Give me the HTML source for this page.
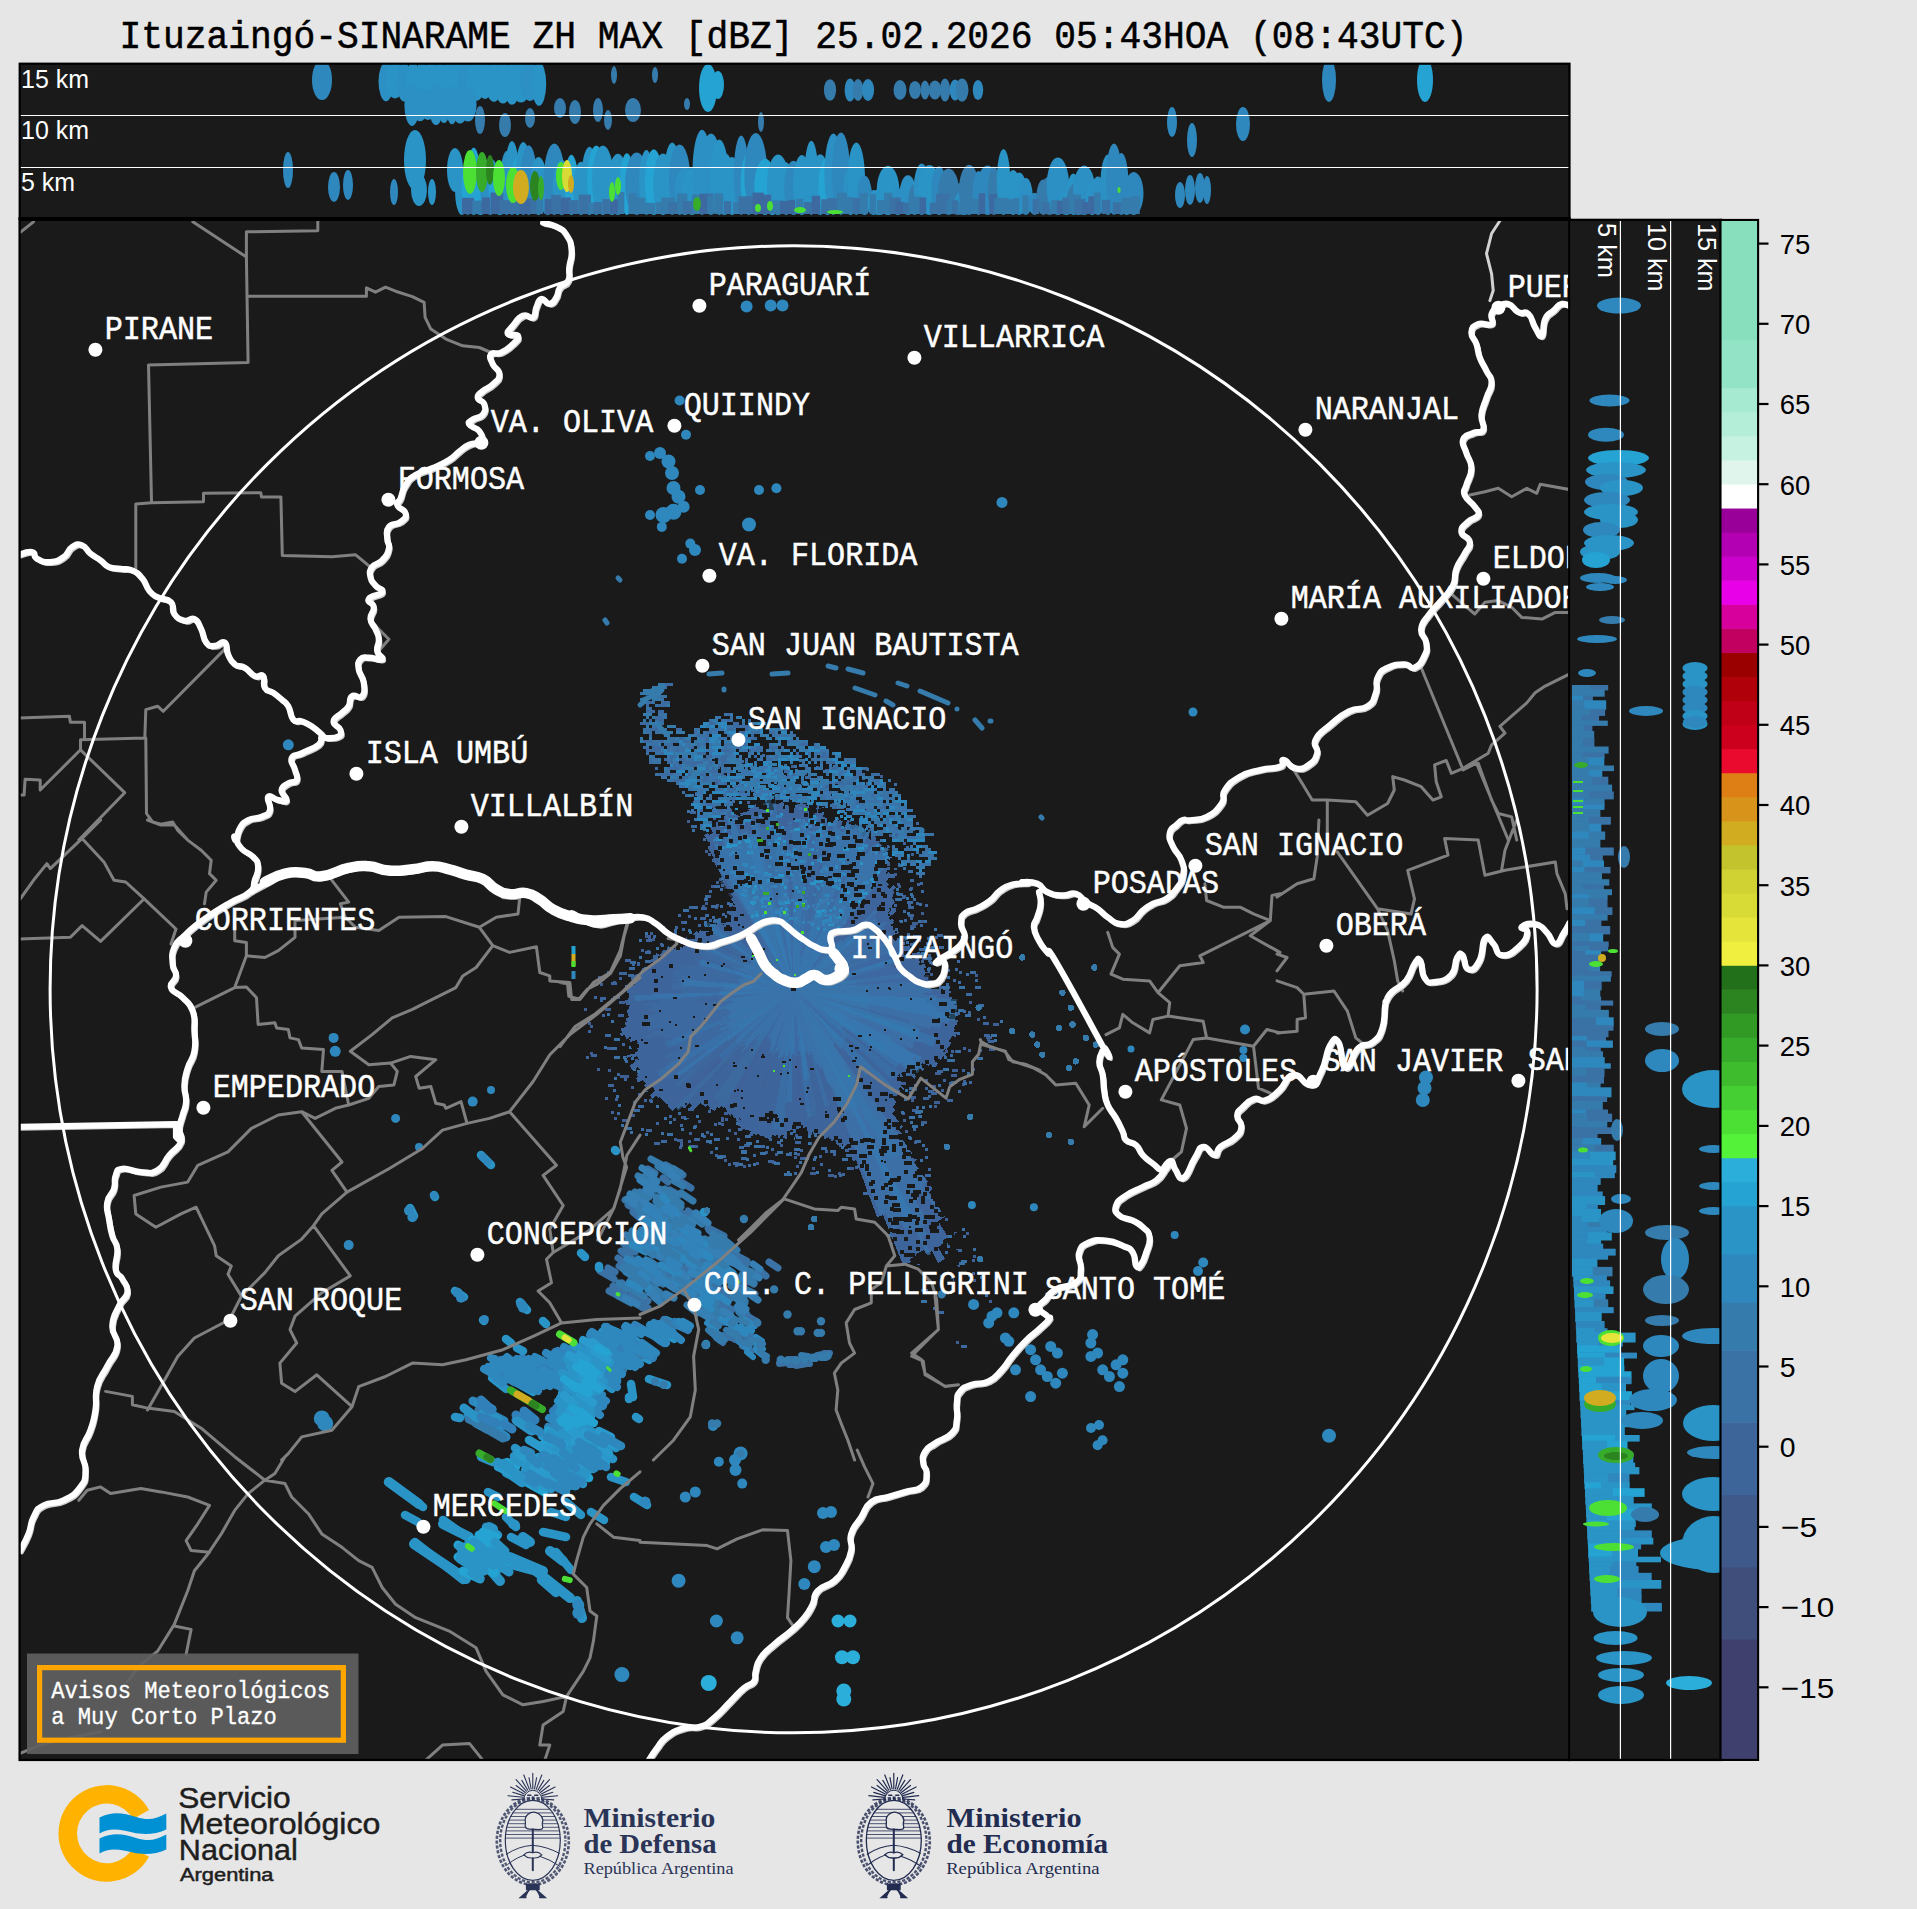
<!DOCTYPE html>
<html><head><meta charset="utf-8"><title>Radar</title>
<style>html,body{margin:0;padding:0;background:#e6e6e6}svg{display:block}.m{font-family:"Liberation Mono",monospace}.s{font-family:"Liberation Sans",sans-serif}.f{font-family:"Liberation Serif",serif}</style></head><body>
<svg width="1917" height="1909" viewBox="0 0 1917 1909">
<rect width="1917" height="1909" fill="#e6e6e6"/>
<defs><clipPath id="cm"><rect x="19.5" y="219.5" width="1550" height="1540"/></clipPath><clipPath id="ct"><rect x="19.5" y="63.5" width="1550" height="154.5"/></clipPath><clipPath id="cr"><rect x="1570.5" y="219.5" width="150" height="1540"/></clipPath></defs>
<text class="m" x="119.5" y="48.0" font-size="38.81" textLength="1347.9" lengthAdjust="spacingAndGlyphs" fill="#000" stroke="#000" stroke-width="0.55" >Ituzaingó-SINARAME ZH MAX [dBZ] 25.02.2026 05:43HOA (08:43UTC)</text>
<rect x="19.5" y="63.5" width="1550" height="154.5" fill="#1a1a1a"/>
<g clip-path="url(#ct)">
<ellipse cx="322.0" cy="80.0" rx="10.0" ry="20.0" fill="#2f88bd"/><ellipse cx="386.0" cy="81.6" rx="7.5" ry="19.6" fill="#2c90c4"/><ellipse cx="395.0" cy="80.2" rx="9.5" ry="18.2" fill="#2a94c6"/><ellipse cx="404.0" cy="81.8" rx="7.2" ry="19.8" fill="#2c90c4"/><ellipse cx="413.0" cy="81.1" rx="7.3" ry="19.1" fill="#2a94c6"/><ellipse cx="422.0" cy="80.3" rx="7.3" ry="18.3" fill="#2a94c6"/><ellipse cx="431.0" cy="80.3" rx="8.7" ry="18.3" fill="#2a94c6"/><ellipse cx="440.0" cy="83.2" rx="8.7" ry="21.2" fill="#2a94c6"/><ellipse cx="449.0" cy="82.9" rx="8.2" ry="20.9" fill="#2a94c6"/><ellipse cx="458.0" cy="80.2" rx="9.6" ry="18.2" fill="#2a94c6"/><ellipse cx="467.0" cy="82.1" rx="8.6" ry="20.1" fill="#2c90c4"/><ellipse cx="476.0" cy="81.5" rx="9.4" ry="19.5" fill="#2a94c6"/><ellipse cx="485.0" cy="80.5" rx="8.7" ry="18.5" fill="#2a94c6"/><ellipse cx="494.0" cy="81.9" rx="8.6" ry="19.9" fill="#2a94c6"/><ellipse cx="503.0" cy="82.8" rx="8.9" ry="20.8" fill="#2a94c6"/><ellipse cx="512.0" cy="83.4" rx="8.3" ry="21.4" fill="#2a94c6"/><ellipse cx="521.0" cy="82.3" rx="9.8" ry="20.3" fill="#2a94c6"/><ellipse cx="530.0" cy="81.5" rx="9.4" ry="19.5" fill="#2c90c4"/><ellipse cx="539.0" cy="83.9" rx="7.2" ry="21.9" fill="#2a94c6"/><ellipse cx="412.0" cy="105.0" rx="7.6" ry="21.0" fill="#2c90c4"/><ellipse cx="420.0" cy="105.0" rx="8.2" ry="16.3" fill="#2c90c4"/><ellipse cx="428.0" cy="105.0" rx="8.9" ry="14.9" fill="#2c90c4"/><ellipse cx="436.0" cy="105.0" rx="7.3" ry="20.1" fill="#2c90c4"/><ellipse cx="444.0" cy="105.0" rx="6.5" ry="17.9" fill="#2c90c4"/><ellipse cx="452.0" cy="105.0" rx="6.1" ry="19.3" fill="#2c90c4"/><ellipse cx="460.0" cy="105.0" rx="8.3" ry="18.6" fill="#2c90c4"/><ellipse cx="468.0" cy="105.0" rx="8.6" ry="16.5" fill="#2c90c4"/><ellipse cx="480.0" cy="120.0" rx="5.0" ry="14.0" fill="#357bac"/><ellipse cx="505.0" cy="125.0" rx="6.0" ry="12.0" fill="#357bac"/><ellipse cx="530.0" cy="118.0" rx="5.0" ry="10.0" fill="#357bac"/><ellipse cx="560.0" cy="108.0" rx="6.0" ry="10.0" fill="#357bac"/><ellipse cx="575.0" cy="112.0" rx="6.0" ry="12.0" fill="#357bac"/><ellipse cx="598.0" cy="110.0" rx="5.0" ry="12.0" fill="#357bac"/><ellipse cx="608.0" cy="120.0" rx="4.0" ry="10.0" fill="#357bac"/><ellipse cx="633.0" cy="110.0" rx="8.0" ry="12.0" fill="#357bac"/><ellipse cx="687.0" cy="104.0" rx="3.0" ry="6.0" fill="#357bac"/><ellipse cx="614.0" cy="75.0" rx="3.0" ry="9.0" fill="#357bac"/><ellipse cx="655.0" cy="75.0" rx="3.0" ry="8.0" fill="#357bac"/><ellipse cx="708.0" cy="88.0" rx="9.0" ry="24.0" fill="#25a3d3"/><ellipse cx="718.0" cy="85.0" rx="6.0" ry="14.0" fill="#25a3d3"/><ellipse cx="761.0" cy="122.0" rx="3.0" ry="10.0" fill="#357bac"/><ellipse cx="830.0" cy="90.0" rx="6.1" ry="10.8" fill="#357bac"/><ellipse cx="850.0" cy="90.0" rx="5.4" ry="11.5" fill="#2f88bd"/><ellipse cx="858.0" cy="90.0" rx="5.4" ry="11.0" fill="#357bac"/><ellipse cx="868.0" cy="90.0" rx="6.1" ry="10.9" fill="#2f88bd"/><ellipse cx="900.0" cy="90.0" rx="6.5" ry="9.9" fill="#357bac"/><ellipse cx="915.0" cy="90.0" rx="6.0" ry="9.1" fill="#357bac"/><ellipse cx="925.0" cy="90.0" rx="4.5" ry="9.4" fill="#357bac"/><ellipse cx="935.0" cy="90.0" rx="6.3" ry="9.4" fill="#357bac"/><ellipse cx="945.0" cy="90.0" rx="5.2" ry="11.6" fill="#357bac"/><ellipse cx="955.0" cy="90.0" rx="5.3" ry="10.6" fill="#2f88bd"/><ellipse cx="962.0" cy="90.0" rx="6.5" ry="11.6" fill="#357bac"/><ellipse cx="978.0" cy="90.0" rx="5.2" ry="10.1" fill="#2f88bd"/><ellipse cx="1172.0" cy="122.0" rx="5.0" ry="15.0" fill="#2f88bd"/><ellipse cx="1192.0" cy="140.0" rx="5.0" ry="17.0" fill="#2f88bd"/><ellipse cx="1243.0" cy="124.0" rx="7.0" ry="17.0" fill="#2f88bd"/><ellipse cx="1329.0" cy="80.0" rx="7.0" ry="22.0" fill="#2f88bd"/><ellipse cx="1425.0" cy="80.0" rx="8.0" ry="22.0" fill="#25a3d3"/><ellipse cx="288.0" cy="170.0" rx="5.0" ry="18.0" fill="#2f88bd"/><ellipse cx="334.0" cy="187.0" rx="6.0" ry="15.0" fill="#2f88bd"/><ellipse cx="348.0" cy="185.0" rx="5.0" ry="15.0" fill="#2f88bd"/><ellipse cx="394.0" cy="192.0" rx="4.0" ry="13.0" fill="#2f88bd"/><ellipse cx="415.0" cy="160.0" rx="11.0" ry="30.0" fill="#2a94c6"/><ellipse cx="419.0" cy="190.0" rx="8.0" ry="16.0" fill="#2a94c6"/><ellipse cx="432.0" cy="192.0" rx="4.0" ry="13.0" fill="#2a94c6"/><ellipse cx="455.0" cy="170.0" rx="8.0" ry="22.0" fill="#2a94c6"/><ellipse cx="462.0" cy="191.4" rx="6.9" ry="23.6" fill="#2a94c6"/><ellipse cx="467.8" cy="186.9" rx="6.1" ry="28.1" fill="#25a3d3"/><ellipse cx="473.7" cy="181.2" rx="6.9" ry="33.8" fill="#25a3d3"/><ellipse cx="480.5" cy="185.5" rx="11.7" ry="29.5" fill="#25a3d3"/><ellipse cx="490.3" cy="186.8" rx="10.4" ry="28.2" fill="#2c90c4"/><ellipse cx="499.8" cy="188.7" rx="11.2" ry="26.3" fill="#25a3d3"/><ellipse cx="506.7" cy="183.0" rx="6.6" ry="32.0" fill="#2c90c4"/><ellipse cx="512.0" cy="178.0" rx="7.3" ry="37.0" fill="#2a94c6"/><ellipse cx="517.6" cy="186.0" rx="6.6" ry="29.0" fill="#25a3d3"/><ellipse cx="523.3" cy="178.5" rx="8.2" ry="36.5" fill="#2a94c6"/><ellipse cx="528.7" cy="180.1" rx="8.3" ry="34.9" fill="#2f88bd"/><ellipse cx="538.5" cy="186.0" rx="8.8" ry="29.0" fill="#2a94c6"/><ellipse cx="547.7" cy="191.9" rx="8.8" ry="23.1" fill="#2c90c4"/><ellipse cx="554.3" cy="179.2" rx="10.5" ry="35.8" fill="#2f88bd"/><ellipse cx="561.7" cy="187.4" rx="9.1" ry="27.6" fill="#2a94c6"/><ellipse cx="571.4" cy="184.9" rx="6.9" ry="30.1" fill="#25a3d3"/><ellipse cx="581.0" cy="188.4" rx="7.8" ry="26.6" fill="#2a94c6"/><ellipse cx="589.5" cy="180.9" rx="8.2" ry="34.1" fill="#2a94c6"/><ellipse cx="596.3" cy="180.3" rx="9.2" ry="34.7" fill="#25a3d3"/><ellipse cx="602.9" cy="180.3" rx="10.9" ry="34.7" fill="#2a94c6"/><ellipse cx="611.9" cy="189.3" rx="10.4" ry="25.7" fill="#2a94c6"/><ellipse cx="617.9" cy="184.4" rx="10.4" ry="30.6" fill="#2a94c6"/><ellipse cx="626.9" cy="184.1" rx="7.2" ry="30.9" fill="#25a3d3"/><ellipse cx="636.7" cy="183.7" rx="11.6" ry="31.3" fill="#2f88bd"/><ellipse cx="646.4" cy="182.5" rx="7.3" ry="32.5" fill="#2a94c6"/><ellipse cx="653.8" cy="182.1" rx="8.9" ry="32.9" fill="#25a3d3"/><ellipse cx="663.0" cy="184.2" rx="9.9" ry="30.8" fill="#2a94c6"/><ellipse cx="672.2" cy="178.8" rx="8.3" ry="36.2" fill="#2a94c6"/><ellipse cx="679.6" cy="179.7" rx="10.7" ry="35.3" fill="#2f88bd"/><ellipse cx="685.0" cy="191.2" rx="10.3" ry="23.8" fill="#2c90c4"/><ellipse cx="692.0" cy="191.2" rx="10.3" ry="23.8" fill="#2a94c6"/><ellipse cx="702.0" cy="172.4" rx="9.5" ry="42.6" fill="#2c90c4"/><ellipse cx="711.0" cy="174.2" rx="11.0" ry="40.8" fill="#2c90c4"/><ellipse cx="719.3" cy="177.3" rx="9.3" ry="37.7" fill="#2a94c6"/><ellipse cx="724.4" cy="184.0" rx="10.4" ry="31.0" fill="#2a94c6"/><ellipse cx="732.0" cy="186.0" rx="8.6" ry="29.0" fill="#2a94c6"/><ellipse cx="741.2" cy="175.2" rx="7.5" ry="39.8" fill="#2f88bd"/><ellipse cx="748.7" cy="183.5" rx="8.0" ry="31.5" fill="#25a3d3"/><ellipse cx="755.8" cy="174.0" rx="11.5" ry="41.0" fill="#2f88bd"/><ellipse cx="765.2" cy="186.9" rx="10.9" ry="28.1" fill="#25a3d3"/><ellipse cx="772.3" cy="190.8" rx="9.0" ry="24.2" fill="#25a3d3"/><ellipse cx="778.1" cy="184.7" rx="11.2" ry="30.3" fill="#2a94c6"/><ellipse cx="786.1" cy="188.6" rx="6.9" ry="26.4" fill="#2a94c6"/><ellipse cx="793.5" cy="187.9" rx="9.3" ry="27.1" fill="#2f88bd"/><ellipse cx="801.9" cy="185.0" rx="8.9" ry="30.0" fill="#2a94c6"/><ellipse cx="811.3" cy="177.9" rx="7.1" ry="37.1" fill="#2a94c6"/><ellipse cx="820.2" cy="184.6" rx="9.4" ry="30.4" fill="#2a94c6"/><ellipse cx="827.4" cy="186.2" rx="9.0" ry="28.8" fill="#25a3d3"/><ellipse cx="833.4" cy="174.2" rx="9.0" ry="40.8" fill="#2c90c4"/><ellipse cx="841.0" cy="173.7" rx="9.1" ry="41.3" fill="#2f88bd"/><ellipse cx="850.6" cy="190.4" rx="7.2" ry="24.6" fill="#2c90c4"/><ellipse cx="856.3" cy="178.8" rx="8.7" ry="36.2" fill="#2a94c6"/><ellipse cx="864.6" cy="195.4" rx="7.3" ry="19.6" fill="#2f88bd"/><ellipse cx="873.5" cy="202.5" rx="6.9" ry="12.5" fill="#2f88bd"/><ellipse cx="879.2" cy="202.2" rx="11.8" ry="12.8" fill="#2a94c6"/><ellipse cx="888.0" cy="190.4" rx="11.3" ry="24.6" fill="#2a94c6"/><ellipse cx="897.9" cy="201.5" rx="7.0" ry="13.5" fill="#2c90c4"/><ellipse cx="907.9" cy="195.1" rx="8.5" ry="19.9" fill="#2c90c4"/><ellipse cx="914.5" cy="199.8" rx="6.1" ry="15.2" fill="#357bac"/><ellipse cx="921.7" cy="189.3" rx="8.0" ry="25.7" fill="#2c90c4"/><ellipse cx="929.3" cy="190.0" rx="11.9" ry="25.0" fill="#2a94c6"/><ellipse cx="939.1" cy="190.6" rx="7.6" ry="24.4" fill="#2f88bd"/><ellipse cx="948.6" cy="191.7" rx="10.5" ry="23.3" fill="#357bac"/><ellipse cx="957.9" cy="199.1" rx="11.7" ry="15.9" fill="#357bac"/><ellipse cx="963.6" cy="202.8" rx="9.4" ry="12.2" fill="#2c90c4"/><ellipse cx="969.1" cy="189.9" rx="10.1" ry="25.1" fill="#357bac"/><ellipse cx="978.6" cy="193.0" rx="6.1" ry="22.0" fill="#2f88bd"/><ellipse cx="987.6" cy="190.3" rx="11.1" ry="24.7" fill="#2f88bd"/><ellipse cx="993.9" cy="190.8" rx="6.1" ry="24.2" fill="#357bac"/><ellipse cx="1003.5" cy="182.0" rx="6.8" ry="33.0" fill="#2a94c6"/><ellipse cx="1013.2" cy="192.5" rx="7.6" ry="22.5" fill="#2a94c6"/><ellipse cx="1019.2" cy="193.7" rx="7.8" ry="21.3" fill="#2a94c6"/><ellipse cx="1025.7" cy="196.5" rx="7.1" ry="18.5" fill="#2c90c4"/><ellipse cx="1034.7" cy="203.9" rx="6.2" ry="11.1" fill="#2f88bd"/><ellipse cx="1043.4" cy="197.3" rx="7.1" ry="17.7" fill="#357bac"/><ellipse cx="1049.6" cy="195.7" rx="9.9" ry="19.3" fill="#357bac"/><ellipse cx="1057.9" cy="186.2" rx="11.3" ry="28.8" fill="#2c90c4"/><ellipse cx="1066.3" cy="203.7" rx="8.1" ry="11.3" fill="#2a94c6"/><ellipse cx="1073.3" cy="194.2" rx="6.3" ry="20.8" fill="#2a94c6"/><ellipse cx="1078.4" cy="198.4" rx="11.3" ry="16.6" fill="#357bac"/><ellipse cx="1084.2" cy="190.3" rx="11.0" ry="24.7" fill="#2c90c4"/><ellipse cx="1092.2" cy="199.4" rx="6.3" ry="15.6" fill="#2a94c6"/><ellipse cx="1098.0" cy="195.7" rx="7.6" ry="19.3" fill="#2c90c4"/><ellipse cx="1107.9" cy="184.7" rx="7.5" ry="30.3" fill="#2c90c4"/><ellipse cx="1114.0" cy="179.2" rx="8.0" ry="35.8" fill="#2f88bd"/><ellipse cx="1121.3" cy="184.0" rx="7.2" ry="31.0" fill="#2f88bd"/><ellipse cx="1126.8" cy="201.3" rx="6.9" ry="13.7" fill="#2f88bd"/><ellipse cx="1133.7" cy="193.5" rx="9.8" ry="21.5" fill="#2f88bd"/><rect x="462.0" y="197.8" width="12.0" height="16.2" fill="#3c6aa0"/><rect x="472.4" y="200.6" width="10.8" height="13.4" fill="#357bac"/><rect x="481.7" y="197.4" width="8.3" height="16.6" fill="#3c6aa0"/><rect x="490.5" y="192.5" width="12.7" height="21.5" fill="#3c6aa0"/><rect x="499.3" y="200.1" width="12.5" height="13.9" fill="#3a72a5"/><rect x="509.8" y="200.3" width="10.5" height="13.7" fill="#3a72a5"/><rect x="519.7" y="198.4" width="13.1" height="15.6" fill="#3c6aa0"/><rect x="530.5" y="199.1" width="6.7" height="14.9" fill="#3a72a5"/><rect x="536.3" y="196.0" width="6.8" height="18.0" fill="#357bac"/><rect x="544.6" y="198.9" width="11.0" height="15.1" fill="#3c6aa0"/><rect x="551.1" y="194.9" width="9.7" height="19.1" fill="#3a72a5"/><rect x="560.6" y="197.5" width="10.3" height="16.5" fill="#3c6aa0"/><rect x="568.7" y="200.2" width="9.8" height="13.8" fill="#3a72a5"/><rect x="578.8" y="194.6" width="12.1" height="19.4" fill="#3a72a5"/><rect x="588.2" y="202.7" width="10.0" height="11.3" fill="#357bac"/><rect x="593.7" y="202.0" width="8.3" height="12.0" fill="#3a72a5"/><rect x="602.4" y="199.1" width="6.6" height="14.9" fill="#3a72a5"/><rect x="609.4" y="199.2" width="11.5" height="14.8" fill="#3c6aa0"/><rect x="617.8" y="192.1" width="6.5" height="21.9" fill="#357bac"/><rect x="628.6" y="193.1" width="7.7" height="20.9" fill="#357bac"/><rect x="635.4" y="197.7" width="9.7" height="16.3" fill="#357bac"/><rect x="645.0" y="202.9" width="10.4" height="11.1" fill="#357bac"/><rect x="655.8" y="202.3" width="6.1" height="11.7" fill="#357bac"/><rect x="661.3" y="197.6" width="14.0" height="16.4" fill="#357bac"/><rect x="668.6" y="202.1" width="13.4" height="11.9" fill="#3a72a5"/><rect x="677.1" y="193.6" width="10.2" height="20.4" fill="#357bac"/><rect x="682.9" y="201.0" width="10.1" height="13.0" fill="#3a72a5"/><rect x="692.1" y="194.5" width="13.2" height="19.5" fill="#357bac"/><rect x="699.5" y="193.7" width="13.6" height="20.3" fill="#3c6aa0"/><rect x="707.2" y="195.3" width="7.1" height="18.7" fill="#357bac"/><rect x="714.5" y="193.3" width="8.7" height="20.7" fill="#357bac"/><rect x="724.0" y="201.2" width="7.0" height="12.8" fill="#3a72a5"/><rect x="733.2" y="201.9" width="8.3" height="12.1" fill="#357bac"/><rect x="738.6" y="196.3" width="13.0" height="17.7" fill="#3a72a5"/><rect x="745.8" y="196.7" width="8.2" height="17.3" fill="#3a72a5"/><rect x="752.5" y="192.6" width="11.3" height="21.4" fill="#3c6aa0"/><rect x="763.1" y="194.7" width="8.1" height="19.3" fill="#3c6aa0"/><rect x="770.0" y="200.5" width="12.3" height="13.5" fill="#357bac"/><rect x="780.3" y="200.9" width="11.0" height="13.1" fill="#3c6aa0"/><rect x="788.6" y="199.9" width="6.4" height="14.1" fill="#3c6aa0"/><rect x="796.1" y="198.8" width="7.1" height="15.2" fill="#357bac"/><rect x="804.0" y="202.0" width="10.4" height="12.0" fill="#3a72a5"/><rect x="811.8" y="195.8" width="8.4" height="18.2" fill="#3c6aa0"/><rect x="821.2" y="199.2" width="9.2" height="14.8" fill="#3a72a5"/><rect x="828.0" y="198.1" width="9.2" height="15.9" fill="#3a72a5"/><rect x="836.9" y="192.8" width="10.0" height="21.2" fill="#357bac"/><rect x="845.2" y="197.0" width="8.7" height="17.0" fill="#357bac"/><rect x="852.8" y="198.0" width="8.0" height="16.0" fill="#3a72a5"/><rect x="859.8" y="193.0" width="7.9" height="21.0" fill="#357bac"/><rect x="869.7" y="194.2" width="6.2" height="19.8" fill="#357bac"/><rect x="877.0" y="200.2" width="7.7" height="13.8" fill="#357bac"/><rect x="884.0" y="192.7" width="8.2" height="21.3" fill="#357bac"/><rect x="889.8" y="197.5" width="11.0" height="16.5" fill="#3a72a5"/><rect x="895.3" y="201.9" width="9.1" height="12.1" fill="#3c6aa0"/><rect x="903.0" y="202.5" width="12.8" height="11.5" fill="#3a72a5"/><rect x="908.7" y="196.7" width="12.1" height="17.3" fill="#357bac"/><rect x="919.6" y="197.4" width="6.6" height="16.6" fill="#3c6aa0"/><rect x="929.7" y="202.7" width="8.0" height="11.3" fill="#3a72a5"/><rect x="936.0" y="193.7" width="13.8" height="20.3" fill="#3a72a5"/><rect x="946.7" y="199.9" width="11.2" height="14.1" fill="#357bac"/><rect x="952.2" y="200.5" width="6.0" height="13.5" fill="#3a72a5"/><rect x="958.6" y="202.1" width="11.2" height="11.9" fill="#357bac"/><rect x="969.4" y="198.9" width="10.2" height="15.1" fill="#357bac"/><rect x="978.6" y="193.2" width="6.6" height="20.8" fill="#3c6aa0"/><rect x="989.2" y="194.1" width="8.1" height="19.9" fill="#3c6aa0"/><rect x="994.2" y="197.9" width="14.0" height="16.1" fill="#357bac"/><rect x="1005.0" y="199.1" width="13.1" height="14.9" fill="#357bac"/><rect x="1013.1" y="198.0" width="6.2" height="16.0" fill="#357bac"/><rect x="1022.4" y="195.4" width="6.2" height="18.6" fill="#357bac"/><rect x="1032.7" y="199.1" width="6.6" height="14.9" fill="#3a72a5"/><rect x="1041.7" y="202.2" width="7.8" height="11.8" fill="#3a72a5"/><rect x="1050.8" y="199.9" width="8.9" height="14.1" fill="#357bac"/><rect x="1057.0" y="200.8" width="11.9" height="13.2" fill="#3c6aa0"/><rect x="1062.4" y="197.5" width="7.6" height="16.5" fill="#3a72a5"/><rect x="1068.8" y="194.4" width="12.1" height="19.6" fill="#357bac"/><rect x="1074.5" y="198.9" width="10.9" height="15.1" fill="#3a72a5"/><rect x="1082.4" y="202.0" width="6.5" height="12.0" fill="#3c6aa0"/><rect x="1088.3" y="196.3" width="7.7" height="17.7" fill="#3c6aa0"/><rect x="1094.1" y="192.6" width="6.5" height="21.4" fill="#357bac"/><rect x="1101.8" y="199.8" width="8.5" height="14.2" fill="#3a72a5"/><rect x="1112.8" y="202.2" width="8.6" height="11.8" fill="#3a72a5"/><rect x="1121.7" y="197.8" width="9.7" height="16.2" fill="#357bac"/><rect x="1130.7" y="196.2" width="9.0" height="17.8" fill="#357bac"/><ellipse cx="1180.0" cy="195.0" rx="5.0" ry="13.0" fill="#2f88bd"/><ellipse cx="1190.0" cy="190.0" rx="5.0" ry="15.0" fill="#2f88bd"/><ellipse cx="1200.0" cy="188.0" rx="5.0" ry="15.0" fill="#2f88bd"/><ellipse cx="1207.0" cy="190.0" rx="4.0" ry="14.0" fill="#2f88bd"/><ellipse cx="470.0" cy="172.0" rx="7.0" ry="22.0" fill="#4ce035"/><ellipse cx="482.0" cy="172.0" rx="6.0" ry="20.0" fill="#37ab2a"/><ellipse cx="490.0" cy="170.0" rx="4.0" ry="15.0" fill="#2b8420"/><ellipse cx="499.0" cy="178.0" rx="6.0" ry="18.0" fill="#4ce035"/><ellipse cx="513.0" cy="185.0" rx="7.0" ry="18.0" fill="#4ce035"/><ellipse cx="521.0" cy="187.0" rx="8.0" ry="17.0" fill="#d1ac20"/><ellipse cx="535.0" cy="186.0" rx="5.0" ry="15.0" fill="#2b8420"/><ellipse cx="541.0" cy="188.0" rx="3.0" ry="12.0" fill="#37ab2a"/><ellipse cx="561.0" cy="176.0" rx="5.0" ry="14.0" fill="#4ce035"/><ellipse cx="567.0" cy="176.0" rx="5.0" ry="16.0" fill="#d8da36"/><ellipse cx="571.0" cy="184.0" rx="3.0" ry="9.0" fill="#d1ac20"/><ellipse cx="612.0" cy="192.0" rx="3.0" ry="10.0" fill="#4ce035"/><ellipse cx="618.0" cy="186.0" rx="3.0" ry="9.0" fill="#4ce035"/><ellipse cx="697.0" cy="204.0" rx="4.0" ry="7.0" fill="#37ab2a"/><ellipse cx="770.0" cy="206.0" rx="3.0" ry="5.0" fill="#4ce035"/><ellipse cx="758.0" cy="208.0" rx="3.0" ry="4.0" fill="#4ce035"/><ellipse cx="800.0" cy="210.0" rx="6.0" ry="3.0" fill="#4ce035"/><ellipse cx="835.0" cy="212.0" rx="8.0" ry="2.0" fill="#4ce035"/><ellipse cx="1119.0" cy="190.0" rx="1.5" ry="3.0" fill="#4ce035"/>
<path d="M19.5 115.5H1569.5 M19.5 167.5H1569.5" stroke="#fff" stroke-width="1.2" fill="none"/>
</g>
<text class="s" x="21.0" y="88.2" font-size="25.00" textLength="68.0" lengthAdjust="spacingAndGlyphs" fill="#fff" >15 km</text>
<text class="s" x="21.0" y="139.4" font-size="25.00" textLength="68.0" lengthAdjust="spacingAndGlyphs" fill="#fff" >10 km</text>
<text class="s" x="21.0" y="190.6" font-size="25.00" textLength="54.0" lengthAdjust="spacingAndGlyphs" fill="#fff" >5 km</text>
<rect x="19.7" y="63.7" width="1549.8" height="155.3" fill="none" stroke="#000" stroke-width="2.2"/>
<path d="M18.5 218.1H1570.6" stroke="#000" stroke-width="2.4"/>
<rect x="19.5" y="219.5" width="1550" height="1540" fill="#1a1a1a"/>
<g clip-path="url(#cm)">
<g shape-rendering="crispEdges"><path d="M848 1167h6v3h-6zM715 906h3v3h-3zM794 1156h3v3h-3zM886 794h3v3h-3zM918 1115h3v3h-3zM889 834h3v3h-3zM664 1092h3v3h-3zM698 1120h3v3h-3zM716 904h3v3h-3zM619 1001h6v3h-6zM695 1145h3v3h-3zM731 819h3v3h-3zM618 1014h6v3h-6zM797 1153h3v3h-3zM795 1134h3v3h-3zM635 1059h3v3h-3zM895 942h3v3h-3zM989 1300h3v3h-3zM838 804h3v3h-3zM828 1174h6v3h-6zM834 761h3v3h-3zM990 1316h3v3h-3zM716 881h3v3h-3zM626 1018h3v3h-3zM903 1119h3v3h-3zM619 977h3v3h-3zM927 1056h3v3h-3zM713 817h3v3h-3zM723 793h3v3h-3zM668 951h3v3h-3zM900 1082h6v3h-6zM689 1132h3v3h-3zM633 1101h3v3h-3zM875 839h6v3h-6zM719 878h3v3h-3zM747 771h3v3h-3zM648 937h3v3h-3zM645 987h3v3h-3zM706 1131h3v3h-3zM890 1243h3v3h-3zM687 820h3v3h-3zM717 766h3v3h-3zM705 902h3v3h-3zM928 954h3v3h-3zM973 1255h3v3h-3zM809 797h3v3h-3zM733 905h3v3h-3zM945 1050h3v3h-3zM901 950h3v3h-3zM945 1218h3v3h-3zM629 1114h6v3h-6zM902 896h3v3h-3zM688 1140h3v3h-3zM600 983h3v3h-3zM769 1129h3v3h-3zM738 775h3v3h-3zM973 1279h3v3h-3zM810 1172h6v3h-6zM588 1022h3v3h-3zM898 885h3v3h-3zM925 1057h6v3h-6zM929 1058h3v3h-3zM972 1068h3v3h-3zM633 1028h6v3h-6zM969 1001h3v3h-3zM674 1138h3v3h-3zM946 995h3v3h-3zM905 1130h3v3h-3zM893 1093h3v3h-3zM912 955h3v3h-3zM773 1161h3v3h-3zM791 765h3v3h-3zM968 1049h3v3h-3zM922 956h3v3h-3zM688 915h3v3h-3zM894 833h6v3h-6zM772 1161h3v3h-3zM673 1118h3v3h-3zM993 1023h6v3h-6zM924 977h3v3h-3zM675 947h3v3h-3zM957 1265h3v3h-3zM894 873h3v3h-3zM921 912h3v3h-3zM925 1079h3v3h-3zM614 1117h3v3h-3zM919 1059h3v3h-3zM737 1119h3v3h-3zM809 1142h3v3h-3zM641 949h3v3h-3zM896 944h3v3h-3zM681 1116h6v3h-6zM681 921h6v3h-6zM631 1086h3v3h-3zM584 1008h3v3h-3zM720 923h3v3h-3zM884 809h3v3h-3zM835 781h6v3h-6zM646 975h3v3h-3zM780 1144h3v3h-3zM623 1075h6v3h-6zM910 927h3v3h-3zM749 749h6v3h-6zM874 810h3v3h-3zM775 1153h3v3h-3zM656 967h3v3h-3zM834 1175h3v3h-3zM638 1093h3v3h-3zM910 1096h6v3h-6zM914 1088h3v3h-3zM765 1151h3v3h-3zM934 1105h3v3h-3zM733 1114h3v3h-3zM793 789h3v3h-3zM730 1106h6v3h-6zM898 919h3v3h-3zM800 1157h6v3h-6zM921 1121h6v3h-6zM705 850h3v3h-3zM727 811h3v3h-3zM893 908h3v3h-3zM722 823h3v3h-3zM839 1144h3v3h-3zM911 953h6v3h-6zM721 1117h3v3h-3zM812 1167h3v3h-3zM680 1141h3v3h-3zM824 796h3v3h-3zM934 1101h6v3h-6zM712 805h3v3h-3zM930 1085h6v3h-6zM608 1069h3v3h-3zM796 1165h3v3h-3zM896 829h3v3h-3zM695 792h3v3h-3zM647 951h3v3h-3zM921 1289h3v3h-3zM717 1155h3v3h-3zM705 914h3v3h-3zM742 796h3v3h-3zM954 1232h3v3h-3zM897 883h3v3h-3zM880 775h3v3h-3zM796 791h3v3h-3zM680 941h3v3h-3zM728 1129h3v3h-3zM725 760h3v3h-3zM825 769h6v3h-6zM605 1008h6v3h-6zM620 1075h3v3h-3zM625 1000h6v3h-6zM734 1132h3v3h-3zM641 974h3v3h-3zM725 1118h3v3h-3zM977 1018h3v3h-3zM912 922h6v3h-6zM987 1038h3v3h-3zM884 863h6v3h-6zM597 1068h3v3h-3zM627 1002h3v3h-3zM650 932h3v3h-3zM622 1119h6v3h-6zM952 1069h6v3h-6zM743 1165h3v3h-3zM702 905h3v3h-3zM617 996h3v3h-3zM724 1159h3v3h-3zM724 1112h3v3h-3zM638 1071h3v3h-3zM630 1027h3v3h-3zM930 973h3v3h-3zM910 925h6v3h-6zM645 935h6v3h-6zM911 853h3v3h-3zM956 1341h3v3h-3zM590 1025h3v3h-3zM868 793h3v3h-3zM986 1036h6v3h-6zM738 769h6v3h-6zM708 853h3v3h-3zM632 980h3v3h-3zM921 920h6v3h-6zM607 1047h6v3h-6zM975 974h3v3h-3zM891 891h3v3h-3zM756 1162h3v3h-3zM883 857h3v3h-3zM613 981h3v3h-3zM652 938h3v3h-3zM682 951h3v3h-3zM951 1074h6v3h-6zM838 823h3v3h-3zM744 1150h3v3h-3zM747 801h3v3h-3zM819 1155h3v3h-3zM590 1052h3v3h-3zM650 1100h3v3h-3zM937 1048h3v3h-3zM989 1048h6v3h-6zM715 782h3v3h-3zM968 1274h3v3h-3zM881 891h3v3h-3zM761 1131h3v3h-3zM966 1232h3v3h-3zM941 1089h3v3h-3zM729 904h3v3h-3zM624 1006h3v3h-3zM963 1080h3v3h-3zM743 788h3v3h-3zM721 1123h3v3h-3zM935 1072h6v3h-6zM629 1035h3v3h-3zM914 1141h3v3h-3zM711 885h3v3h-3zM670 1093h6v3h-6zM829 1136h6v3h-6zM677 1139h6v3h-6zM838 1172h3v3h-3z" fill="#3e5f93"/><path d="M786 1153h6v3h-6zM745 771h3v3h-3zM901 1263h3v3h-3zM830 1150h6v3h-6zM784 1173h6v3h-6zM871 836h3v3h-3zM739 783h6v3h-6zM902 942h3v3h-3zM631 1015h6v3h-6zM907 933h3v3h-3zM720 888h3v3h-3zM694 1125h3v3h-3zM727 902h3v3h-3zM919 948h3v3h-3zM732 800h3v3h-3zM846 1154h6v3h-6zM638 1105h6v3h-6zM925 1156h3v3h-3zM714 1138h6v3h-6zM769 1138h3v3h-3zM950 1054h3v3h-3zM641 1128h3v3h-3zM706 914h3v3h-3zM694 917h3v3h-3zM944 1056h3v3h-3zM903 946h3v3h-3zM691 825h6v3h-6zM633 975h3v3h-3zM929 961h3v3h-3zM925 1148h3v3h-3zM925 1174h6v3h-6zM629 967h6v3h-6zM921 890h3v3h-3zM709 919h3v3h-3zM637 962h3v3h-3zM983 1016h3v3h-3zM636 987h3v3h-3zM863 1192h6v3h-6zM940 1274h3v3h-3zM741 1157h6v3h-6zM947 1059h3v3h-3zM748 1164h3v3h-3zM917 967h3v3h-3zM684 780h3v3h-3zM783 793h3v3h-3zM942 1042h3v3h-3zM669 960h3v3h-3zM605 1034h6v3h-6zM662 926h3v3h-3zM683 1105h3v3h-3zM686 1116h3v3h-3zM674 929h3v3h-3zM607 971h3v3h-3zM680 1124h3v3h-3zM738 1113h3v3h-3zM827 1131h3v3h-3zM958 981h3v3h-3zM973 1248h3v3h-3zM920 1066h3v3h-3zM866 782h6v3h-6zM815 1127h3v3h-3zM712 916h3v3h-3zM911 895h3v3h-3zM924 920h3v3h-3zM629 1032h3v3h-3zM760 755h3v3h-3zM722 921h3v3h-3zM726 1137h3v3h-3zM628 974h6v3h-6zM952 1059h3v3h-3zM910 879h3v3h-3zM975 979h3v3h-3zM754 769h3v3h-3zM966 993h6v3h-6zM958 1090h3v3h-3zM720 1155h6v3h-6zM692 906h6v3h-6zM975 986h6v3h-6zM821 1147h6v3h-6zM963 1010h3v3h-3zM918 939h3v3h-3zM645 1076h3v3h-3zM759 1145h6v3h-6zM916 1106h3v3h-3zM727 759h3v3h-3zM796 1136h6v3h-6zM978 1004h6v3h-6zM751 789h3v3h-3zM741 760h3v3h-3zM650 1100h3v3h-3zM951 1081h6v3h-6zM913 1128h3v3h-3zM915 1140h6v3h-6zM928 1055h3v3h-3zM741 1146h3v3h-3zM915 935h6v3h-6zM910 943h6v3h-6zM782 1124h3v3h-3zM949 1082h3v3h-3zM611 998h3v3h-3zM948 1212h3v3h-3zM961 1345h6v3h-6zM980 1276h3v3h-3zM689 1145h6v3h-6zM966 973h3v3h-3zM777 1141h3v3h-3zM699 935h6v3h-6zM894 783h3v3h-3zM711 905h6v3h-6zM648 1085h3v3h-3zM919 948h6v3h-6zM656 1076h3v3h-3zM982 1043h6v3h-6zM907 901h6v3h-6zM617 1112h3v3h-3zM625 1060h3v3h-3zM645 960h6v3h-6zM893 848h3v3h-3zM714 885h6v3h-6zM906 846h3v3h-3zM917 952h3v3h-3zM671 948h3v3h-3zM938 1311h6v3h-6zM745 1135h6v3h-6zM941 987h3v3h-3zM908 870h3v3h-3zM891 873h3v3h-3zM637 1079h3v3h-3zM674 932h3v3h-3zM780 797h3v3h-3zM723 775h3v3h-3zM730 903h3v3h-3zM701 760h6v3h-6zM718 820h3v3h-3zM945 1243h3v3h-3zM795 817h6v3h-6zM907 1068h3v3h-3zM957 960h3v3h-3zM759 1126h6v3h-6zM931 962h3v3h-3zM794 794h3v3h-3zM703 838h3v3h-3zM905 948h6v3h-6zM724 818h3v3h-3zM733 814h3v3h-3zM880 825h3v3h-3zM895 928h3v3h-3zM970 971h6v3h-6zM762 754h3v3h-3zM653 935h3v3h-3zM677 940h3v3h-3zM718 918h3v3h-3zM773 774h3v3h-3zM794 1172h3v3h-3zM788 786h6v3h-6zM897 821h3v3h-3zM922 953h3v3h-3zM713 920h6v3h-6zM870 798h6v3h-6zM900 936h6v3h-6zM928 1095h3v3h-3zM748 1120h3v3h-3zM867 783h3v3h-3zM914 1084h3v3h-3zM945 1251h3v3h-3zM892 930h3v3h-3zM867 1189h3v3h-3zM678 1112h3v3h-3zM705 895h3v3h-3zM944 961h3v3h-3zM946 983h3v3h-3zM766 803h3v3h-3zM645 951h6v3h-6zM942 981h3v3h-3zM866 825h6v3h-6zM922 1144h3v3h-3zM794 1148h6v3h-6zM897 893h6v3h-6zM661 1140h6v3h-6zM913 898h3v3h-3zM901 1246h3v3h-3zM957 1032h3v3h-3zM684 921h3v3h-3zM963 1235h3v3h-3zM933 1307h3v3h-3zM918 938h3v3h-3zM753 1154h3v3h-3zM947 1245h3v3h-3zM611 1047h6v3h-6zM903 910h3v3h-3zM720 905h3v3h-3zM713 803h6v3h-6zM828 1169h3v3h-3zM683 778h3v3h-3zM911 927h3v3h-3zM909 1091h3v3h-3zM759 775h3v3h-3zM738 1128h3v3h-3zM933 1051h3v3h-3zM701 1133h3v3h-3zM938 1084h3v3h-3zM790 1132h3v3h-3zM630 961h6v3h-6zM663 930h3v3h-3zM884 886h3v3h-3zM634 1109h6v3h-6zM737 1163h3v3h-3zM704 923h3v3h-3zM871 1194h3v3h-3zM798 795h3v3h-3zM920 882h3v3h-3zM613 1089h3v3h-3zM632 963h3v3h-3zM900 1074h3v3h-3z" fill="#3c6ba1"/><path d="M646 1129h6v3h-6zM939 1041h6v3h-6zM699 937h3v3h-3zM972 1259h3v3h-3zM698 924h3v3h-3zM949 954h6v3h-6zM910 887h3v3h-3zM923 957h3v3h-3zM949 1033h3v3h-3zM947 969h3v3h-3zM948 953h3v3h-3zM968 1011h3v3h-3zM586 1056h3v3h-3zM931 1092h6v3h-6zM669 1115h3v3h-3zM833 1153h3v3h-3zM903 895h3v3h-3zM625 959h6v3h-6zM845 1149h6v3h-6zM969 1081h3v3h-3zM948 954h3v3h-3zM804 1123h6v3h-6zM924 948h6v3h-6zM803 1157h6v3h-6zM894 867h3v3h-3zM911 879h3v3h-3zM591 1054h6v3h-6zM654 965h3v3h-3zM729 913h3v3h-3zM928 947h3v3h-3zM661 944h3v3h-3zM780 756h3v3h-3zM909 888h3v3h-3zM922 957h3v3h-3zM693 801h3v3h-3zM665 950h3v3h-3zM709 890h3v3h-3zM598 976h3v3h-3zM744 1144h6v3h-6zM683 946h6v3h-6zM700 917h6v3h-6zM615 1098h3v3h-3zM761 799h6v3h-6zM855 804h3v3h-3zM628 1006h3v3h-3zM728 921h3v3h-3zM968 1013h3v3h-3zM928 967h3v3h-3zM594 996h3v3h-3zM979 1049h3v3h-3zM937 956h3v3h-3zM721 1119h3v3h-3zM828 781h6v3h-6zM800 1149h3v3h-3zM768 1160h6v3h-6zM809 1132h3v3h-3zM916 902h3v3h-3zM928 1090h6v3h-6zM653 955h6v3h-6zM923 1097h6v3h-6zM608 1084h6v3h-6zM945 1032h3v3h-3zM728 767h3v3h-3zM913 942h3v3h-3zM855 1166h3v3h-3zM884 867h6v3h-6zM937 1070h6v3h-6zM721 884h3v3h-3zM904 919h3v3h-3zM934 1246h3v3h-3zM628 988h3v3h-3zM611 1111h3v3h-3zM644 1099h3v3h-3zM909 828h6v3h-6zM939 946h3v3h-3zM935 936h3v3h-3zM660 943h3v3h-3zM983 1022h6v3h-6zM772 786h3v3h-3zM947 986h3v3h-3zM667 957h6v3h-6zM690 811h6v3h-6zM694 1138h6v3h-6zM840 787h6v3h-6zM716 928h3v3h-3zM613 996h3v3h-3zM910 917h3v3h-3zM919 953h3v3h-3zM894 904h3v3h-3zM778 1141h3v3h-3zM735 906h6v3h-6zM588 1030h3v3h-3zM710 1151h3v3h-3zM951 1050h3v3h-3zM953 979h3v3h-3zM947 1004h3v3h-3zM704 898h3v3h-3zM925 904h3v3h-3zM984 1034h6v3h-6zM917 1264h3v3h-3zM804 772h3v3h-3zM715 1154h3v3h-3zM689 906h3v3h-3zM646 939h6v3h-6zM879 798h3v3h-3zM722 913h3v3h-3zM637 963h3v3h-3zM602 1014h3v3h-3zM789 1152h3v3h-3zM912 1109h3v3h-3zM881 811h3v3h-3zM933 1042h3v3h-3zM889 905h3v3h-3zM951 1278h3v3h-3zM644 1075h3v3h-3zM675 926h3v3h-3zM682 928h3v3h-3zM816 766h3v3h-3zM925 1087h3v3h-3zM963 1047h3v3h-3zM736 1118h3v3h-3zM737 1138h3v3h-3zM654 1142h6v3h-6zM686 937h6v3h-6zM908 914h6v3h-6zM889 875h6v3h-6zM862 777h3v3h-3zM610 1084h3v3h-3zM915 1109h3v3h-3zM649 1099h3v3h-3zM735 1164h3v3h-3zM943 1079h3v3h-3zM611 982h6v3h-6zM962 1069h3v3h-3zM738 792h3v3h-3zM928 1168h3v3h-3zM959 971h3v3h-3zM886 810h3v3h-3zM735 907h3v3h-3zM945 1240h6v3h-6zM687 779h6v3h-6zM728 1163h3v3h-3zM630 1001h3v3h-3zM648 1071h6v3h-6zM820 1163h3v3h-3zM795 1141h6v3h-6zM745 772h3v3h-3zM937 934h6v3h-6zM631 977h3v3h-3zM826 1134h3v3h-3zM622 1043h3v3h-3zM852 812h3v3h-3zM718 1122h3v3h-3zM926 942h6v3h-6zM904 1073h6v3h-6zM902 1112h3v3h-3zM962 1083h3v3h-3zM771 1148h3v3h-3zM714 1123h3v3h-3zM929 936h3v3h-3zM621 972h6v3h-6zM726 757h3v3h-3zM600 999h3v3h-3zM720 921h3v3h-3zM956 1249h6v3h-6zM921 960h3v3h-3zM908 903h3v3h-3zM905 959h3v3h-3zM955 968h3v3h-3zM619 972h3v3h-3zM861 829h3v3h-3zM820 803h3v3h-3zM783 813h3v3h-3zM701 907h6v3h-6zM779 756h3v3h-3zM646 982h3v3h-3zM931 1054h3v3h-3zM988 1040h6v3h-6zM713 804h3v3h-3zM972 1272h3v3h-3zM927 937h3v3h-3zM680 1144h3v3h-3zM908 906h6v3h-6zM800 801h3v3h-3zM981 1042h3v3h-3zM605 1097h3v3h-3zM825 1150h3v3h-3zM688 1108h6v3h-6zM757 811h3v3h-3zM903 842h3v3h-3zM739 1146h3v3h-3zM713 928h3v3h-3zM727 911h3v3h-3zM917 883h3v3h-3zM928 959h3v3h-3zM660 964h3v3h-3zM955 1050h6v3h-6zM866 809h3v3h-3zM827 1131h3v3h-3zM904 948h3v3h-3zM647 950h3v3h-3zM759 791h3v3h-3zM656 1122h3v3h-3zM712 859h6v3h-6zM678 914h3v3h-3zM897 938h6v3h-6zM642 975h3v3h-3zM911 943h3v3h-3zM849 797h6v3h-6zM916 822h3v3h-3zM679 1146h3v3h-3zM842 1173h3v3h-3zM941 946h3v3h-3zM922 972h3v3h-3zM911 1099h3v3h-3zM709 1141h3v3h-3zM640 1006h6v3h-6zM624 1078h3v3h-3zM708 1110h3v3h-3zM703 1135h3v3h-3zM679 947h3v3h-3zM895 898h3v3h-3zM645 1089h3v3h-3zM887 845h3v3h-3zM887 862h3v3h-3zM920 924h3v3h-3zM708 895h3v3h-3zM617 1073h3v3h-3zM947 1099h6v3h-6zM774 777h3v3h-3zM733 1162h6v3h-6zM931 1051h3v3h-3zM600 997h6v3h-6z" fill="#3e659b"/><path d="M940 1053h3v3h-3zM736 1122h3v3h-3zM794 765h3v3h-3zM781 803h3v3h-3zM643 968h6v3h-6zM883 873h3v3h-3zM929 1105h3v3h-3zM813 1158h3v3h-3zM793 816h3v3h-3zM894 809h6v3h-6zM774 1162h6v3h-6zM910 1121h3v3h-3zM909 1116h6v3h-6zM967 1072h3v3h-3zM633 1068h3v3h-3zM835 1133h3v3h-3zM897 863h3v3h-3zM905 937h3v3h-3zM741 1151h6v3h-6zM753 1163h3v3h-3zM692 829h3v3h-3zM672 951h3v3h-3zM683 909h6v3h-6zM959 986h6v3h-6zM909 948h3v3h-3zM794 1152h3v3h-3zM687 810h3v3h-3zM931 946h3v3h-3zM604 1046h3v3h-3zM943 1068h6v3h-6zM913 935h6v3h-6zM789 1173h3v3h-3zM896 898h6v3h-6zM1000 1020h3v3h-3zM667 1133h6v3h-6zM806 805h3v3h-3zM905 1089h3v3h-3zM625 985h6v3h-6zM866 768h3v3h-3zM639 956h3v3h-3zM741 1150h6v3h-6zM813 1131h6v3h-6zM919 903h3v3h-3zM799 1161h3v3h-3zM725 915h3v3h-3zM921 1300h6v3h-6zM909 1087h6v3h-6zM706 1140h6v3h-6zM894 831h3v3h-3zM898 805h3v3h-3zM943 986h6v3h-6zM909 1137h3v3h-3zM985 1294h3v3h-3zM921 952h3v3h-3zM759 811h3v3h-3zM940 1050h3v3h-3zM808 1142h3v3h-3zM900 920h3v3h-3zM630 1131h3v3h-3zM639 1047h3v3h-3zM712 756h3v3h-3zM950 1001h6v3h-6zM893 864h3v3h-3zM964 1082h3v3h-3zM918 920h3v3h-3zM910 870h3v3h-3zM884 890h6v3h-6zM794 805h3v3h-3zM957 1050h3v3h-3zM977 1057h6v3h-6zM880 831h3v3h-3zM792 1137h3v3h-3zM803 783h6v3h-6zM678 950h3v3h-3zM858 830h3v3h-3zM618 1104h3v3h-3zM947 976h3v3h-3zM859 804h3v3h-3zM839 1174h3v3h-3zM623 1056h3v3h-3zM704 921h3v3h-3zM777 1151h6v3h-6zM645 932h3v3h-3zM703 828h3v3h-3zM865 810h3v3h-3zM935 946h3v3h-3zM814 1134h3v3h-3zM965 1014h6v3h-6zM836 805h3v3h-3zM901 1111h3v3h-3zM696 1115h3v3h-3zM669 1121h3v3h-3zM626 1027h3v3h-3zM666 1094h3v3h-3zM896 888h3v3h-3zM958 1009h6v3h-6zM904 1098h3v3h-3zM637 1070h3v3h-3zM886 1234h6v3h-6zM937 958h3v3h-3zM945 1010h3v3h-3zM748 815h3v3h-3zM962 1228h3v3h-3zM804 812h6v3h-6zM611 1020h3v3h-3zM664 1117h3v3h-3zM912 1073h3v3h-3zM876 816h3v3h-3zM766 1146h3v3h-3zM932 1064h3v3h-3zM656 947h3v3h-3zM898 945h3v3h-3zM717 922h3v3h-3zM671 953h3v3h-3zM884 866h3v3h-3zM921 1123h3v3h-3zM888 901h3v3h-3zM621 1005h6v3h-6zM905 954h6v3h-6zM915 1111h6v3h-6zM993 1034h3v3h-3zM656 1105h3v3h-3zM710 1133h3v3h-3zM946 1235h6v3h-6zM841 1146h3v3h-3zM919 1115h3v3h-3zM799 759h6v3h-6zM940 1241h3v3h-3zM908 1136h3v3h-3zM742 769h3v3h-3zM681 1128h3v3h-3zM796 1148h3v3h-3zM710 924h6v3h-6zM689 931h3v3h-3zM662 929h3v3h-3zM715 1147h3v3h-3zM816 1171h3v3h-3zM629 1046h3v3h-3zM607 1013h3v3h-3zM793 1130h3v3h-3zM723 767h3v3h-3zM624 1058h3v3h-3zM808 1135h3v3h-3zM746 1158h3v3h-3zM871 773h3v3h-3zM814 1156h3v3h-3zM719 788h3v3h-3zM769 1132h6v3h-6zM889 873h3v3h-3zM688 929h3v3h-3zM851 806h3v3h-3zM614 1077h3v3h-3zM906 941h3v3h-3zM785 805h3v3h-3zM705 898h3v3h-3zM891 908h3v3h-3zM922 1106h3v3h-3zM642 1066h3v3h-3zM936 1040h3v3h-3zM631 1057h3v3h-3zM754 1145h6v3h-6zM784 1173h3v3h-3zM626 1127h6v3h-6zM714 925h3v3h-3zM710 838h6v3h-6zM766 805h3v3h-3zM614 1056h6v3h-6zM955 1013h3v3h-3zM760 1152h6v3h-6zM644 967h3v3h-3zM994 1039h3v3h-3zM925 1289h3v3h-3zM934 928h3v3h-3zM695 793h3v3h-3zM614 1038h6v3h-6zM888 779h3v3h-3zM779 808h3v3h-3zM717 1156h6v3h-6zM646 982h3v3h-3zM920 1159h3v3h-3zM642 1044h3v3h-3zM937 954h3v3h-3zM833 765h3v3h-3zM927 968h3v3h-3zM721 920h3v3h-3zM937 1036h3v3h-3zM959 1262h6v3h-6zM897 864h6v3h-6zM780 1139h3v3h-3zM621 1124h3v3h-3zM714 919h6v3h-6zM845 827h3v3h-3zM661 1132h3v3h-3zM906 1072h3v3h-3zM915 1125h3v3h-3zM721 877h3v3h-3zM645 1133h3v3h-3zM701 1134h3v3h-3zM736 791h6v3h-6zM924 946h3v3h-3zM903 867h3v3h-3zM947 1059h6v3h-6zM910 893h3v3h-3zM740 1163h3v3h-3zM766 1129h3v3h-3zM917 1110h6v3h-6zM926 957h6v3h-6zM693 1126h3v3h-3zM756 1140h3v3h-3zM780 765h3v3h-3zM842 1158h6v3h-6zM857 1165h6v3h-6zM906 897h3v3h-3zM912 1125h6v3h-6zM639 939h3v3h-3zM639 1010h6v3h-6zM847 1167h3v3h-3zM836 798h3v3h-3zM783 780h3v3h-3zM726 890h3v3h-3zM991 1034h6v3h-6zM749 814h6v3h-6zM787 1171h3v3h-3zM907 912h3v3h-3zM830 804h3v3h-3zM961 1260h6v3h-6zM687 1100h3v3h-3zM746 1142h6v3h-6zM896 892h3v3h-3zM635 998h3v3h-3zM688 782h3v3h-3zM616 1095h3v3h-3zM684 1117h3v3h-3zM895 1077h6v3h-6zM919 971h6v3h-6z" fill="#3a72a5"/><path d="M794 807 797 807 797 804 801 804 801 801 803 801 803 804 808 804 808 811 810 812 810 813 812 813 812 815 815 815 816 805 819 806 819 810 821 811 822 807 825 808 823 817 827 818 827 823 829 823 829 822 833 823 834 820 839 821 839 820 843 821 841 826 845 827 847 820 850 821 848 824 851 825 850 828 854 829 855 827 858 828 858 829 861 831 862 827 864 828 861 836 864 837 867 831 870 833 868 838 871 840 873 836 876 837 875 841 878 842 878 842 882 845 880 847 885 850 882 853 885 855 886 855 887 856 885 858 887 860 887 861 889 863 886 866 889 869 885 873 886 874 888 872 891 875 886 882 889 884 887 886 889 889 893 885 896 887 891 892 893 894 892 895 893 896 891 898 893 900 893 900 894 901 894 901 895 903 889 908 890 910 888 912 888 913 894 908 895 909 895 910 896 912 888 918 890 920 894 918 895 920 893 921 894 923 891 924 893 927 892 928 893 929 893 929 894 931 897 930 899 933 892 936 893 938 893 938 895 941 898 939 899 941 901 940 901 942 902 941 903 944 901 945 902 948 909 945 911 949 911 949 912 950 909 951 910 955 911 955 911 958 911 958 912 959 918 958 919 959 919 959 920 963 919 963 919 965 925 964 926 968 924 968 925 972 930 971 930 973 924 973 924 977 928 977 928 980 932 980 932 982 938 982 938 985 943 985 943 987 942 987 942 989 949 989 949 991 951 991 951 993 949 993 949 995 948 995 948 997 952 997 951 1002 955 1002 954 1005 957 1005 957 1009 955 1009 954 1012 960 1012 960 1015 946 1013 945 1018 958 1020 957 1025 955 1025 954 1029 955 1029 954 1032 957 1032 956 1037 952 1036 950 1040 952 1040 951 1043 951 1043 949 1047 948 1047 947 1050 945 1049 943 1052 946 1053 945 1055 946 1055 945 1057 943 1056 941 1060 936 1058 935 1060 935 1060 934 1061 938 1063 936 1067 930 1064 929 1066 922 1063 921 1065 925 1067 923 1071 919 1068 916 1072 916 1071 913 1074 916 1076 915 1079 907 1073 906 1075 902 1072 900 1075 899 1074 898 1076 900 1078 898 1079 901 1082 899 1084 904 1089 903 1090 900 1087 898 1089 900 1091 899 1093 899 1093 896 1096 896 1096 894 1099 896 1102 895 1103 895 1104 892 1107 895 1110 892 1113 903 1127 899 1130 902 1134 900 1136 917 1160 914 1162 933 1189 929 1192 945 1217 938 1221 948 1237 944 1240 944 1240 941 1242 943 1245 938 1247 945 1259 938 1263 932 1251 926 1254 924 1250 916 1254 916 1256 910 1259 911 1262 903 1265 883 1215 877 1217 856 1160 853 1161 847 1145 845 1146 846 1146 844 1147 843 1144 839 1146 838 1145 837 1145 835 1140 831 1141 830 1137 828 1137 828 1138 824 1139 823 1133 819 1134 819 1134 814 1134 814 1132 811 1132 812 1135 808 1135 807 1127 803 1128 803 1125 801 1125 801 1128 799 1128 799 1129 796 1129 796 1132 793 1132 793 1130 790 1130 790 1131 787 1131 787 1139 783 1138 784 1135 781 1135 780 1138 776 1137 776 1136 772 1135 771 1140 768 1139 768 1138 766 1138 766 1138 764 1137 764 1136 760 1136 760 1135 757 1134 757 1135 753 1134 753 1136 749 1135 751 1131 747 1130 747 1130 743 1129 742 1131 740 1131 741 1127 738 1126 741 1119 738 1118 738 1119 735 1118 735 1119 734 1118 735 1116 731 1114 731 1116 728 1114 727 1115 725 1114 727 1111 725 1109 726 1108 724 1107 724 1108 721 1106 719 1108 717 1107 715 1111 711 1109 711 1110 709 1109 710 1107 707 1105 705 1107 703 1105 703 1106 700 1103 693 1111 690 1108 692 1105 689 1103 684 1108 681 1106 678 1109 676 1107 672 1111 669 1108 669 1108 667 1106 668 1105 667 1104 666 1104 663 1101 663 1101 660 1097 658 1098 656 1096 652 1099 650 1095 655 1091 654 1089 654 1089 652 1086 647 1089 644 1085 646 1084 643 1080 638 1083 636 1078 638 1077 636 1075 641 1072 640 1069 639 1069 638 1067 632 1070 631 1068 631 1068 630 1065 639 1060 637 1056 633 1058 632 1056 627 1058 626 1056 638 1051 637 1047 636 1047 635 1044 638 1043 637 1040 630 1042 629 1038 626 1039 625 1035 621 1036 620 1033 622 1033 621 1028 626 1027 625 1022 627 1022 626 1018 629 1017 628 1015 628 1015 627 1010 628 1010 628 1007 630 1007 630 1005 626 1005 626 1003 628 1003 628 998 629 998 629 993 627 993 627 989 626 989 626 985 635 985 635 982 632 982 632 978 635 979 636 974 641 975 641 973 641 973 642 968 648 969 649 966 652 966 653 962 650 962 651 959 653 959 653 957 655 957 656 953 660 955 661 953 662 953 663 950 667 950 667 949 667 949 668 946 678 950 680 947 684 949 686 946 687 946 688 943 684 942 686 938 689 939 690 937 693 938 694 936 693 935 695 932 695 932 696 931 699 933 700 930 702 931 702 930 702 929 702 928 705 929 706 928 705 927 706 925 709 927 710 925 714 928 715 927 715 927 717 924 717 925 719 923 722 926 724 924 724 924 726 922 725 921 727 919 727 920 729 918 729 919 731 917 728 913 730 911 730 911 731 910 730 909 731 908 734 911 736 910 734 908 736 906 731 899 733 897 722 881 724 880 712 859 714 858 706 845 709 843 704 835 708 833 709 835 713 833 710 827 715 825 714 824 719 821 719 822 722 820 722 820 725 819 724 816 727 815 726 811 729 810 729 809 731 808 734 816 738 815 738 816 741 815 740 813 745 812 745 812 749 811 748 809 754 807 753 805 756 804 756 806 758 806 759 808 764 807 765 811 770 810 770 810 774 810 773 804 779 804 779 803 783 802 783 809 785 809 785 806 789 806 789 813 794 813 Z" fill="#3e659b"/><path d="M717 866 718 866 717 864 720 862 716 854 719 853 714 844 717 843 720 848 725 846 722 840 725 839 721 830 723 830 725 834 727 832 729 835 732 834 723 810 725 809 729 819 733 818 739 834 743 833 743 833 747 831 748 835 753 833 751 826 754 825 754 823 759 821 760 828 763 827 763 829 767 828 767 829 771 828 769 819 772 818 772 818 777 817 779 830 781 830 781 827 785 827 785 827 788 827 788 822 792 822 792 829 794 829 794 831 798 831 799 821 803 822 803 824 807 824 807 829 810 829 809 831 813 831 815 816 820 816 818 827 822 828 823 824 825 825 825 828 826 828 827 825 829 825 827 832 832 833 835 817 839 818 836 828 841 829 840 831 844 832 847 823 851 824 852 823 855 824 855 824 859 826 857 832 859 832 860 829 864 831 865 828 869 830 871 825 873 826 864 844 869 846 865 853 867 854 873 845 876 846 872 854 875 856 876 854 879 855 885 847 887 848 887 848 889 849 886 853 888 855 886 859 889 861 873 882 876 884 876 885 876 885 794 990 Z" fill="#3a76ad" fill-opacity="0.85"/><path d="M874 910 875 911 876 910 878 912 874 916 875 917 875 918 877 919 876 919 877 921 875 922 877 924 877 923 879 925 884 922 886 924 881 928 881 929 883 928 885 931 884 931 886 933 877 938 879 941 880 940 881 942 878 944 879 945 883 943 884 944 889 941 891 944 891 944 892 946 891 947 892 949 892 949 893 951 894 951 894 953 888 955 888 957 891 956 891 957 896 956 896 958 892 959 893 962 884 964 885 967 891 965 892 968 894 967 894 969 897 969 897 970 900 969 901 972 904 971 904 972 910 971 911 973 904 974 905 976 907 976 907 978 915 977 915 980 924 979 924 983 922 983 922 987 929 987 929 990 931 990 931 993 924 992 924 995 937 995 937 997 937 997 937 1000 926 999 926 1003 933 1004 933 1007 937 1008 937 1012 944 1013 944 1015 950 1016 949 1019 950 1019 949 1023 942 1022 941 1025 941 1025 940 1028 931 1026 930 1029 916 1025 915 1029 918 1029 917 1033 910 1031 909 1033 916 1035 915 1037 920 1039 919 1043 915 1041 913 1045 914 1045 912 1049 902 1044 902 1045 906 1047 905 1050 921 1058 920 1060 914 1056 912 1060 916 1062 915 1064 918 1065 916 1068 910 1064 909 1066 908 1065 907 1067 909 1069 908 1070 794 990 Z" fill="#3b72a8" fill-opacity="0.8"/><path d="M910 1151 907 1153 927 1182 923 1185 941 1212 938 1214 928 1198 926 1200 921 1192 916 1195 918 1199 916 1201 928 1221 925 1223 926 1224 922 1226 927 1234 922 1237 931 1254 928 1256 915 1229 910 1231 909 1228 905 1230 901 1222 898 1223 899 1227 892 1229 886 1213 880 1215 794 990 Z" fill="#3b74aa" fill-opacity="0.7"/><path d="M678 1087 675 1084 688 1074 687 1072 678 1079 677 1077 672 1080 670 1077 666 1080 664 1077 678 1068 677 1066 679 1065 678 1063 667 1070 665 1067 670 1064 668 1062 672 1060 670 1057 666 1059 665 1056 682 1048 680 1045 675 1047 674 1045 672 1046 671 1043 674 1041 673 1038 669 1039 669 1037 665 1039 664 1037 664 1037 663 1034 646 1039 645 1037 653 1034 652 1032 662 1029 661 1027 648 1031 647 1027 648 1027 647 1023 644 1024 643 1020 647 1019 647 1016 657 1014 657 1012 654 1012 654 1010 650 1011 650 1008 650 1008 650 1005 642 1005 642 1004 660 1002 660 999 668 998 668 997 654 998 654 993 681 993 681 989 671 989 671 985 672 985 672 983 681 983 681 982 672 981 672 979 678 980 678 977 675 977 675 974 668 973 668 972 674 973 674 970 676 970 676 969 682 970 683 967 676 966 676 964 686 966 686 964 697 966 697 964 700 965 701 963 695 962 696 959 703 961 704 958 701 957 702 954 699 953 700 951 706 953 707 951 700 947 701 945 707 948 708 946 712 947 713 945 709 943 710 942 794 990 Z" fill="#3c6ca2" fill-opacity="0.7"/><path d="M794 904 796 904 796 900 797 900 797 902 798 902 798 905 800 905 800 908 801 908 801 911 803 911 803 908 804 908 804 907 805 908 804 919 806 919 805 922 807 922 807 924 808 924 808 925 809 925 812 913 813 914 815 905 817 906 817 906 819 907 817 914 819 914 819 914 821 915 824 906 827 907 823 916 825 917 828 909 830 910 830 911 831 911 827 920 828 920 831 913 832 914 830 918 832 919 832 918 834 919 829 929 831 930 829 933 830 933 836 923 837 924 833 931 833 931 832 933 834 934 832 937 833 937 830 942 831 942 830 944 831 945 830 947 831 947 833 946 834 947 840 940 841 941 841 941 842 942 841 943 842 944 837 949 837 950 837 951 837 951 831 957 832 957 834 955 835 956 836 954 837 955 837 955 837 956 839 955 840 956 837 958 838 958 838 958 838 959 835 962 835 962 837 960 838 962 834 965 834 965 835 964 836 966 839 964 839 965 839 964 840 966 840 966 840 966 837 968 838 969 842 967 842 968 841 969 842 969 840 970 841 971 843 970 843 970 837 973 838 974 838 974 838 976 838 975 839 977 844 975 844 976 850 974 850 975 856 974 856 976 850 977 850 979 855 978 855 978 859 978 859 979 857 979 857 980 857 980 857 981 856 982 856 983 862 982 862 983 858 984 858 984 858 984 858 986 869 986 869 987 870 987 870 989 866 989 866 990 864 990 864 991 871 991 871 992 863 992 863 992 870 993 869 994 866 994 866 995 872 996 872 997 859 996 859 997 870 999 870 1000 871 1000 871 1003 871 1003 871 1004 868 1004 868 1005 870 1005 870 1007 867 1006 867 1007 870 1008 869 1010 869 1010 869 1012 870 1012 869 1014 854 1009 853 1011 853 1010 852 1012 858 1014 857 1016 861 1017 860 1018 860 1017 859 1018 855 1017 854 1018 847 1015 846 1016 846 1016 845 1017 848 1018 847 1019 844 1018 844 1018 847 1020 846 1022 857 1028 856 1030 854 1028 853 1029 853 1029 853 1031 842 1023 842 1024 848 1029 847 1031 843 1027 842 1028 842 1028 841 1029 844 1032 843 1034 846 1037 845 1038 845 1039 844 1040 845 1040 843 1041 844 1041 842 1043 839 1039 838 1040 843 1046 842 1046 841 1045 841 1046 842 1047 840 1049 835 1042 834 1043 834 1044 833 1045 847 1064 845 1065 856 1081 853 1083 854 1084 852 1085 856 1090 853 1092 859 1104 858 1105 859 1107 856 1109 849 1096 848 1097 853 1108 851 1109 853 1113 851 1114 849 1109 847 1110 843 1101 842 1102 844 1106 841 1107 833 1086 831 1087 830 1084 828 1084 822 1068 820 1069 818 1064 816 1065 813 1053 811 1053 810 1051 809 1051 810 1055 808 1055 807 1050 806 1050 806 1054 805 1054 804 1051 803 1051 803 1050 802 1050 802 1050 801 1050 802 1055 801 1055 800 1051 799 1051 799 1052 798 1052 798 1056 797 1056 797 1056 795 1056 796 1060 794 1060 794 1054 792 1054 792 1054 791 1054 791 1049 790 1049 789 1056 788 1056 788 1056 787 1055 786 1058 785 1058 785 1055 784 1054 783 1057 782 1057 782 1057 781 1057 780 1059 778 1058 780 1049 779 1049 778 1053 777 1052 777 1051 776 1051 776 1053 774 1053 773 1057 771 1057 773 1052 771 1051 770 1054 769 1053 771 1047 770 1047 772 1044 770 1043 771 1042 770 1041 768 1045 768 1045 771 1038 770 1038 769 1040 768 1039 768 1040 766 1039 767 1038 766 1037 767 1036 766 1035 765 1037 764 1037 753 1054 752 1053 759 1042 758 1041 757 1042 756 1042 757 1041 756 1040 759 1036 758 1035 757 1037 756 1037 743 1052 741 1051 746 1046 745 1045 743 1046 743 1046 742 1046 742 1046 744 1043 743 1042 741 1043 741 1043 739 1045 738 1044 738 1045 736 1043 736 1044 735 1043 736 1042 735 1040 741 1035 740 1035 737 1037 736 1036 728 1042 727 1040 732 1037 731 1036 724 1041 723 1040 740 1029 739 1028 734 1031 733 1030 738 1027 737 1026 734 1028 733 1027 729 1029 728 1028 722 1031 721 1030 720 1030 719 1029 727 1025 726 1023 720 1026 720 1024 730 1020 729 1019 730 1018 729 1017 728 1017 728 1016 722 1018 722 1017 730 1014 729 1013 731 1013 731 1011 728 1011 728 1009 727 1010 726 1009 726 1009 726 1008 715 1011 715 1010 717 1009 717 1008 726 1006 726 1005 727 1005 727 1004 734 1002 734 1001 731 1001 731 1000 718 1002 718 1001 727 1000 727 998 718 999 718 997 724 996 723 995 720 995 720 993 718 993 718 991 727 991 727 990 723 990 723 988 722 988 722 987 726 987 726 986 725 986 725 985 730 985 730 984 721 983 721 982 739 984 739 983 739 983 739 981 738 981 738 979 745 980 745 979 741 978 741 977 741 977 742 975 735 973 735 972 735 972 735 972 732 971 733 970 738 971 738 970 733 968 734 967 734 967 734 966 740 969 741 967 743 968 744 967 743 967 744 966 744 966 745 964 746 965 747 964 747 964 747 963 745 962 746 961 750 964 750 963 751 964 751 963 752 963 753 962 748 959 749 958 749 958 750 957 753 959 754 958 755 959 755 958 757 960 758 960 760 961 760 960 764 964 765 963 764 962 764 962 759 957 760 956 759 955 760 954 762 956 762 955 761 953 761 953 768 961 769 960 766 956 766 956 767 956 768 955 765 952 766 952 767 953 768 952 761 942 762 941 758 935 759 935 758 932 758 932 752 921 753 920 755 924 757 923 757 923 758 922 759 923 760 923 763 930 764 929 760 920 761 919 765 928 766 928 754 902 756 901 760 911 762 910 757 899 759 898 759 899 761 899 762 901 764 901 767 911 768 910 765 900 768 899 769 905 771 905 772 909 773 909 775 919 776 919 775 914 777 914 776 913 778 912 774 896 776 895 776 895 777 895 779 908 782 907 782 911 784 911 783 903 784 903 785 909 787 909 787 905 788 905 789 907 791 907 791 918 793 918 793 925 794 925 Z" fill="#3976ae" fill-opacity="0.75"/><path d="M767 1017L693 1102L684 1094ZM809 972L865 904L869 907ZM793 950L789 870L793 870ZM757 977L704 962L706 958ZM801 997L860 1051L856 1055ZM816 980L880 946L882 952ZM780 973L751 941L755 937ZM800 964L822 849L829 850ZM787 1012L764 1090L759 1089ZM812 995L910 1020L909 1024ZM774 1006L696 1071L693 1068ZM799 969L820 876L826 878ZM765 993L697 1004L696 999ZM786 978L720 882L728 877ZM792 980L758 825L772 823Z" fill="#3e6296" fill-opacity="0.4"/><path d="M799 963L814 847L826 850ZM816 976L889 927L891 930ZM817 968L892 898L895 900ZM777 973L740 943L745 938ZM806 963L845 866L851 869ZM799 994L886 1070L884 1073ZM785 965L751 877L756 875ZM804 986L890 952L892 959ZM779 1004L677 1106L672 1100ZM795 1008L803 1103L794 1103ZM798 953L812 807L821 808ZM786 1004L736 1100L729 1096ZM796 1006L813 1106L806 1107ZM823 984L905 963L907 973ZM793 979L783 824L792 824ZM833 986L929 975L929 981ZM805 976L867 892L873 897Z" fill="#40609a" fill-opacity="0.4"/><path d="M805 990L932 986L932 993ZM829 974L904 937L906 941ZM786 967L745 854L752 852ZM784 1000L679 1111L674 1107ZM786 1003L724 1107L718 1103ZM791 982L735 832L748 828ZM795 1000L810 1090L804 1091ZM779 989L679 987L679 979ZM782 962L729 849L740 845ZM819 977L890 934L894 941ZM781 1008L739 1078L731 1073ZM775 978L709 936L712 932ZM773 965L738 926L740 924ZM778 1013L724 1103L714 1097ZM799 1026L818 1115L809 1117ZM768 976L731 959L734 954ZM788 988L690 946L693 939Z" fill="#3a72a5" fill-opacity="0.4"/><path d="M803 993L909 1024L907 1028ZM798 1029L811 1117L807 1117ZM820 1008L887 1048L883 1054ZM804 1026L829 1106L825 1107ZM816 1009L899 1072L892 1080ZM807 995L921 1028L918 1038ZM784 999L722 1060L718 1056ZM775 975L710 929L715 923ZM795 998L809 1084L806 1085ZM790 1026L784 1130L772 1129ZM815 970L849 937L852 940ZM793 983L761 797L775 795ZM797 996L900 1154L889 1161ZM773 1003L661 1078L657 1072ZM768 1001L668 1048L665 1042ZM787 984L731 938L734 935ZM787 995L708 1053L703 1047ZM783 961L737 851L748 847Z" fill="#357bb2" fill-opacity="0.4"/><path d="M816 1003L922 1057L917 1065ZM807 999L922 1066L917 1074ZM822 1000L936 1037L933 1047ZM786 975L738 893L746 889ZM776 977L704 927L708 922ZM760 973L705 949L707 946ZM832 994L957 999L956 1011ZM774 1004L678 1077L676 1074ZM814 1000L891 1038L889 1042ZM822 1010L901 1060L896 1068ZM784 972L732 884L741 879ZM791 980L746 839L756 836ZM810 985L900 956L901 961ZM810 1008L872 1069L865 1075ZM797 1010L810 1079L804 1080ZM807 992L957 1008L955 1021ZM777 989L683 986L684 979ZM808 1017L914 1218L906 1222ZM774 991L635 1001L634 995ZM816 971L863 928L866 932ZM793 1011L792 1102L786 1102ZM820 1017L897 1090L892 1094ZM777 985L699 965L701 959Z" fill="#3383bb" fill-opacity="0.4"/><path d="M797 843h3v3h-3zM726 845h6v3h-6zM837 811h3v3h-3zM870 878h3v3h-3zM845 890h3v3h-3zM767 879h3v3h-3zM881 847h3v3h-3zM816 910h6v3h-6zM811 848h3v3h-3zM810 882h6v3h-6zM764 912h3v3h-3zM745 840h6v3h-6zM838 810h3v3h-3zM780 813h3v3h-3zM789 841h6v3h-6zM762 897h3v3h-3zM814 807h3v3h-3zM834 879h3v3h-3zM783 840h3v3h-3zM877 871h3v3h-3zM846 831h3v3h-3zM749 844h3v3h-3zM784 901h6v3h-6zM778 874h6v3h-6zM756 914h3v3h-3zM842 889h3v3h-3zM811 821h6v3h-6zM860 862h3v3h-3zM813 815h3v3h-3zM794 868h3v3h-3zM858 847h6v3h-6zM849 900h3v3h-3zM814 880h3v3h-3zM892 853h3v3h-3zM838 879h3v3h-3zM774 842h6v3h-6zM727 842h3v3h-3zM765 872h3v3h-3zM765 923h3v3h-3zM784 886h3v3h-3zM752 891h3v3h-3zM839 874h3v3h-3zM781 882h3v3h-3zM745 873h3v3h-3zM871 831h6v3h-6zM828 822h3v3h-3zM875 861h3v3h-3zM744 838h6v3h-6zM732 844h6v3h-6zM750 901h6v3h-6zM793 840h3v3h-3zM794 828h6v3h-6zM787 851h3v3h-3zM795 886h3v3h-3zM795 902h6v3h-6zM830 832h3v3h-3zM738 841h3v3h-3zM820 824h3v3h-3zM811 862h3v3h-3zM716 838h6v3h-6zM862 892h6v3h-6zM784 894h3v3h-3zM778 837h3v3h-3zM785 908h3v3h-3zM839 909h3v3h-3zM789 873h3v3h-3zM828 923h6v3h-6zM817 927h3v3h-3zM858 900h6v3h-6zM837 887h3v3h-3zM859 896h6v3h-6zM838 916h3v3h-3zM820 857h3v3h-3zM805 823h3v3h-3zM817 880h6v3h-6zM833 876h3v3h-3zM803 845h3v3h-3zM751 915h3v3h-3zM729 818h3v3h-3zM844 817h3v3h-3zM735 807h3v3h-3zM851 903h3v3h-3zM780 907h3v3h-3zM822 909h3v3h-3zM808 819h3v3h-3zM747 851h6v3h-6zM801 878h3v3h-3zM847 891h3v3h-3zM872 881h3v3h-3zM754 885h3v3h-3zM839 900h3v3h-3zM752 902h3v3h-3zM854 894h3v3h-3zM748 884h3v3h-3zM843 848h6v3h-6zM720 824h3v3h-3z" fill="#2a94c6"/><path d="M778 797h3v3h-3zM814 908h3v3h-3zM713 808h3v3h-3zM786 870h6v3h-6zM713 839h3v3h-3zM801 896h3v3h-3zM783 879h6v3h-6zM758 855h6v3h-6zM813 893h3v3h-3zM768 813h3v3h-3zM759 899h3v3h-3zM788 850h3v3h-3zM861 829h3v3h-3zM762 888h3v3h-3zM753 847h3v3h-3zM837 837h3v3h-3zM763 896h6v3h-6zM809 831h6v3h-6zM818 925h3v3h-3zM812 904h3v3h-3zM826 914h3v3h-3zM791 878h3v3h-3zM737 846h6v3h-6zM839 872h3v3h-3zM802 846h3v3h-3zM817 878h3v3h-3zM747 906h6v3h-6zM819 832h3v3h-3zM826 898h3v3h-3zM738 853h3v3h-3zM767 797h3v3h-3zM833 914h3v3h-3zM816 905h3v3h-3zM799 807h3v3h-3zM851 897h6v3h-6zM819 830h3v3h-3zM871 850h3v3h-3zM835 917h3v3h-3zM765 908h6v3h-6zM831 899h3v3h-3zM759 797h3v3h-3zM827 921h6v3h-6zM843 921h3v3h-3zM825 870h3v3h-3zM815 885h3v3h-3zM735 875h3v3h-3zM766 912h3v3h-3zM725 804h3v3h-3zM819 835h6v3h-6zM791 862h6v3h-6zM729 801h3v3h-3zM748 911h6v3h-6zM829 940h3v3h-3zM747 845h3v3h-3zM797 845h3v3h-3zM822 868h3v3h-3zM823 899h3v3h-3zM801 825h3v3h-3zM873 877h3v3h-3zM779 899h3v3h-3zM831 899h3v3h-3zM793 847h6v3h-6zM833 920h6v3h-6zM807 921h6v3h-6zM790 830h3v3h-3zM748 878h6v3h-6zM746 906h3v3h-3zM816 849h3v3h-3zM840 891h3v3h-3zM874 852h3v3h-3zM775 869h3v3h-3zM763 808h3v3h-3zM802 907h6v3h-6zM824 894h3v3h-3zM752 898h6v3h-6zM775 908h6v3h-6zM733 818h6v3h-6zM799 872h3v3h-3zM872 831h3v3h-3zM850 819h3v3h-3zM829 940h3v3h-3zM794 920h6v3h-6zM806 835h3v3h-3zM833 906h3v3h-3zM761 915h3v3h-3zM768 875h3v3h-3zM802 819h3v3h-3zM828 914h6v3h-6zM889 857h3v3h-3zM729 835h3v3h-3zM794 819h3v3h-3zM840 872h3v3h-3zM841 913h3v3h-3zM752 854h3v3h-3zM769 827h3v3h-3zM842 906h3v3h-3zM848 873h6v3h-6zM821 901h3v3h-3zM875 850h3v3h-3zM783 863h6v3h-6zM771 885h3v3h-3zM742 887h3v3h-3zM783 896h6v3h-6zM843 856h3v3h-3zM782 912h6v3h-6zM832 823h3v3h-3zM785 853h6v3h-6zM823 865h3v3h-3zM803 821h3v3h-3zM841 897h3v3h-3zM770 811h3v3h-3z" fill="#3a7ab0"/><path d="M820 870h3v3h-3zM884 858h3v3h-3zM841 826h3v3h-3zM795 856h3v3h-3zM875 852h3v3h-3zM842 872h3v3h-3zM892 850h3v3h-3zM802 921h3v3h-3zM766 880h3v3h-3zM851 904h6v3h-6zM769 856h3v3h-3zM750 866h6v3h-6zM795 819h6v3h-6zM886 856h3v3h-3zM715 837h3v3h-3zM742 822h3v3h-3zM780 859h6v3h-6zM765 923h6v3h-6zM824 894h6v3h-6zM819 828h6v3h-6zM760 805h3v3h-3zM763 873h6v3h-6zM729 853h3v3h-3zM821 851h3v3h-3zM759 815h3v3h-3zM749 843h3v3h-3zM776 832h3v3h-3zM780 909h3v3h-3zM824 914h3v3h-3zM837 926h3v3h-3zM841 872h3v3h-3zM823 928h3v3h-3zM834 877h3v3h-3zM820 858h3v3h-3zM841 910h3v3h-3zM714 812h6v3h-6zM825 867h3v3h-3zM882 864h3v3h-3zM807 837h3v3h-3zM758 870h3v3h-3zM791 874h3v3h-3zM885 852h3v3h-3zM855 879h3v3h-3zM791 917h3v3h-3zM826 833h3v3h-3zM822 920h6v3h-6zM774 876h6v3h-6zM747 876h3v3h-3zM815 915h6v3h-6zM814 808h3v3h-3zM813 832h3v3h-3zM779 914h3v3h-3zM791 899h3v3h-3zM795 917h3v3h-3zM846 815h6v3h-6zM806 874h3v3h-3zM742 889h6v3h-6zM812 841h3v3h-3zM748 805h6v3h-6zM823 819h3v3h-3zM727 835h3v3h-3zM752 888h6v3h-6zM852 861h3v3h-3zM819 899h3v3h-3zM791 855h3v3h-3zM817 903h3v3h-3zM798 890h3v3h-3zM730 871h6v3h-6zM801 871h3v3h-3zM768 865h3v3h-3zM811 817h6v3h-6zM783 844h3v3h-3zM755 921h3v3h-3zM734 874h3v3h-3zM801 874h3v3h-3zM809 848h3v3h-3zM754 845h3v3h-3zM800 872h3v3h-3zM783 913h6v3h-6zM768 842h3v3h-3zM760 886h3v3h-3zM804 842h3v3h-3zM821 884h3v3h-3zM839 810h6v3h-6zM803 826h3v3h-3zM785 920h3v3h-3zM749 850h3v3h-3zM774 885h3v3h-3zM863 881h6v3h-6zM759 927h3v3h-3zM753 896h6v3h-6zM822 923h3v3h-3zM750 841h3v3h-3zM748 819h3v3h-3zM809 825h3v3h-3zM714 814h3v3h-3zM787 899h3v3h-3zM778 901h3v3h-3zM865 828h3v3h-3zM860 816h3v3h-3zM785 853h3v3h-3zM801 900h6v3h-6zM840 815h3v3h-3zM784 893h3v3h-3zM776 815h6v3h-6zM821 810h3v3h-3zM781 851h3v3h-3zM747 882h3v3h-3zM709 822h3v3h-3zM819 875h6v3h-6zM789 917h3v3h-3zM724 829h3v3h-3zM826 919h3v3h-3zM742 863h6v3h-6zM818 876h3v3h-3zM834 916h3v3h-3zM798 903h6v3h-6zM859 896h6v3h-6z" fill="#3383bb"/><path d="M731 812h3v3h-3zM824 919h3v3h-3zM817 859h3v3h-3zM781 826h3v3h-3zM743 837h6v3h-6zM770 877h6v3h-6zM827 902h3v3h-3zM793 848h3v3h-3zM835 866h3v3h-3zM836 886h3v3h-3zM744 884h3v3h-3zM861 890h3v3h-3zM833 907h3v3h-3zM842 866h3v3h-3zM832 885h6v3h-6zM829 916h3v3h-3zM762 914h3v3h-3zM829 932h3v3h-3zM804 845h3v3h-3zM781 883h3v3h-3zM754 870h3v3h-3zM799 860h6v3h-6zM828 930h3v3h-3zM854 846h3v3h-3zM775 839h3v3h-3zM744 894h3v3h-3zM876 844h3v3h-3zM811 923h3v3h-3zM786 853h6v3h-6zM828 841h3v3h-3zM741 893h3v3h-3zM839 883h3v3h-3zM755 911h3v3h-3zM844 868h3v3h-3zM739 801h3v3h-3zM793 909h3v3h-3zM705 818h3v3h-3zM807 835h3v3h-3zM761 901h3v3h-3zM706 829h3v3h-3zM829 843h3v3h-3zM826 841h3v3h-3zM760 899h3v3h-3zM820 860h3v3h-3zM713 810h3v3h-3zM779 902h6v3h-6zM842 857h3v3h-3zM745 864h3v3h-3zM842 861h3v3h-3zM829 919h3v3h-3zM749 845h3v3h-3zM816 834h6v3h-6zM839 858h3v3h-3zM816 830h6v3h-6zM836 836h3v3h-3zM769 824h3v3h-3zM766 873h6v3h-6zM784 859h6v3h-6zM803 887h3v3h-3zM859 849h3v3h-3zM862 844h6v3h-6zM791 853h3v3h-3zM742 881h3v3h-3zM722 846h3v3h-3zM751 823h3v3h-3zM780 907h3v3h-3zM802 869h3v3h-3zM761 905h6v3h-6zM801 840h6v3h-6zM824 910h3v3h-3zM732 851h3v3h-3zM829 909h3v3h-3zM735 865h3v3h-3zM883 853h3v3h-3zM747 885h3v3h-3zM764 897h6v3h-6zM773 830h6v3h-6zM817 887h3v3h-3zM817 913h6v3h-6zM712 814h3v3h-3zM763 851h3v3h-3zM744 819h6v3h-6zM748 875h6v3h-6zM835 865h3v3h-3zM851 818h3v3h-3zM772 916h3v3h-3zM851 902h3v3h-3zM797 890h3v3h-3zM835 817h3v3h-3zM876 833h3v3h-3zM753 914h3v3h-3zM807 905h3v3h-3zM829 823h3v3h-3zM775 911h6v3h-6zM843 873h3v3h-3z" fill="#2f88bd"/><path d="M930 998h2v2h-2zM645 1076h2v2h-2zM869 833h2v2h-2zM917 1258h2v2h-2zM743 960h4v2h-4zM627 995h2v2h-2zM728 942h2v2h-2zM738 924h2v2h-2zM692 942h4v2h-4zM750 1115h4v2h-4zM680 1047h2v2h-2zM885 962h2v2h-2zM825 1111h2v2h-2zM741 1090h2v2h-2zM704 1018h4v2h-4zM885 1099h2v2h-2zM888 914h2v2h-2zM867 943h2v2h-2zM908 955h2v2h-2zM740 914h4v2h-4zM895 965h2v2h-2zM737 1089h2v2h-2zM900 950h2v2h-2zM868 947h4v2h-4zM705 945h2v2h-2zM792 890h2v2h-2zM743 1107h2v2h-2zM751 958h2v2h-2zM875 935h2v2h-2zM695 1045h4v2h-4zM793 1133h2v2h-2zM928 1255h2v2h-2zM881 1160h2v2h-2zM909 1226h2v2h-2zM900 1038h2v2h-2zM751 1049h2v2h-2zM849 1159h2v2h-2zM847 859h2v2h-2zM752 953h2v2h-2zM916 1037h2v2h-2zM858 1035h4v2h-4zM734 1090h2v2h-2zM870 1046h2v2h-2zM895 931h2v2h-2zM729 908h2v2h-2zM807 1087h2v2h-2zM721 965h2v2h-2zM776 1135h2v2h-2zM741 1097h2v2h-2zM688 1113h4v2h-4zM952 1041h2v2h-2zM840 914h2v2h-2zM705 1003h2v2h-2zM793 818h2v2h-2zM685 1103h2v2h-2zM854 917h4v2h-4zM852 1060h4v2h-4zM913 1029h2v2h-2zM929 1066h2v2h-2zM954 1266h4v2h-4zM910 998h2v2h-2zM661 976h2v2h-2zM762 1054h2v2h-2zM871 887h2v2h-2zM742 932h2v2h-2zM629 1037h2v2h-2zM770 898h2v2h-2zM741 956h4v2h-4zM740 884h2v2h-2zM733 1065h4v2h-4zM729 909h2v2h-2zM770 1141h2v2h-2zM890 858h2v2h-2zM707 941h2v2h-2zM745 1067h2v2h-2zM659 1010h2v2h-2zM716 1084h2v2h-2zM892 1096h4v2h-4zM866 830h2v2h-2zM851 1050h2v2h-2zM849 1045h4v2h-4zM949 1040h4v2h-4zM870 1082h2v2h-2zM866 990h2v2h-2zM720 943h2v2h-2zM805 838h2v2h-2zM646 1089h2v2h-2zM947 1054h2v2h-2zM828 884h4v2h-4zM641 1039h2v2h-2zM844 847h2v2h-2zM675 1024h2v2h-2zM888 987h2v2h-2zM938 1018h2v2h-2zM893 927h2v2h-2zM723 963h2v2h-2zM863 899h2v2h-2zM661 1029h2v2h-2zM693 1016h2v2h-2zM879 905h2v2h-2zM644 1042h4v2h-4zM811 807h2v2h-2zM877 987h2v2h-2zM869 1049h2v2h-2zM878 884h4v2h-4zM730 819h2v2h-2zM800 1103h4v2h-4zM707 962h2v2h-2zM732 890h2v2h-2zM923 1171h4v2h-4zM862 1165h2v2h-2zM742 926h2v2h-2zM900 984h2v2h-2zM763 948h2v2h-2zM673 997h4v2h-4zM688 976h2v2h-2zM856 1066h4v2h-4zM852 973h4v2h-4zM774 1115h4v2h-4zM723 869h2v2h-2zM799 1098h2v2h-2zM735 852h2v2h-2zM669 1021h2v2h-2zM713 1004h4v2h-4zM806 1091h2v2h-2zM947 1016h2v2h-2zM891 924h2v2h-2zM757 1075h2v2h-2zM678 1057h2v2h-2zM810 1068h4v2h-4zM780 1073h2v2h-2zM855 1057h2v2h-2zM878 923h2v2h-2zM717 942h4v2h-4zM787 1072h2v2h-2zM704 974h2v2h-2zM682 980h2v2h-2zM815 824h2v2h-2zM698 1112h2v2h-2zM884 1161h2v2h-2zM692 1029h2v2h-2zM743 937h2v2h-2zM857 913h4v2h-4zM742 936h4v2h-4zM789 1059h2v2h-2zM855 878h2v2h-2zM708 1116h2v2h-2zM761 1056h4v2h-4zM945 1024h2v2h-2zM795 1066h2v2h-2zM828 876h4v2h-4zM798 899h4v2h-4zM733 1062h2v2h-2zM806 804h2v2h-2zM782 1061h4v2h-4zM795 859h2v2h-2zM855 1047h4v2h-4zM941 989h2v2h-2zM811 872h2v2h-2zM889 988h2v2h-2zM806 826h2v2h-2zM776 893h2v2h-2zM887 870h2v2h-2zM884 1029h2v2h-2zM659 1089h4v2h-4zM759 946h2v2h-2zM869 1034h2v2h-2zM866 1087h2v2h-2zM850 885h4v2h-4zM682 1036h2v2h-2z" fill="#1a1a1a"/><path d="M718 822h4v4h-4zM841 866h8v4h-8zM762 813h8v4h-8zM841 884h4v4h-4zM779 856h4v4h-4zM816 822h4v4h-4zM824 877h4v4h-4zM736 871h8v4h-8zM828 798h4v4h-4zM822 826h4v4h-4zM881 841h4v4h-4zM756 819h4v4h-4zM802 875h4v4h-4zM770 878h4v4h-4zM842 836h8v4h-8zM857 910h8v4h-8zM767 835h4v4h-4zM758 842h8v4h-8zM737 880h8v4h-8zM706 842h4v4h-4zM774 825h4v4h-4zM776 829h8v4h-8zM843 888h4v4h-4zM758 880h4v4h-4zM811 808h4v4h-4zM734 885h4v4h-4zM740 795h4v4h-4zM751 821h4v4h-4zM859 810h4v4h-4zM809 804h8v4h-8zM778 787h8v4h-8zM879 864h8v4h-8zM798 852h4v4h-4zM748 881h4v4h-4zM757 837h4v4h-4zM847 873h8v4h-8zM789 840h4v4h-4zM847 882h4v4h-4zM890 870h4v4h-4zM819 842h4v4h-4zM892 850h4v4h-4zM852 905h4v4h-4zM883 820h4v4h-4zM851 869h8v4h-8zM854 893h8v4h-8zM857 852h4v4h-4zM733 866h4v4h-4zM818 809h4v4h-4zM889 842h8v4h-8zM794 851h4v4h-4zM760 853h4v4h-4zM812 805h4v4h-4zM851 901h4v4h-4zM824 811h4v4h-4zM852 800h4v4h-4zM852 862h4v4h-4zM782 831h4v4h-4zM850 882h4v4h-4zM856 856h4v4h-4zM732 804h8v4h-8zM797 798h4v4h-4zM833 873h8v4h-8zM837 854h8v4h-8zM743 815h8v4h-8zM816 792h4v4h-4zM825 843h8v4h-8zM874 867h4v4h-4zM810 820h4v4h-4zM827 853h4v4h-4zM840 894h4v4h-4zM857 885h8v4h-8zM828 808h4v4h-4zM771 797h4v4h-4zM884 813h4v4h-4zM725 875h4v4h-4zM759 801h4v4h-4zM809 814h4v4h-4zM816 876h8v4h-8zM877 888h4v4h-4zM718 846h4v4h-4zM807 873h4v4h-4zM712 823h4v4h-4zM737 788h8v4h-8zM813 855h4v4h-4zM729 839h4v4h-4zM796 791h4v4h-4zM720 858h4v4h-4zM808 866h4v4h-4zM809 810h4v4h-4zM791 866h8v4h-8zM828 842h8v4h-8zM719 794h4v4h-4zM855 818h4v4h-4zM846 830h4v4h-4zM803 879h4v4h-4zM786 871h4v4h-4zM738 817h4v4h-4zM875 864h4v4h-4zM860 904h4v4h-4zM704 846h4v4h-4zM872 883h4v4h-4zM801 870h4v4h-4zM894 864h4v4h-4zM873 874h4v4h-4zM800 833h4v4h-4zM766 849h4v4h-4zM851 920h4v4h-4zM793 841h8v4h-8zM717 865h4v4h-4zM720 833h8v4h-8zM890 860h8v4h-8zM773 843h4v4h-4zM783 846h4v4h-4zM841 865h8v4h-8zM829 867h4v4h-4zM727 825h4v4h-4zM854 887h4v4h-4zM756 789h4v4h-4zM770 831h4v4h-4zM744 879h4v4h-4zM811 871h4v4h-4zM770 821h8v4h-8zM843 897h4v4h-4zM850 903h8v4h-8zM740 825h4v4h-4zM774 879h8v4h-8zM848 866h4v4h-4zM890 864h8v4h-8zM743 835h4v4h-4zM857 852h8v4h-8zM751 877h4v4h-4zM802 867h4v4h-4zM842 804h8v4h-8zM849 864h4v4h-4zM716 851h4v4h-4zM819 798h4v4h-4zM813 809h4v4h-4zM822 851h4v4h-4zM775 862h8v4h-8zM787 863h4v4h-4zM831 832h4v4h-4zM861 901h4v4h-4zM786 871h4v4h-4zM735 855h4v4h-4zM761 799h4v4h-4zM802 841h4v4h-4zM816 833h4v4h-4zM821 808h4v4h-4zM826 881h8v4h-8zM862 900h8v4h-8zM764 849h4v4h-4zM719 835h4v4h-4zM855 839h8v4h-8zM762 840h4v4h-4zM874 877h4v4h-4zM738 785h8v4h-8zM714 850h4v4h-4zM822 857h8v4h-8zM765 855h4v4h-4zM759 805h8v4h-8zM865 802h4v4h-4zM729 796h4v4h-4zM746 876h4v4h-4zM850 912h4v4h-4zM830 794h4v4h-4zM800 865h4v4h-4zM700 823h4v4h-4zM821 819h4v4h-4zM738 836h4v4h-4zM763 806h4v4h-4z" fill="#1a1a1a"/><path d="M933 1197h4v4h-4zM918 1177h4v4h-4zM909 1199h4v4h-4zM934 1209h4v4h-4zM900 1250h4v4h-4zM938 1212h8v4h-8zM902 1155h4v4h-4zM838 1109h4v4h-4zM908 1214h4v4h-4zM892 1178h8v4h-8zM908 1230h4v4h-4zM935 1203h4v4h-4zM913 1196h4v4h-4zM909 1215h8v4h-8zM877 1107h8v4h-8zM911 1154h4v4h-4zM871 1189h4v4h-4zM833 1097h8v4h-8zM907 1184h8v4h-8zM927 1182h4v4h-4zM935 1222h4v4h-4zM930 1229h8v4h-8zM887 1125h4v4h-4zM916 1217h4v4h-4zM893 1122h8v4h-8zM893 1208h8v4h-8zM904 1253h4v4h-4zM943 1210h4v4h-4zM934 1247h4v4h-4zM908 1246h4v4h-4zM883 1130h4v4h-4zM843 1116h4v4h-4zM882 1138h4v4h-4zM889 1196h8v4h-8zM927 1284h4v4h-4zM874 1196h4v4h-4zM882 1141h4v4h-4zM931 1222h4v4h-4zM932 1186h8v4h-8zM879 1149h8v4h-8zM893 1237h4v4h-4zM949 1227h8v4h-8zM888 1218h4v4h-4zM945 1269h4v4h-4zM881 1108h4v4h-4zM890 1178h4v4h-4zM884 1183h4v4h-4zM892 1203h8v4h-8zM916 1247h4v4h-4zM946 1254h4v4h-4zM915 1208h4v4h-4zM889 1180h4v4h-4zM931 1195h4v4h-4zM958 1233h4v4h-4zM941 1244h4v4h-4zM923 1220h4v4h-4zM917 1260h4v4h-4zM915 1171h8v4h-8zM892 1148h4v4h-4zM862 1160h4v4h-4zM934 1271h8v4h-8zM898 1134h4v4h-4zM849 1138h4v4h-4zM902 1148h4v4h-4zM955 1233h4v4h-4zM860 1164h4v4h-4zM859 1078h4v4h-4zM907 1146h4v4h-4zM921 1196h4v4h-4zM865 1164h4v4h-4zM841 1118h4v4h-4zM907 1253h8v4h-8zM949 1217h8v4h-8zM913 1190h8v4h-8zM899 1142h4v4h-4zM921 1273h4v4h-4zM925 1187h4v4h-4zM904 1237h4v4h-4zM880 1152h4v4h-4zM885 1195h4v4h-4zM924 1215h8v4h-8zM921 1200h4v4h-4zM915 1221h4v4h-4zM940 1213h4v4h-4zM884 1200h4v4h-4zM923 1241h4v4h-4zM903 1152h8v4h-8zM881 1186h4v4h-4zM897 1176h4v4h-4zM888 1181h4v4h-4zM867 1172h4v4h-4zM895 1135h4v4h-4zM921 1267h4v4h-4zM954 1226h4v4h-4zM946 1281h4v4h-4zM891 1221h8v4h-8zM889 1135h8v4h-8zM850 1141h8v4h-8zM859 1154h8v4h-8zM868 1092h4v4h-4zM914 1155h4v4h-4zM889 1187h4v4h-4zM867 1145h4v4h-4zM955 1254h4v4h-4zM865 1167h4v4h-4zM899 1136h4v4h-4zM837 1107h4v4h-4zM871 1139h4v4h-4zM943 1243h4v4h-4zM892 1144h4v4h-4zM893 1217h8v4h-8zM945 1214h8v4h-8zM885 1172h4v4h-4zM949 1279h4v4h-4zM938 1277h4v4h-4zM904 1161h8v4h-8zM944 1239h8v4h-8zM890 1207h4v4h-4zM896 1230h8v4h-8zM954 1250h4v4h-4zM863 1138h8v4h-8zM913 1174h4v4h-4zM922 1165h4v4h-4zM904 1170h4v4h-4zM935 1284h4v4h-4zM951 1223h4v4h-4zM948 1254h4v4h-4zM945 1211h8v4h-8zM915 1228h8v4h-8zM870 1145h4v4h-4zM901 1217h8v4h-8zM911 1193h8v4h-8zM935 1199h4v4h-4zM939 1263h4v4h-4zM923 1192h4v4h-4zM840 1109h4v4h-4zM868 1151h4v4h-4zM887 1119h4v4h-4zM860 1139h4v4h-4zM916 1265h4v4h-4zM871 1180h4v4h-4zM904 1218h8v4h-8zM934 1189h4v4h-4zM889 1228h4v4h-4zM931 1215h4v4h-4zM869 1182h4v4h-4zM926 1235h4v4h-4zM884 1122h4v4h-4zM892 1229h8v4h-8zM881 1146h8v4h-8zM892 1122h8v4h-8zM889 1135h8v4h-8zM935 1229h4v4h-4zM917 1169h4v4h-4zM906 1190h4v4h-4zM892 1123h4v4h-4zM883 1149h4v4h-4zM875 1098h4v4h-4zM929 1225h8v4h-8zM863 1085h8v4h-8z" fill="#1a1a1a"/><path d="M897 1077h4v4h-4zM847 1144h4v4h-4zM687 1084h4v4h-4zM635 1082h4v4h-4zM658 956h4v4h-4zM728 907h8v4h-8zM834 1136h4v4h-4zM669 964h4v4h-4zM906 1069h4v4h-4zM733 1103h4v4h-4zM775 1118h4v4h-4zM936 1040h4v4h-4zM631 1044h8v4h-8zM706 932h4v4h-4zM838 1139h4v4h-4zM756 803h4v4h-4zM826 838h4v4h-4zM814 1129h4v4h-4zM934 1056h4v4h-4zM804 813h4v4h-4zM723 808h4v4h-4zM933 981h4v4h-4zM716 851h4v4h-4zM880 1092h8v4h-8zM825 1114h4v4h-4zM916 1240h4v4h-4zM695 949h4v4h-4zM881 892h4v4h-4zM877 907h8v4h-8zM793 1122h8v4h-8zM687 935h8v4h-8zM709 931h4v4h-4zM704 927h8v4h-8zM937 982h8v4h-8zM792 1125h4v4h-4zM644 1015h4v4h-4zM676 946h4v4h-4zM769 1114h8v4h-8zM932 1019h8v4h-8zM896 964h4v4h-4zM922 1064h4v4h-4zM951 1009h4v4h-4zM899 911h4v4h-4zM790 1136h4v4h-4zM686 1112h8v4h-8zM730 1104h4v4h-4zM872 894h4v4h-4zM791 804h4v4h-4zM839 806h4v4h-4zM912 1070h4v4h-4zM721 822h4v4h-4zM895 919h4v4h-4zM946 1257h8v4h-8zM930 1205h4v4h-4zM902 1072h4v4h-4zM919 1074h8v4h-8zM951 1242h8v4h-8zM652 969h4v4h-4zM780 1123h4v4h-4zM953 1267h8v4h-8zM848 844h8v4h-8zM674 1075h4v4h-4zM621 1005h8v4h-8zM752 830h4v4h-4zM760 819h4v4h-4zM849 1150h8v4h-8zM761 1138h4v4h-4zM934 1033h4v4h-4zM876 827h8v4h-8zM940 1045h4v4h-4zM881 902h4v4h-4zM740 816h4v4h-4zM754 812h4v4h-4zM721 919h4v4h-4zM716 830h4v4h-4zM756 798h4v4h-4zM764 816h4v4h-4zM654 988h4v4h-4zM767 1119h4v4h-4zM701 927h4v4h-4zM883 894h4v4h-4zM727 915h4v4h-4zM925 1060h4v4h-4zM704 1100h4v4h-4zM899 935h4v4h-4zM893 916h8v4h-8zM877 860h8v4h-8zM924 1069h4v4h-4zM916 1062h4v4h-4zM820 800h8v4h-8zM715 854h4v4h-4zM769 1111h4v4h-4zM939 1002h8v4h-8zM771 799h4v4h-4zM824 1140h4v4h-4zM931 985h8v4h-8zM723 918h8v4h-8zM686 1083h4v4h-4zM716 1117h4v4h-4zM735 820h8v4h-8zM853 835h4v4h-4zM631 1050h4v4h-4zM761 820h4v4h-4zM705 943h8v4h-8zM851 821h4v4h-4zM896 1126h4v4h-4zM697 941h4v4h-4zM872 847h8v4h-8zM784 1118h4v4h-4zM686 1114h4v4h-4zM726 925h4v4h-4zM896 957h8v4h-8zM769 1117h4v4h-4zM828 831h4v4h-4zM940 975h4v4h-4zM809 812h4v4h-4zM725 889h8v4h-8zM891 1072h4v4h-4zM907 1065h8v4h-8zM759 1117h8v4h-8zM642 1022h8v4h-8zM889 1094h4v4h-4zM926 1259h4v4h-4zM904 951h8v4h-8zM765 1113h8v4h-8zM640 1088h4v4h-4zM726 806h4v4h-4zM876 837h4v4h-4zM707 1113h4v4h-4zM945 1012h4v4h-4zM698 938h4v4h-4zM724 927h8v4h-8zM783 1140h4v4h-4zM941 990h4v4h-4zM734 917h4v4h-4zM654 979h4v4h-4zM882 930h4v4h-4zM700 1092h4v4h-4zM730 1120h4v4h-4zM916 1073h4v4h-4z" fill="#1a1a1a"/><path d="M801 931h3v3h-3zM802 903h3v3h-3zM804 808h3v3h-3zM768 902h3v3h-3zM766 809h3v3h-3zM764 911h3v3h-3zM783 911h3v3h-3z" fill="#4ce035"/><path d="M757 839h6v3h-6zM796 905h3v3h-3zM776 823h3v3h-3zM766 827h3v3h-3zM808 853h3v3h-3zM779 921h6v3h-6zM802 904h3v3h-3zM763 892h6v3h-6zM802 891h3v3h-3z" fill="#37ab2a"/><path d="M783 1065h2v2h-2zM843 965h2v2h-2zM776 959h2v2h-2zM752 955h2v2h-2zM794 974h2v2h-2zM769 963h2v2h-2zM773 1070h2v2h-2zM848 1075h2v2h-2z" fill="#4ce035"/><path d="M791 986h5v5h-5z" fill="#1a1a1a"/></g><g shape-rendering="crispEdges"><path d="M658 683h3v3h-3zM652 686h3v3h-3zM643 689h9v3h-9zM646 689h6v3h-6zM649 689h3v3h-3zM643 692h3v3h-3zM649 692h6v3h-6zM652 698h9v3h-9zM661 704h9v3h-9zM643 713h9v3h-9zM646 716h3v3h-3zM652 716h6v3h-6zM643 719h3v3h-3zM649 722h9v3h-9zM655 722h9v3h-9zM646 725h3v3h-3zM667 725h6v3h-6zM673 725h3v3h-3zM658 728h6v3h-6zM643 731h3v3h-3zM664 731h9v3h-9zM676 731h9v3h-9zM664 734h3v3h-3zM667 734h3v3h-3zM688 734h9v3h-9zM694 734h9v3h-9zM640 737h3v3h-3zM649 737h3v3h-3zM676 737h3v3h-3zM685 737h6v3h-6zM640 740h3v3h-3zM664 740h9v3h-9zM673 740h3v3h-3zM697 740h9v3h-9zM700 740h6v3h-6zM703 740h9v3h-9zM709 740h9v3h-9zM646 743h9v3h-9zM658 743h3v3h-3zM691 743h9v3h-9zM712 743h9v3h-9zM730 743h3v3h-3zM733 743h9v3h-9zM673 746h9v3h-9zM685 746h3v3h-3zM709 746h3v3h-3zM718 746h3v3h-3zM733 746h6v3h-6zM661 749h3v3h-3zM682 749h6v3h-6zM688 749h3v3h-3zM712 749h6v3h-6zM715 749h3v3h-3zM724 749h9v3h-9zM739 749h3v3h-3zM649 755h3v3h-3zM670 755h9v3h-9zM676 755h3v3h-3zM691 755h3v3h-3zM694 755h3v3h-3zM730 755h6v3h-6zM655 758h6v3h-6zM658 758h3v3h-3zM679 758h3v3h-3zM691 758h3v3h-3zM694 758h9v3h-9zM700 758h3v3h-3zM670 761h3v3h-3zM688 761h3v3h-3zM694 761h9v3h-9zM697 761h9v3h-9zM682 764h3v3h-3zM697 764h9v3h-9zM703 764h6v3h-6zM709 764h9v3h-9zM664 767h3v3h-3zM691 767h3v3h-3zM700 767h9v3h-9zM709 767h3v3h-3zM721 767h9v3h-9zM697 770h9v3h-9zM724 770h9v3h-9zM700 773h3v3h-3zM703 773h3v3h-3zM709 773h9v3h-9zM670 776h9v3h-9zM703 776h3v3h-3zM715 776h3v3h-3zM691 779h9v3h-9zM679 782h3v3h-3zM688 782h9v3h-9zM694 785h6v3h-6z" fill="#357bac"/><path d="M661 683h9v3h-9zM655 689h3v3h-3zM640 692h3v3h-3zM658 695h9v3h-9zM640 698h3v3h-3zM661 698h3v3h-3zM646 701h9v3h-9zM652 701h3v3h-3zM655 704h6v3h-6zM646 707h6v3h-6zM649 707h3v3h-3zM661 710h3v3h-3zM658 713h9v3h-9zM658 716h9v3h-9zM646 722h3v3h-3zM661 722h3v3h-3zM652 725h6v3h-6zM643 728h6v3h-6zM646 728h3v3h-3zM664 728h3v3h-3zM646 731h3v3h-3zM649 731h3v3h-3zM655 731h9v3h-9zM667 737h9v3h-9zM706 737h6v3h-6zM652 740h9v3h-9zM670 740h9v3h-9zM682 740h3v3h-3zM685 740h6v3h-6zM649 743h3v3h-3zM652 743h6v3h-6zM670 746h9v3h-9zM688 746h6v3h-6zM724 746h9v3h-9zM730 746h6v3h-6zM673 749h9v3h-9zM685 749h6v3h-6zM700 749h3v3h-3zM646 752h3v3h-3zM655 752h9v3h-9zM664 752h3v3h-3zM667 752h9v3h-9zM676 752h3v3h-3zM727 752h6v3h-6zM652 755h3v3h-3zM724 755h6v3h-6zM649 758h9v3h-9zM667 758h3v3h-3zM685 758h9v3h-9zM688 758h3v3h-3zM703 758h3v3h-3zM706 758h6v3h-6zM724 758h3v3h-3zM652 761h9v3h-9zM655 761h3v3h-3zM724 761h6v3h-6zM730 761h9v3h-9zM694 764h3v3h-3zM706 764h6v3h-6zM670 767h9v3h-9zM697 767h9v3h-9zM703 767h3v3h-3zM664 770h6v3h-6zM688 770h6v3h-6zM703 770h9v3h-9zM721 770h3v3h-3zM655 773h3v3h-3zM679 773h3v3h-3zM715 773h3v3h-3zM718 773h6v3h-6zM661 776h6v3h-6zM694 776h3v3h-3zM667 779h9v3h-9zM682 779h6v3h-6zM685 779h3v3h-3zM676 782h3v3h-3zM703 782h3v3h-3zM691 785h9v3h-9zM688 788h3v3h-3z" fill="#3a72a5"/><path d="M664 683h9v3h-9zM655 686h3v3h-3zM664 686h3v3h-3zM652 689h3v3h-3zM655 692h6v3h-6zM652 695h3v3h-3zM643 698h3v3h-3zM643 701h3v3h-3zM649 701h3v3h-3zM661 701h9v3h-9zM646 704h3v3h-3zM658 704h9v3h-9zM646 710h9v3h-9zM658 710h6v3h-6zM655 716h6v3h-6zM649 719h3v3h-3zM655 719h9v3h-9zM640 722h9v3h-9zM643 722h3v3h-3zM649 728h9v3h-9zM676 728h3v3h-3zM679 728h3v3h-3zM649 734h3v3h-3zM691 734h6v3h-6zM679 737h6v3h-6zM643 740h9v3h-9zM661 740h3v3h-3zM706 740h9v3h-9zM664 743h9v3h-9zM679 743h6v3h-6zM682 743h3v3h-3zM724 743h3v3h-3zM727 743h3v3h-3zM643 746h6v3h-6zM652 746h9v3h-9zM658 746h6v3h-6zM667 746h3v3h-3zM691 746h3v3h-3zM736 746h9v3h-9zM646 749h9v3h-9zM655 749h6v3h-6zM676 749h3v3h-3zM721 749h9v3h-9zM661 752h6v3h-6zM673 752h9v3h-9zM700 752h6v3h-6zM667 755h9v3h-9zM673 755h3v3h-3zM685 755h3v3h-3zM706 755h6v3h-6zM664 758h9v3h-9zM673 758h6v3h-6zM718 758h9v3h-9zM730 758h9v3h-9zM649 761h3v3h-3zM667 761h6v3h-6zM673 761h6v3h-6zM706 761h3v3h-3zM718 761h6v3h-6zM721 761h3v3h-3zM670 764h3v3h-3zM673 764h3v3h-3zM676 764h6v3h-6zM715 764h3v3h-3zM718 764h3v3h-3zM721 764h3v3h-3zM655 767h3v3h-3zM667 767h9v3h-9zM673 767h6v3h-6zM679 767h3v3h-3zM706 767h3v3h-3zM724 767h3v3h-3zM676 770h3v3h-3zM715 770h3v3h-3zM658 773h3v3h-3zM661 773h9v3h-9zM667 773h6v3h-6zM685 773h6v3h-6zM688 773h9v3h-9zM721 773h3v3h-3zM676 776h3v3h-3zM682 776h6v3h-6zM685 776h6v3h-6zM691 776h3v3h-3zM673 779h6v3h-6zM688 779h6v3h-6zM697 779h3v3h-3zM700 779h3v3h-3zM685 782h6v3h-6zM691 788h9v3h-9z" fill="#3c6ba1"/><path d="M724 713h9v3h-9zM715 716h6v3h-6zM739 716h3v3h-3zM721 719h6v3h-6zM724 719h9v3h-9zM748 719h3v3h-3zM709 728h9v3h-9zM718 728h9v3h-9zM754 728h9v3h-9zM703 731h3v3h-3zM712 731h3v3h-3zM715 731h3v3h-3zM724 731h6v3h-6zM775 731h3v3h-3zM790 731h3v3h-3zM694 734h9v3h-9zM787 734h3v3h-3zM700 737h9v3h-9zM724 737h3v3h-3zM733 737h6v3h-6zM736 737h3v3h-3zM745 737h9v3h-9zM703 740h3v3h-3zM742 740h6v3h-6zM790 740h9v3h-9zM679 743h9v3h-9zM700 743h3v3h-3zM769 743h3v3h-3zM727 746h3v3h-3zM730 746h9v3h-9zM751 746h6v3h-6zM754 746h3v3h-3zM796 746h6v3h-6zM811 746h6v3h-6zM670 749h3v3h-3zM706 749h9v3h-9zM742 749h6v3h-6zM751 749h9v3h-9zM769 749h6v3h-6zM793 749h3v3h-3zM805 749h3v3h-3zM814 749h6v3h-6zM820 749h9v3h-9zM823 749h3v3h-3zM709 752h3v3h-3zM751 752h3v3h-3zM823 752h6v3h-6zM667 755h3v3h-3zM682 755h6v3h-6zM715 755h6v3h-6zM730 755h6v3h-6zM739 755h3v3h-3zM769 755h3v3h-3zM772 755h9v3h-9zM793 755h6v3h-6zM796 755h6v3h-6zM667 758h3v3h-3zM685 758h3v3h-3zM757 758h6v3h-6zM775 758h3v3h-3zM844 758h3v3h-3zM673 761h3v3h-3zM718 761h3v3h-3zM814 761h3v3h-3zM850 761h3v3h-3zM853 761h3v3h-3zM676 764h3v3h-3zM688 764h9v3h-9zM709 764h3v3h-3zM799 764h9v3h-9zM829 764h3v3h-3zM844 764h3v3h-3zM679 767h6v3h-6zM721 767h3v3h-3zM727 767h3v3h-3zM778 767h6v3h-6zM808 767h3v3h-3zM814 767h6v3h-6zM829 767h3v3h-3zM850 767h6v3h-6zM763 770h3v3h-3zM766 770h9v3h-9zM796 770h6v3h-6zM823 770h9v3h-9zM835 770h6v3h-6zM673 773h9v3h-9zM727 773h3v3h-3zM742 773h3v3h-3zM766 773h3v3h-3zM772 773h3v3h-3zM793 773h6v3h-6zM709 776h9v3h-9zM712 776h3v3h-3zM730 776h6v3h-6zM742 776h3v3h-3zM763 776h6v3h-6zM790 776h9v3h-9zM844 776h6v3h-6zM718 779h3v3h-3zM754 779h6v3h-6zM772 779h9v3h-9zM718 782h6v3h-6zM823 782h3v3h-3zM832 782h3v3h-3zM844 782h3v3h-3zM874 782h6v3h-6zM883 782h3v3h-3zM679 785h9v3h-9zM682 785h6v3h-6zM757 785h9v3h-9zM778 785h3v3h-3zM808 785h3v3h-3zM880 785h3v3h-3zM691 788h6v3h-6zM700 788h9v3h-9zM742 788h6v3h-6zM745 788h3v3h-3zM790 788h3v3h-3zM697 791h3v3h-3zM724 791h9v3h-9zM793 791h3v3h-3zM823 791h6v3h-6zM883 791h9v3h-9zM697 794h6v3h-6zM700 794h3v3h-3zM817 794h3v3h-3zM835 794h3v3h-3zM874 794h6v3h-6zM886 794h3v3h-3zM706 797h3v3h-3zM718 797h9v3h-9zM733 797h9v3h-9zM745 797h9v3h-9zM790 797h3v3h-3zM808 797h9v3h-9zM829 797h9v3h-9zM865 797h3v3h-3zM694 800h6v3h-6zM697 800h3v3h-3zM703 800h3v3h-3zM721 800h6v3h-6zM727 800h3v3h-3zM868 800h3v3h-3zM847 803h9v3h-9zM874 803h3v3h-3zM886 803h6v3h-6zM892 803h9v3h-9zM727 806h3v3h-3zM850 806h3v3h-3zM868 806h6v3h-6zM877 806h3v3h-3zM898 806h9v3h-9zM691 809h3v3h-3zM712 809h9v3h-9zM892 809h3v3h-3zM898 809h9v3h-9zM904 809h9v3h-9zM697 812h3v3h-3zM715 812h9v3h-9zM718 812h9v3h-9zM862 812h3v3h-3zM700 815h9v3h-9zM874 815h3v3h-3zM880 815h3v3h-3zM694 818h3v3h-3zM877 818h3v3h-3zM880 821h6v3h-6zM889 821h3v3h-3zM700 824h3v3h-3zM892 824h6v3h-6zM904 824h9v3h-9zM889 827h6v3h-6zM892 830h3v3h-3zM895 830h9v3h-9z" fill="#3a76ad"/><path d="M727 713h3v3h-3zM727 719h6v3h-6zM706 722h9v3h-9zM721 722h3v3h-3zM724 722h3v3h-3zM733 722h6v3h-6zM730 725h9v3h-9zM739 725h9v3h-9zM748 725h3v3h-3zM727 728h3v3h-3zM730 728h3v3h-3zM745 728h6v3h-6zM694 731h3v3h-3zM706 731h3v3h-3zM709 731h3v3h-3zM739 731h9v3h-9zM757 731h3v3h-3zM769 731h6v3h-6zM697 734h3v3h-3zM718 734h3v3h-3zM727 734h9v3h-9zM751 734h3v3h-3zM775 734h3v3h-3zM793 734h3v3h-3zM706 737h9v3h-9zM715 737h9v3h-9zM730 737h9v3h-9zM751 737h6v3h-6zM685 740h3v3h-3zM712 740h3v3h-3zM745 740h3v3h-3zM787 740h3v3h-3zM697 743h3v3h-3zM703 743h3v3h-3zM733 743h9v3h-9zM736 743h6v3h-6zM739 743h6v3h-6zM742 743h3v3h-3zM778 743h3v3h-3zM793 743h9v3h-9zM799 743h9v3h-9zM682 746h3v3h-3zM691 746h3v3h-3zM721 746h3v3h-3zM736 746h6v3h-6zM757 746h6v3h-6zM769 746h9v3h-9zM772 746h3v3h-3zM781 746h3v3h-3zM817 746h3v3h-3zM754 749h9v3h-9zM772 749h3v3h-3zM781 749h3v3h-3zM667 752h3v3h-3zM673 752h3v3h-3zM682 752h3v3h-3zM697 752h3v3h-3zM721 752h9v3h-9zM796 752h3v3h-3zM808 752h3v3h-3zM817 752h9v3h-9zM670 755h3v3h-3zM721 755h6v3h-6zM754 755h3v3h-3zM766 755h3v3h-3zM775 755h9v3h-9zM814 755h3v3h-3zM820 755h9v3h-9zM670 758h6v3h-6zM679 758h6v3h-6zM703 758h9v3h-9zM745 758h3v3h-3zM766 758h9v3h-9zM682 761h3v3h-3zM685 761h3v3h-3zM688 761h6v3h-6zM691 761h3v3h-3zM694 761h9v3h-9zM709 761h3v3h-3zM820 761h3v3h-3zM829 761h6v3h-6zM679 764h3v3h-3zM691 764h6v3h-6zM721 764h3v3h-3zM700 767h9v3h-9zM712 767h3v3h-3zM766 767h6v3h-6zM769 767h6v3h-6zM784 767h6v3h-6zM805 767h3v3h-3zM832 767h6v3h-6zM847 767h3v3h-3zM859 767h9v3h-9zM679 770h3v3h-3zM709 770h9v3h-9zM784 770h9v3h-9zM856 770h6v3h-6zM700 773h6v3h-6zM703 773h3v3h-3zM718 773h3v3h-3zM781 773h3v3h-3zM787 773h9v3h-9zM856 773h9v3h-9zM859 773h3v3h-3zM871 773h9v3h-9zM703 776h3v3h-3zM706 776h3v3h-3zM784 776h6v3h-6zM805 776h6v3h-6zM817 776h6v3h-6zM853 776h6v3h-6zM676 779h9v3h-9zM694 779h6v3h-6zM700 779h9v3h-9zM703 779h6v3h-6zM712 779h9v3h-9zM730 779h6v3h-6zM739 779h3v3h-3zM757 779h3v3h-3zM766 779h9v3h-9zM685 782h6v3h-6zM709 782h3v3h-3zM724 782h3v3h-3zM811 782h9v3h-9zM838 782h9v3h-9zM841 782h9v3h-9zM850 782h3v3h-3zM712 785h6v3h-6zM772 785h9v3h-9zM814 785h9v3h-9zM823 785h6v3h-6zM847 785h9v3h-9zM862 785h3v3h-3zM865 785h3v3h-3zM733 788h6v3h-6zM781 788h6v3h-6zM865 788h9v3h-9zM727 791h6v3h-6zM739 791h6v3h-6zM772 791h3v3h-3zM790 791h6v3h-6zM829 791h9v3h-9zM850 791h3v3h-3zM865 791h9v3h-9zM724 794h3v3h-3zM733 794h3v3h-3zM778 794h6v3h-6zM838 794h6v3h-6zM841 794h9v3h-9zM871 794h3v3h-3zM883 794h6v3h-6zM895 794h6v3h-6zM697 797h3v3h-3zM793 797h9v3h-9zM814 797h3v3h-3zM823 797h9v3h-9zM886 797h9v3h-9zM796 800h3v3h-3zM799 800h9v3h-9zM853 800h6v3h-6zM703 803h6v3h-6zM709 803h6v3h-6zM715 803h3v3h-3zM817 803h6v3h-6zM832 803h6v3h-6zM853 803h3v3h-3zM856 803h9v3h-9zM880 803h3v3h-3zM883 803h3v3h-3zM709 806h3v3h-3zM832 806h9v3h-9zM838 806h6v3h-6zM862 806h6v3h-6zM865 806h3v3h-3zM883 806h3v3h-3zM700 809h3v3h-3zM718 809h6v3h-6zM865 812h9v3h-9zM889 815h6v3h-6zM892 815h3v3h-3zM886 818h6v3h-6zM892 818h9v3h-9zM706 821h6v3h-6zM877 821h3v3h-3zM895 827h3v3h-3zM898 830h3v3h-3zM904 830h3v3h-3z" fill="#3c6ba1"/><path d="M730 716h3v3h-3zM709 719h9v3h-9zM715 719h3v3h-3zM730 719h3v3h-3zM742 722h3v3h-3zM727 725h6v3h-6zM694 728h3v3h-3zM697 728h3v3h-3zM712 728h3v3h-3zM733 728h3v3h-3zM751 728h3v3h-3zM778 728h9v3h-9zM751 731h9v3h-9zM754 731h3v3h-3zM700 734h9v3h-9zM733 734h6v3h-6zM739 734h3v3h-3zM763 734h3v3h-3zM772 734h9v3h-9zM781 734h3v3h-3zM784 734h9v3h-9zM682 737h3v3h-3zM718 737h6v3h-6zM796 737h3v3h-3zM682 740h3v3h-3zM694 740h3v3h-3zM778 740h3v3h-3zM802 740h3v3h-3zM688 743h3v3h-3zM709 743h3v3h-3zM724 743h3v3h-3zM727 743h6v3h-6zM745 743h3v3h-3zM814 743h6v3h-6zM679 746h6v3h-6zM697 746h3v3h-3zM724 746h3v3h-3zM760 746h3v3h-3zM814 746h9v3h-9zM667 749h3v3h-3zM682 749h3v3h-3zM730 749h6v3h-6zM757 749h3v3h-3zM778 749h6v3h-6zM676 752h3v3h-3zM718 752h9v3h-9zM727 752h3v3h-3zM748 752h3v3h-3zM814 752h9v3h-9zM820 752h3v3h-3zM700 755h3v3h-3zM688 758h9v3h-9zM733 758h3v3h-3zM736 758h3v3h-3zM772 758h9v3h-9zM811 758h6v3h-6zM817 758h9v3h-9zM847 758h9v3h-9zM712 761h3v3h-3zM739 761h3v3h-3zM745 761h3v3h-3zM754 761h3v3h-3zM802 761h3v3h-3zM826 761h3v3h-3zM838 761h3v3h-3zM685 764h6v3h-6zM700 764h3v3h-3zM703 764h9v3h-9zM736 764h6v3h-6zM784 764h3v3h-3zM802 764h3v3h-3zM835 764h3v3h-3zM739 767h3v3h-3zM745 767h3v3h-3zM775 767h9v3h-9zM781 767h3v3h-3zM820 767h3v3h-3zM862 767h3v3h-3zM724 770h9v3h-9zM745 770h9v3h-9zM757 770h3v3h-3zM826 770h6v3h-6zM832 770h6v3h-6zM841 770h3v3h-3zM844 770h3v3h-3zM712 773h9v3h-9zM715 773h3v3h-3zM769 773h9v3h-9zM796 773h6v3h-6zM802 773h3v3h-3zM808 773h3v3h-3zM826 773h3v3h-3zM832 773h3v3h-3zM838 773h6v3h-6zM874 773h3v3h-3zM676 776h3v3h-3zM760 776h9v3h-9zM778 776h6v3h-6zM781 776h6v3h-6zM787 776h9v3h-9zM865 776h6v3h-6zM868 776h3v3h-3zM697 779h6v3h-6zM706 779h9v3h-9zM733 779h3v3h-3zM736 779h6v3h-6zM811 779h3v3h-3zM841 779h9v3h-9zM871 779h3v3h-3zM874 779h6v3h-6zM706 782h6v3h-6zM739 782h3v3h-3zM751 782h6v3h-6zM781 782h6v3h-6zM817 782h3v3h-3zM859 782h3v3h-3zM697 785h3v3h-3zM733 785h3v3h-3zM736 785h9v3h-9zM742 785h6v3h-6zM853 785h3v3h-3zM715 788h9v3h-9zM727 788h6v3h-6zM739 788h9v3h-9zM760 788h3v3h-3zM796 788h9v3h-9zM820 788h9v3h-9zM823 788h3v3h-3zM847 788h9v3h-9zM850 788h6v3h-6zM859 788h3v3h-3zM883 788h3v3h-3zM889 788h6v3h-6zM892 788h3v3h-3zM682 791h3v3h-3zM700 791h3v3h-3zM754 791h9v3h-9zM766 791h6v3h-6zM781 791h9v3h-9zM859 791h9v3h-9zM877 791h9v3h-9zM886 791h3v3h-3zM892 791h3v3h-3zM685 794h9v3h-9zM691 794h3v3h-3zM709 794h3v3h-3zM766 794h3v3h-3zM793 794h6v3h-6zM820 794h9v3h-9zM826 794h3v3h-3zM709 797h3v3h-3zM727 797h6v3h-6zM763 797h3v3h-3zM766 797h6v3h-6zM775 797h6v3h-6zM778 797h6v3h-6zM820 797h3v3h-3zM832 797h6v3h-6zM892 797h3v3h-3zM802 800h3v3h-3zM865 800h3v3h-3zM874 800h6v3h-6zM700 803h6v3h-6zM712 803h9v3h-9zM724 803h9v3h-9zM865 803h3v3h-3zM895 803h6v3h-6zM697 806h6v3h-6zM880 806h3v3h-3zM724 809h6v3h-6zM862 809h3v3h-3zM880 809h6v3h-6zM712 812h9v3h-9zM880 812h3v3h-3zM907 815h9v3h-9zM871 818h9v3h-9zM883 821h3v3h-3zM886 821h6v3h-6zM901 821h3v3h-3zM907 821h6v3h-6zM889 824h6v3h-6z" fill="#3a72a5"/><path d="M736 716h6v3h-6zM712 719h6v3h-6zM742 719h3v3h-3zM715 722h3v3h-3zM748 722h9v3h-9zM703 725h9v3h-9zM718 725h3v3h-3zM748 728h9v3h-9zM769 728h9v3h-9zM697 731h3v3h-3zM784 731h3v3h-3zM688 734h6v3h-6zM730 734h3v3h-3zM760 734h9v3h-9zM685 737h3v3h-3zM697 737h3v3h-3zM766 737h6v3h-6zM775 737h3v3h-3zM790 737h3v3h-3zM724 740h9v3h-9zM799 740h3v3h-3zM805 740h3v3h-3zM772 743h9v3h-9zM787 743h3v3h-3zM790 743h9v3h-9zM817 743h3v3h-3zM700 746h6v3h-6zM718 746h6v3h-6zM733 746h3v3h-3zM799 746h6v3h-6zM823 746h3v3h-3zM694 749h9v3h-9zM766 749h3v3h-3zM775 749h3v3h-3zM787 749h3v3h-3zM799 749h9v3h-9zM802 749h3v3h-3zM670 752h9v3h-9zM679 752h9v3h-9zM688 752h3v3h-3zM691 752h6v3h-6zM757 752h3v3h-3zM775 752h6v3h-6zM832 752h3v3h-3zM697 755h3v3h-3zM712 755h3v3h-3zM748 755h3v3h-3zM778 755h9v3h-9zM790 755h9v3h-9zM808 755h3v3h-3zM835 755h6v3h-6zM673 758h3v3h-3zM709 758h3v3h-3zM727 758h9v3h-9zM739 758h3v3h-3zM781 758h9v3h-9zM820 758h3v3h-3zM826 758h6v3h-6zM703 761h6v3h-6zM730 761h9v3h-9zM790 761h3v3h-3zM808 761h3v3h-3zM841 761h9v3h-9zM847 761h3v3h-3zM697 764h9v3h-9zM712 764h3v3h-3zM715 764h3v3h-3zM739 764h6v3h-6zM754 764h3v3h-3zM766 764h3v3h-3zM820 764h3v3h-3zM685 767h6v3h-6zM715 767h3v3h-3zM733 767h9v3h-9zM751 767h9v3h-9zM838 767h3v3h-3zM694 770h3v3h-3zM706 770h3v3h-3zM775 770h6v3h-6zM802 770h9v3h-9zM691 773h9v3h-9zM736 773h3v3h-3zM739 773h9v3h-9zM745 773h9v3h-9zM754 773h3v3h-3zM811 773h6v3h-6zM835 773h3v3h-3zM688 776h9v3h-9zM700 776h3v3h-3zM721 776h6v3h-6zM766 776h6v3h-6zM820 776h3v3h-3zM832 776h3v3h-3zM850 776h3v3h-3zM862 776h6v3h-6zM871 776h3v3h-3zM724 779h6v3h-6zM763 779h9v3h-9zM775 779h3v3h-3zM778 779h3v3h-3zM793 779h3v3h-3zM820 779h6v3h-6zM826 779h3v3h-3zM853 779h3v3h-3zM856 779h3v3h-3zM868 779h3v3h-3zM700 782h9v3h-9zM778 782h3v3h-3zM820 782h3v3h-3zM826 782h3v3h-3zM688 785h6v3h-6zM700 785h3v3h-3zM727 785h3v3h-3zM760 785h3v3h-3zM763 785h3v3h-3zM799 785h3v3h-3zM811 785h3v3h-3zM832 785h9v3h-9zM841 785h3v3h-3zM844 785h9v3h-9zM856 785h9v3h-9zM883 785h3v3h-3zM694 788h6v3h-6zM706 788h3v3h-3zM754 788h6v3h-6zM787 788h3v3h-3zM817 788h3v3h-3zM733 791h3v3h-3zM808 791h3v3h-3zM832 791h3v3h-3zM895 791h3v3h-3zM688 794h3v3h-3zM754 794h9v3h-9zM763 794h3v3h-3zM775 794h3v3h-3zM790 794h3v3h-3zM811 794h6v3h-6zM859 794h6v3h-6zM865 794h6v3h-6zM877 794h6v3h-6zM892 794h9v3h-9zM700 797h3v3h-3zM721 797h9v3h-9zM742 797h9v3h-9zM751 797h3v3h-3zM826 797h3v3h-3zM811 800h3v3h-3zM847 800h3v3h-3zM886 800h3v3h-3zM892 800h3v3h-3zM898 800h6v3h-6zM694 803h9v3h-9zM820 803h6v3h-6zM862 803h9v3h-9zM871 803h9v3h-9zM904 803h3v3h-3zM892 806h6v3h-6zM697 809h3v3h-3zM703 812h9v3h-9zM868 812h9v3h-9zM901 812h3v3h-3zM697 815h3v3h-3zM706 815h6v3h-6zM895 815h3v3h-3zM898 815h3v3h-3zM703 821h6v3h-6zM904 821h3v3h-3zM700 827h3v3h-3zM703 827h3v3h-3zM910 827h3v3h-3zM898 836h9v3h-9z" fill="#357bac"/><path d="M703 722h6v3h-6zM718 722h9v3h-9zM757 722h9v3h-9zM700 725h6v3h-6zM709 725h6v3h-6zM721 725h6v3h-6zM724 728h3v3h-3zM760 728h3v3h-3zM727 731h3v3h-3zM730 731h6v3h-6zM745 731h6v3h-6zM760 731h3v3h-3zM781 731h6v3h-6zM712 734h9v3h-9zM715 734h3v3h-3zM742 734h6v3h-6zM709 737h9v3h-9zM778 737h3v3h-3zM781 737h9v3h-9zM784 737h3v3h-3zM679 740h3v3h-3zM709 740h6v3h-6zM718 740h3v3h-3zM733 740h3v3h-3zM736 740h6v3h-6zM739 740h9v3h-9zM748 740h3v3h-3zM682 743h3v3h-3zM754 743h6v3h-6zM712 746h9v3h-9zM742 746h9v3h-9zM808 746h6v3h-6zM820 746h6v3h-6zM664 749h3v3h-3zM685 749h6v3h-6zM697 749h9v3h-9zM715 749h3v3h-3zM784 749h3v3h-3zM808 749h6v3h-6zM811 749h9v3h-9zM664 752h9v3h-9zM712 752h9v3h-9zM715 752h9v3h-9zM733 752h6v3h-6zM736 752h3v3h-3zM790 752h3v3h-3zM805 752h3v3h-3zM835 752h6v3h-6zM694 755h9v3h-9zM787 755h6v3h-6zM676 758h3v3h-3zM694 758h3v3h-3zM778 758h9v3h-9zM790 758h9v3h-9zM796 758h3v3h-3zM805 758h3v3h-3zM832 758h6v3h-6zM763 761h9v3h-9zM778 761h3v3h-3zM835 761h9v3h-9zM670 764h3v3h-3zM745 764h6v3h-6zM763 764h9v3h-9zM778 764h3v3h-3zM841 764h6v3h-6zM850 764h6v3h-6zM697 767h9v3h-9zM754 767h3v3h-3zM787 767h3v3h-3zM841 767h3v3h-3zM856 767h6v3h-6zM676 770h9v3h-9zM733 770h3v3h-3zM751 770h3v3h-3zM754 770h9v3h-9zM790 770h3v3h-3zM829 770h9v3h-9zM847 770h3v3h-3zM685 773h3v3h-3zM775 773h6v3h-6zM844 773h6v3h-6zM850 773h3v3h-3zM718 776h3v3h-3zM727 776h9v3h-9zM736 776h6v3h-6zM754 776h9v3h-9zM772 776h6v3h-6zM793 776h6v3h-6zM685 779h3v3h-3zM688 779h3v3h-3zM691 779h6v3h-6zM721 779h9v3h-9zM781 779h6v3h-6zM790 779h3v3h-3zM832 779h6v3h-6zM835 779h3v3h-3zM850 779h9v3h-9zM880 779h3v3h-3zM679 782h6v3h-6zM682 782h9v3h-9zM730 782h6v3h-6zM745 782h9v3h-9zM757 782h3v3h-3zM787 782h3v3h-3zM802 782h6v3h-6zM856 782h9v3h-9zM868 782h3v3h-3zM880 782h3v3h-3zM685 785h3v3h-3zM694 785h6v3h-6zM709 785h9v3h-9zM754 785h6v3h-6zM769 785h6v3h-6zM775 785h9v3h-9zM787 785h6v3h-6zM796 785h3v3h-3zM820 785h3v3h-3zM835 785h3v3h-3zM871 785h3v3h-3zM877 785h3v3h-3zM724 788h3v3h-3zM736 788h3v3h-3zM763 788h6v3h-6zM772 788h9v3h-9zM802 788h6v3h-6zM868 788h6v3h-6zM703 791h3v3h-3zM712 791h9v3h-9zM721 791h3v3h-3zM769 791h6v3h-6zM784 791h3v3h-3zM811 791h9v3h-9zM856 791h3v3h-3zM769 794h3v3h-3zM799 794h3v3h-3zM832 794h3v3h-3zM880 794h3v3h-3zM694 797h6v3h-6zM736 797h6v3h-6zM754 797h3v3h-3zM760 797h9v3h-9zM796 797h9v3h-9zM799 797h9v3h-9zM811 797h6v3h-6zM838 797h9v3h-9zM883 797h9v3h-9zM898 797h3v3h-3zM712 800h9v3h-9zM718 800h9v3h-9zM838 800h3v3h-3zM844 800h6v3h-6zM895 800h9v3h-9zM901 800h6v3h-6zM691 803h9v3h-9zM694 806h9v3h-9zM706 806h6v3h-6zM889 806h3v3h-3zM874 809h3v3h-3zM871 812h3v3h-3zM877 812h3v3h-3zM904 812h3v3h-3zM712 815h9v3h-9zM904 815h3v3h-3zM697 818h9v3h-9zM700 818h6v3h-6zM889 818h6v3h-6zM895 818h3v3h-3zM901 818h3v3h-3zM907 818h6v3h-6zM898 821h6v3h-6zM703 824h9v3h-9z" fill="#2f88bd"/><path d="M747 763h3v3h-3zM750 763h3v3h-3zM768 766h3v3h-3zM780 766h9v3h-9zM765 769h6v3h-6zM774 769h9v3h-9zM747 772h3v3h-3zM756 772h3v3h-3zM759 772h3v3h-3zM768 772h3v3h-3zM771 772h9v3h-9zM789 772h3v3h-3zM753 775h3v3h-3zM756 775h9v3h-9zM765 775h6v3h-6zM813 778h3v3h-3zM741 781h6v3h-6zM804 781h3v3h-3zM810 781h9v3h-9zM744 784h3v3h-3zM771 784h3v3h-3zM744 787h9v3h-9zM777 787h3v3h-3zM789 787h3v3h-3zM795 787h6v3h-6zM807 787h6v3h-6zM756 790h3v3h-3zM762 790h9v3h-9zM780 790h6v3h-6zM783 790h3v3h-3zM726 793h3v3h-3zM729 793h9v3h-9zM735 793h3v3h-3zM762 793h6v3h-6zM780 793h6v3h-6zM813 793h6v3h-6zM762 796h6v3h-6zM780 796h9v3h-9zM804 796h6v3h-6zM810 796h6v3h-6zM846 796h9v3h-9zM798 799h9v3h-9zM834 799h3v3h-3zM843 799h9v3h-9zM807 802h6v3h-6zM816 802h9v3h-9zM855 805h9v3h-9zM855 808h3v3h-3z" fill="#2f88bd"/><path d="M768 763h9v3h-9zM771 763h6v3h-6zM741 766h3v3h-3zM753 766h3v3h-3zM759 766h9v3h-9zM765 766h3v3h-3zM738 769h3v3h-3zM777 769h6v3h-6zM795 769h3v3h-3zM795 772h6v3h-6zM801 772h3v3h-3zM759 775h6v3h-6zM777 775h9v3h-9zM801 775h3v3h-3zM750 778h6v3h-6zM771 778h3v3h-3zM816 778h6v3h-6zM744 781h9v3h-9zM750 781h6v3h-6zM759 781h3v3h-3zM774 781h3v3h-3zM780 781h9v3h-9zM789 781h3v3h-3zM792 781h3v3h-3zM801 781h3v3h-3zM825 781h3v3h-3zM732 784h3v3h-3zM747 784h3v3h-3zM750 784h9v3h-9zM768 784h3v3h-3zM786 784h9v3h-9zM792 784h9v3h-9zM810 784h9v3h-9zM813 784h3v3h-3zM738 787h9v3h-9zM741 787h9v3h-9zM783 787h3v3h-3zM792 787h6v3h-6zM735 790h3v3h-3zM747 790h3v3h-3zM768 790h6v3h-6zM786 790h3v3h-3zM792 790h6v3h-6zM804 790h9v3h-9zM807 790h6v3h-6zM756 793h3v3h-3zM792 793h3v3h-3zM834 793h6v3h-6zM840 793h3v3h-3zM741 796h6v3h-6zM765 796h9v3h-9zM828 796h9v3h-9zM834 796h9v3h-9zM792 799h6v3h-6zM801 799h9v3h-9zM846 799h9v3h-9zM822 802h6v3h-6zM834 802h6v3h-6zM852 802h3v3h-3zM837 805h3v3h-3zM840 805h6v3h-6zM852 808h9v3h-9z" fill="#357bac"/><path d="M750 766h3v3h-3zM762 766h6v3h-6zM741 769h6v3h-6zM756 769h9v3h-9zM741 772h3v3h-3zM744 772h9v3h-9zM774 772h9v3h-9zM783 775h3v3h-3zM789 775h3v3h-3zM738 778h3v3h-3zM753 778h6v3h-6zM801 778h3v3h-3zM810 778h6v3h-6zM762 781h9v3h-9zM738 784h3v3h-3zM777 784h6v3h-6zM795 784h6v3h-6zM822 784h3v3h-3zM747 787h3v3h-3zM780 787h9v3h-9zM843 787h3v3h-3zM759 790h9v3h-9zM765 790h9v3h-9zM771 790h3v3h-3zM774 790h9v3h-9zM789 790h3v3h-3zM798 790h3v3h-3zM801 790h9v3h-9zM846 790h3v3h-3zM738 793h6v3h-6zM741 793h9v3h-9zM744 793h6v3h-6zM753 793h9v3h-9zM783 793h3v3h-3zM825 793h6v3h-6zM846 793h9v3h-9zM849 793h6v3h-6zM729 796h3v3h-3zM768 796h3v3h-3zM789 796h6v3h-6zM795 796h9v3h-9zM798 796h9v3h-9zM825 796h6v3h-6zM831 796h6v3h-6zM783 799h6v3h-6zM852 799h3v3h-3zM843 802h3v3h-3zM825 805h3v3h-3zM846 808h9v3h-9z" fill="#3a76ad"/><path d="M841 773h3v3h-3zM838 776h3v3h-3zM859 782h3v3h-3zM844 785h3v3h-3zM859 785h6v3h-6zM874 788h3v3h-3zM868 791h6v3h-6zM865 794h3v3h-3zM853 797h3v3h-3zM862 797h3v3h-3zM880 797h6v3h-6zM853 800h3v3h-3zM865 800h3v3h-3zM880 800h3v3h-3zM859 803h3v3h-3zM850 806h6v3h-6zM859 806h6v3h-6zM865 806h6v3h-6zM880 809h9v3h-9zM892 809h3v3h-3zM856 812h9v3h-9zM880 815h3v3h-3zM895 818h3v3h-3zM901 821h3v3h-3zM910 824h3v3h-3zM883 827h9v3h-9zM901 827h3v3h-3zM913 827h6v3h-6zM871 830h3v3h-3zM880 830h3v3h-3zM892 830h3v3h-3zM898 833h9v3h-9zM904 836h6v3h-6zM880 839h3v3h-3zM895 839h3v3h-3zM913 842h3v3h-3zM910 845h3v3h-3zM925 845h3v3h-3zM895 854h9v3h-9zM925 854h6v3h-6zM898 857h3v3h-3zM907 860h9v3h-9zM910 863h6v3h-6zM919 863h9v3h-9zM919 872h3v3h-3zM922 872h3v3h-3z" fill="#3a76ad"/><path d="M844 776h3v3h-3zM841 788h6v3h-6zM850 788h3v3h-3zM853 788h6v3h-6zM862 788h3v3h-3zM844 791h3v3h-3zM865 791h3v3h-3zM877 791h6v3h-6zM838 794h9v3h-9zM865 797h6v3h-6zM871 797h3v3h-3zM847 800h6v3h-6zM877 803h6v3h-6zM883 809h9v3h-9zM886 809h3v3h-3zM889 809h6v3h-6zM844 812h3v3h-3zM853 812h6v3h-6zM862 812h6v3h-6zM868 812h3v3h-3zM865 815h6v3h-6zM886 815h3v3h-3zM874 818h6v3h-6zM892 818h9v3h-9zM898 818h3v3h-3zM868 821h3v3h-3zM868 824h6v3h-6zM883 830h9v3h-9zM898 830h9v3h-9zM910 830h3v3h-3zM892 833h3v3h-3zM916 836h9v3h-9zM922 836h3v3h-3zM898 839h6v3h-6zM919 845h3v3h-3zM895 848h3v3h-3zM901 854h3v3h-3zM928 857h9v3h-9zM901 860h6v3h-6zM904 863h3v3h-3zM913 863h3v3h-3zM916 866h9v3h-9z" fill="#357bac"/><path d="M850 779h6v3h-6zM844 782h3v3h-3zM841 785h3v3h-3zM853 785h3v3h-3zM856 785h3v3h-3zM850 794h6v3h-6zM856 794h6v3h-6zM880 794h9v3h-9zM844 797h6v3h-6zM874 797h3v3h-3zM883 797h9v3h-9zM868 800h6v3h-6zM862 803h3v3h-3zM868 809h6v3h-6zM895 809h3v3h-3zM859 812h9v3h-9zM871 812h3v3h-3zM871 818h3v3h-3zM901 818h3v3h-3zM904 818h9v3h-9zM874 821h6v3h-6zM880 821h6v3h-6zM904 821h3v3h-3zM859 824h3v3h-3zM877 824h6v3h-6zM886 824h9v3h-9zM871 827h3v3h-3zM904 827h3v3h-3zM919 827h3v3h-3zM877 830h6v3h-6zM904 830h9v3h-9zM919 830h3v3h-3zM871 833h9v3h-9zM874 833h9v3h-9zM880 833h3v3h-3zM925 833h9v3h-9zM892 836h6v3h-6zM907 836h3v3h-3zM910 836h6v3h-6zM910 839h3v3h-3zM892 845h3v3h-3zM922 845h3v3h-3zM892 848h3v3h-3zM904 848h9v3h-9zM907 848h3v3h-3zM910 848h3v3h-3zM925 848h6v3h-6zM916 851h3v3h-3zM922 851h9v3h-9zM919 854h6v3h-6zM928 854h6v3h-6zM907 857h3v3h-3zM931 857h3v3h-3zM910 860h9v3h-9zM928 863h3v3h-3zM916 872h3v3h-3zM919 875h3v3h-3z" fill="#3a72a5"/><path d="M856 782h3v3h-3zM865 788h6v3h-6zM850 791h9v3h-9zM856 791h9v3h-9zM844 794h3v3h-3zM853 794h3v3h-3zM877 797h6v3h-6zM892 806h3v3h-3zM853 809h6v3h-6zM859 809h6v3h-6zM865 812h6v3h-6zM883 812h6v3h-6zM895 812h3v3h-3zM871 815h3v3h-3zM874 815h3v3h-3zM859 818h9v3h-9zM883 818h3v3h-3zM907 818h6v3h-6zM859 821h6v3h-6zM865 821h3v3h-3zM889 821h3v3h-3zM880 824h3v3h-3zM895 824h3v3h-3zM886 827h3v3h-3zM886 830h3v3h-3zM916 833h9v3h-9zM883 839h3v3h-3zM892 839h6v3h-6zM907 839h9v3h-9zM916 839h6v3h-6zM919 839h6v3h-6zM916 845h6v3h-6zM913 848h6v3h-6zM892 851h9v3h-9zM901 851h3v3h-3zM928 851h9v3h-9zM907 854h3v3h-3zM916 860h6v3h-6zM925 860h6v3h-6zM901 863h3v3h-3zM919 869h3v3h-3z" fill="#2f88bd"/></g><path d="M669 1270 L676 1274M670 1190 L679 1195M632 1293 L648 1301M697 1255 L710 1266M720 1247 L730 1254M656 1218 L666 1224M721 1302 L731 1309M671 1285 L678 1290M662 1244 L677 1254M634 1302 L648 1308M741 1310 L748 1316M621 1251 L634 1261M660 1189 L668 1193M677 1171 L683 1175M697 1285 L703 1289M744 1272 L751 1277M694 1285 L705 1292M681 1243 L694 1252M724 1305 L732 1310M682 1284 L692 1290M701 1268 L714 1275M633 1238 L640 1243M608 1268 L615 1272M680 1266 L692 1276M628 1205 L636 1209M701 1244 L707 1247M695 1302 L702 1307M700 1264 L706 1267M704 1299 L716 1306M622 1283 L633 1292M700 1297 L711 1305M675 1253 L686 1261M670 1274 L676 1276M674 1209 L687 1216M746 1280 L754 1284M656 1248 L671 1255M712 1283 L721 1290M690 1307 L697 1312M652 1237 L661 1242M712 1292 L727 1300M623 1243 L632 1251M648 1169 L655 1173M717 1303 L726 1308M644 1206 L655 1211M746 1271 L753 1277M680 1220 L690 1228M688 1264 L693 1269M741 1314 L751 1319M769 1262 L778 1268M633 1198 L640 1203M731 1258 L746 1265M635 1291 L645 1299M732 1253 L747 1261M678 1180 L691 1188M709 1230 L715 1235M633 1212 L640 1218M682 1224 L688 1226M720 1271 L726 1276M618 1258 L625 1263M632 1207 L642 1213M600 1271 L614 1279M708 1228 L724 1236M718 1288 L731 1298M688 1211 L694 1216M709 1259 L720 1265M733 1277 L745 1283M752 1272 L759 1277M672 1254 L681 1259M659 1230 L665 1235M625 1200 L637 1207M635 1262 L645 1268M664 1257 L677 1268M714 1249 L723 1254M648 1224 L662 1233M685 1278 L697 1287M647 1224 L657 1232M625 1253 L637 1263M708 1313 L713 1316M644 1237 L655 1244M712 1306 L718 1311M619 1266 L633 1276M718 1300 L725 1304M711 1309 L725 1318M759 1270 L766 1276M702 1247 L708 1251M657 1252 L665 1257M739 1311 L750 1320M613 1286 L625 1295M663 1178 L668 1182M641 1230 L647 1233M666 1165 L681 1173M675 1250 L682 1253M655 1252 L665 1260M639 1210 L649 1215M658 1266 L672 1276M673 1239 L687 1248M661 1167 L673 1175M621 1261 L634 1268M693 1297 L702 1302M724 1254 L738 1263M628 1298 L643 1308M689 1238 L696 1241M609 1291 L617 1295M630 1281 L639 1286M708 1243 L716 1247M668 1228 L679 1236M626 1247 L635 1252M723 1311 L735 1320M673 1232 L687 1243M649 1252 L661 1257" stroke="#3a72a5" stroke-width="7" stroke-linecap="round" fill="none"/><path d="M729 1244 L736 1249M635 1192 L646 1199M632 1231 L645 1239M656 1273 L670 1281M705 1239 L718 1249M685 1285 L695 1291M666 1205 L674 1208M668 1242 L681 1250M674 1181 L683 1186M704 1308 L711 1313M635 1291 L644 1296M674 1169 L680 1174M733 1295 L745 1303M646 1175 L657 1181M656 1197 L664 1201M713 1234 L721 1239M735 1293 L745 1301M618 1296 L631 1303M628 1240 L640 1248M715 1238 L724 1243M672 1249 L688 1257M692 1243 L703 1251M694 1249 L699 1252M650 1232 L656 1236M694 1214 L702 1218M716 1256 L725 1262M638 1210 L644 1214M688 1263 L703 1271M695 1270 L701 1274M663 1191 L672 1195M649 1234 L660 1238M655 1289 L666 1298M711 1307 L720 1312M670 1268 L682 1276M658 1166 L671 1175M690 1297 L701 1304M694 1247 L701 1250M687 1305 L697 1313M739 1312 L745 1316M734 1297 L741 1302M666 1211 L674 1217M707 1265 L721 1273M640 1192 L649 1197M647 1217 L656 1224M724 1246 L730 1249M641 1231 L650 1237M721 1237 L732 1246M652 1217 L667 1225M714 1262 L724 1267M636 1241 L642 1246M656 1210 L669 1217M675 1283 L681 1287M648 1290 L658 1297M694 1249 L701 1255M737 1288 L746 1294M711 1299 L716 1303M650 1276 L664 1283M626 1235 L642 1242M714 1317 L723 1322M636 1265 L646 1272M693 1217 L702 1224M709 1267 L717 1272M724 1277 L732 1283M650 1276 L663 1284M660 1254 L670 1260M677 1288 L689 1295M708 1304 L713 1308M745 1289 L755 1294M645 1283 L659 1292M681 1193 L693 1201M731 1286 L747 1294M742 1275 L754 1283M648 1182 L655 1186M641 1246 L653 1255M696 1273 L708 1283M711 1239 L720 1244M619 1283 L628 1289M692 1235 L704 1240M631 1268 L636 1271M651 1159 L664 1166M638 1207 L653 1215M623 1267 L629 1273M665 1206 L671 1210M669 1224 L683 1235M681 1250 L691 1257M640 1245 L647 1250M728 1245 L737 1250M723 1315 L736 1320M683 1260 L697 1267M638 1176 L650 1182M646 1211 L657 1219M664 1199 L675 1206" stroke="#357bac" stroke-width="7" stroke-linecap="round" fill="none"/><path d="M753 1264 L760 1269M634 1263 L642 1267M651 1250 L660 1257M652 1185 L663 1193M724 1268 L739 1279M668 1191 L675 1195M644 1203 L659 1211M644 1274 L649 1278M683 1234 L694 1243M678 1215 L693 1223M627 1199 L635 1205M663 1281 L675 1289M626 1272 L639 1280M641 1218 L650 1224M671 1175 L677 1178M727 1254 L738 1263M723 1311 L731 1316M642 1168 L654 1175M666 1294 L674 1298M664 1280 L674 1287M646 1218 L659 1226M695 1274 L710 1281M749 1271 L759 1278M666 1228 L676 1235M646 1189 L651 1193M658 1203 L671 1211M689 1264 L696 1270M654 1297 L661 1303M719 1252 L733 1258M704 1313 L710 1317M737 1307 L746 1313M644 1202 L654 1210M625 1298 L637 1304M739 1287 L749 1294M640 1180 L646 1184M675 1281 L682 1284M675 1278 L683 1285M695 1271 L707 1280M650 1293 L656 1297M720 1259 L727 1263M739 1304 L746 1309M630 1194 L638 1199M643 1273 L658 1283M752 1296 L758 1300M664 1166 L672 1171M686 1244 L700 1254M642 1181 L655 1189M724 1259 L740 1266M696 1213 L708 1223M645 1183 L652 1187M737 1265 L748 1272M640 1280 L653 1291M699 1312 L711 1319M657 1216 L665 1220M686 1242 L693 1247M652 1179 L656 1183M680 1272 L687 1277M707 1249 L716 1254" stroke="#3680b6" stroke-width="7" stroke-linecap="round" fill="none"/><path d="M673 1270 L679 1274M697 1283 L708 1292M657 1202 L664 1208M677 1281 L684 1286M703 1254 L710 1258M720 1264 L733 1273M680 1226 L691 1235M683 1282 L694 1287M680 1240 L693 1247M695 1263 L707 1270M714 1274 L720 1278M652 1269 L662 1274M687 1228 L693 1231M696 1288 L703 1293M665 1200 L677 1207M707 1265 L719 1271M650 1246 L659 1251M710 1268 L723 1276M641 1266 L646 1270M640 1266 L646 1271M638 1259 L646 1265M629 1283 L640 1289M669 1208 L676 1213M660 1220 L673 1228M694 1235 L705 1244M722 1268 L731 1274M704 1298 L711 1302M652 1264 L656 1268M697 1249 L709 1256M691 1284 L698 1289M661 1265 L674 1272M710 1269 L719 1276M692 1263 L704 1269M700 1300 L711 1309M702 1288 L712 1296M647 1221 L658 1228M635 1268 L642 1274M707 1289 L718 1297M641 1233 L646 1236M673 1252 L684 1259M646 1266 L655 1270M721 1297 L728 1302M632 1245 L646 1252M663 1197 L670 1203M686 1259 L693 1263M637 1280 L648 1288M702 1283 L711 1290" stroke="#2f88bd" stroke-width="7" stroke-linecap="round" fill="none"/><path d="M668 1224 L673 1227M647 1250 L654 1254M623 1268 L638 1275M682 1287 L695 1294M660 1206 L671 1211M657 1271 L663 1275M628 1265 L639 1271M665 1248 L677 1256M677 1279 L690 1286M690 1257 L701 1265M634 1277 L645 1285M703 1286 L711 1291M691 1258 L697 1261M683 1219 L692 1226M685 1247 L694 1253M640 1270 L650 1278M662 1208 L667 1211M674 1219 L683 1224M648 1237 L659 1244M671 1196 L681 1204M719 1262 L725 1266M649 1261 L654 1264M698 1272 L708 1280M647 1211 L661 1219M665 1189 L674 1196M656 1201 L662 1206M662 1251 L676 1259M673 1203 L681 1207M632 1273 L640 1279M670 1216 L681 1225M639 1270 L647 1275M668 1262 L674 1266" stroke="#357bac" stroke-width="7" stroke-linecap="round" fill="none"/><path d="M691 1284 L698 1289M685 1246 L695 1251M711 1277 L720 1282M663 1237 L677 1243M669 1260 L679 1265M659 1277 L665 1282M692 1253 L698 1256M646 1209 L659 1217M668 1263 L677 1269M668 1207 L674 1210M703 1274 L717 1281M720 1273 L733 1282M688 1228 L695 1232M692 1236 L701 1242M627 1259 L639 1264M687 1291 L693 1294M664 1209 L672 1214M641 1273 L648 1278M707 1266 L717 1272M689 1242 L698 1249M643 1230 L654 1237M646 1260 L653 1266M664 1234 L673 1242M704 1269 L711 1272M701 1286 L713 1292M638 1260 L649 1268M660 1221 L668 1227M687 1228 L698 1233M691 1272 L699 1276M649 1269 L659 1274M638 1240 L650 1248" stroke="#3383bb" stroke-width="7" stroke-linecap="round" fill="none"/><path d="M589 1368 L605 1379M580 1358 L592 1367M581 1398 L595 1410M522 1379 L530 1385M573 1357 L581 1363M562 1393 L570 1397M627 1358 L636 1362M522 1373 L534 1379M634 1352 L649 1360M569 1409 L585 1419M509 1378 L518 1382M592 1361 L606 1368M630 1340 L642 1348M616 1347 L632 1356M580 1423 L593 1433M543 1377 L556 1385M674 1323 L685 1328M662 1332 L674 1339M583 1342 L590 1348M584 1376 L594 1383M563 1418 L579 1430M526 1365 L535 1371M568 1397 L575 1401M624 1344 L640 1355M506 1378 L519 1384M599 1379 L612 1389M560 1398 L578 1407M609 1357 L626 1366M575 1360 L586 1367M606 1375 L616 1381M572 1361 L582 1366M568 1374 L577 1380M616 1359 L625 1366M575 1409 L591 1416M492 1366 L510 1375M556 1354 L566 1362M574 1346 L585 1353M555 1428 L564 1433M632 1338 L640 1344M581 1417 L590 1423M616 1359 L630 1366M517 1383 L533 1392M557 1371 L566 1376M625 1351 L639 1360M601 1337 L615 1346M513 1363 L521 1367M554 1426 L565 1434M521 1377 L532 1385M558 1401 L569 1410M584 1357 L596 1362M570 1431 L582 1436M502 1370 L510 1373M605 1327 L617 1332M604 1373 L617 1380M666 1320 L684 1328M492 1378 L506 1389M608 1340 L621 1346M577 1386 L589 1395M495 1367 L505 1373M536 1362 L549 1372M544 1372 L558 1383M585 1396 L593 1403M580 1382 L591 1390M602 1332 L617 1340M608 1350 L620 1355" stroke="#2a94c6" stroke-width="8" stroke-linecap="round" fill="none"/><path d="M566 1377 L581 1388M520 1381 L528 1386M634 1343 L646 1353M629 1350 L640 1356M592 1361 L604 1370M570 1387 L585 1398M496 1366 L506 1374M590 1373 L606 1380M517 1372 L531 1384M570 1354 L588 1362M610 1352 L623 1358M572 1366 L587 1374M524 1368 L533 1374M571 1355 L583 1365M624 1355 L633 1362M556 1414 L566 1419M553 1356 L564 1362M633 1348 L645 1355M574 1396 L586 1404M616 1364 L623 1370M605 1376 L616 1384M569 1432 L581 1438M615 1350 L624 1356M595 1334 L610 1344M580 1360 L590 1365M544 1378 L551 1382M572 1402 L583 1408M539 1360 L551 1365M586 1345 L603 1354M572 1397 L586 1408M664 1320 L674 1326M549 1372 L561 1378M555 1352 L566 1360M602 1375 L612 1383M543 1374 L551 1380M599 1370 L613 1378M593 1356 L605 1365M608 1337 L619 1345M577 1384 L589 1393M581 1353 L597 1364M498 1364 L513 1373M576 1422 L588 1432M657 1324 L671 1334M585 1342 L599 1353M659 1330 L666 1335M619 1348 L631 1357" stroke="#357bac" stroke-width="8" stroke-linecap="round" fill="none"/><path d="M495 1359 L508 1368M577 1367 L590 1374M585 1378 L595 1384M520 1370 L536 1378M594 1348 L608 1358M607 1335 L620 1342M585 1400 L595 1406M566 1410 L579 1420M553 1420 L564 1426M625 1337 L641 1348M604 1364 L617 1371M625 1327 L634 1331M592 1355 L609 1365M557 1364 L569 1370M582 1347 L599 1356M553 1411 L565 1419M589 1394 L600 1401M608 1331 L617 1337M571 1422 L587 1430M559 1379 L573 1387M502 1373 L514 1382M556 1408 L564 1413M558 1351 L570 1358M548 1363 L564 1371M633 1344 L640 1349M576 1425 L593 1432M653 1335 L664 1343M536 1359 L544 1363M510 1362 L524 1369M607 1327 L614 1333M675 1322 L688 1330M501 1360 L509 1366M551 1363 L563 1369M571 1427 L585 1433M592 1332 L600 1338M570 1382 L578 1388M531 1364 L544 1372M611 1377 L617 1382M635 1325 L651 1334M587 1346 L603 1354M557 1422 L567 1427M587 1359 L595 1363M536 1378 L544 1385M605 1356 L614 1363M575 1411 L584 1417M507 1371 L523 1380M578 1374 L586 1379M577 1389 L588 1398M566 1393 L573 1399M529 1383 L538 1388M590 1335 L600 1340M589 1377 L602 1385M564 1366 L580 1376M639 1351 L653 1358M560 1419 L573 1426M558 1430 L568 1436M522 1358 L538 1367M611 1332 L622 1338M609 1343 L625 1351" stroke="#3180ba" stroke-width="8" stroke-linecap="round" fill="none"/><path d="M591 1353 L602 1359M660 1324 L667 1329M561 1409 L571 1416M572 1352 L587 1363M602 1377 L617 1387M602 1340 L610 1346M484 1369 L497 1376M565 1428 L581 1435M524 1383 L538 1391M551 1357 L563 1364M578 1395 L588 1400M576 1363 L585 1369M639 1351 L651 1356M553 1416 L560 1420M564 1424 L571 1429M576 1365 L583 1371M548 1427 L564 1435M573 1377 L583 1384M601 1352 L616 1364M613 1352 L621 1357M564 1392 L577 1401M652 1334 L661 1341M519 1365 L534 1377M511 1360 L521 1367M496 1378 L503 1383M566 1411 L573 1415M493 1359 L504 1368M582 1423 L593 1432M561 1361 L576 1372M576 1431 L588 1441M500 1362 L515 1371M516 1364 L527 1370M655 1325 L673 1333M574 1403 L588 1413M562 1367 L570 1374M592 1353 L601 1359M655 1336 L666 1343M589 1399 L600 1407M560 1382 L571 1389M524 1365 L532 1369M624 1360 L633 1366M531 1379 L543 1386M615 1335 L631 1345M599 1372 L612 1378M560 1357 L567 1363M507 1376 L520 1382M574 1431 L581 1436M532 1373 L540 1379M550 1379 L558 1385M626 1331 L633 1335M543 1372 L554 1378M576 1384 L593 1393M546 1353 L563 1363M556 1353 L565 1360M625 1361 L635 1367M517 1359 L529 1365M575 1421 L589 1430M551 1363 L559 1369M552 1362 L562 1369M564 1347 L581 1357M591 1392 L606 1401M584 1345 L599 1353M578 1434 L585 1439M559 1358 L574 1368M576 1433 L593 1441M491 1358 L503 1368M627 1353 L640 1364M642 1343 L656 1353M615 1355 L625 1360M613 1360 L623 1365M560 1356 L571 1364M522 1377 L533 1385M549 1374 L564 1386M550 1378 L566 1391M580 1365 L589 1370M602 1374 L610 1381M549 1418 L564 1428M650 1325 L666 1336M619 1333 L632 1343M589 1381 L600 1389M593 1391 L602 1395M538 1381 L550 1386M595 1361 L603 1364M626 1326 L641 1334M565 1356 L581 1365M572 1430 L579 1436M589 1346 L596 1351M626 1361 L636 1366M572 1398 L584 1403M605 1328 L619 1337M535 1357 L543 1361M507 1357 L520 1368M591 1333 L602 1338M594 1367 L604 1373M666 1328 L681 1340M488 1367 L498 1371M654 1323 L670 1334M589 1407 L600 1415M604 1364 L621 1374M591 1396 L603 1406M522 1362 L533 1371M571 1411 L585 1420M511 1379 L524 1386M501 1362 L517 1374M626 1345 L639 1351M571 1409 L580 1416M529 1359 L537 1363M603 1370 L617 1381M683 1322 L690 1326M608 1365 L622 1374M603 1335 L615 1344M654 1330 L665 1336M505 1359 L516 1366M549 1379 L560 1387M567 1427 L583 1438M555 1377 L565 1383M578 1412 L591 1421M642 1330 L660 1339M542 1370 L560 1378M608 1329 L621 1335M517 1379 L531 1389M679 1322 L686 1327M573 1436 L583 1442M522 1373 L531 1379M575 1394 L587 1402M658 1325 L672 1333M587 1377 L602 1384M584 1344 L598 1354M558 1416 L572 1424M559 1431 L569 1440" stroke="#2f88bd" stroke-width="8" stroke-linecap="round" fill="none"/><path d="M580 1389 L593 1399M588 1369 L601 1378M586 1362 L599 1372M584 1354 L595 1359M572 1355 L581 1361M572 1356 L585 1366M595 1352 L605 1356M581 1394 L592 1401M583 1349 L590 1353M580 1375 L594 1384M574 1383 L582 1387M573 1410 L585 1416M572 1388 L584 1397M582 1402 L594 1407M583 1346 L597 1355M570 1374 L580 1380M558 1426 L570 1432M572 1385 L588 1394M572 1352 L586 1360M591 1363 L606 1371M562 1413 L571 1416M572 1374 L586 1383" stroke="#2f88bd" stroke-width="8" stroke-linecap="round" fill="none"/><path d="M574 1424 L584 1430M581 1410 L591 1417M584 1396 L593 1402M575 1359 L588 1368M594 1364 L602 1369M591 1374 L604 1382M570 1366 L577 1370M561 1405 L571 1410M584 1384 L598 1391M578 1425 L592 1434M566 1400 L582 1408M559 1412 L570 1420M562 1373 L577 1381M567 1359 L576 1364M578 1371 L593 1379M575 1360 L582 1365M574 1381 L584 1388M581 1352 L594 1361M580 1407 L591 1413M597 1352 L610 1363M575 1425 L582 1429M595 1362 L604 1366M587 1367 L596 1373M574 1345 L587 1354M567 1387 L576 1392M588 1350 L604 1359M571 1372 L585 1379M568 1413 L581 1421M584 1384 L594 1392M560 1420 L572 1428M577 1377 L587 1383M582 1426 L590 1431M575 1398 L590 1408M562 1398 L575 1405M589 1347 L600 1354M591 1358 L603 1364M562 1423 L572 1431" stroke="#2a94c6" stroke-width="8" stroke-linecap="round" fill="none"/><path d="M579 1355 L587 1360M590 1369 L600 1375M588 1378 L602 1387M588 1342 L598 1347M582 1365 L593 1372M594 1351 L608 1360M564 1395 L573 1403M593 1345 L608 1354M570 1410 L584 1421M569 1355 L577 1360M569 1410 L583 1418M593 1342 L603 1350M580 1394 L593 1403M572 1423 L586 1433M581 1377 L596 1386M583 1340 L597 1348" stroke="#2b9acd" stroke-width="8" stroke-linecap="round" fill="none"/><path d="M581 1412 L591 1420M581 1364 L596 1373M564 1379 L575 1388M565 1417 L581 1425M581 1387 L589 1393M574 1409 L582 1415M586 1374 L593 1380M561 1421 L570 1426M578 1416 L594 1423M586 1382 L599 1389M581 1363 L591 1368M576 1367 L585 1373M572 1408 L584 1414M570 1383 L584 1391M597 1348 L606 1352" stroke="#25a3d3" stroke-width="8" stroke-linecap="round" fill="none"/><path d="M556 1469 L570 1480M545 1442 L553 1447M538 1485 L545 1489M578 1447 L591 1453M568 1430 L582 1441M568 1457 L587 1466M554 1436 L568 1448M507 1462 L516 1467M528 1483 L544 1492M564 1451 L574 1458M553 1450 L563 1456M587 1451 L601 1461M523 1453 L536 1461M525 1453 L535 1461M572 1458 L587 1467M534 1476 L545 1481M548 1431 L565 1443M576 1441 L592 1449M546 1446 L556 1451M556 1478 L568 1487M549 1480 L556 1484M546 1460 L563 1473M574 1458 L585 1464M586 1441 L598 1448M581 1460 L591 1464M542 1445 L558 1455M551 1477 L560 1484M570 1467 L589 1478M511 1469 L520 1476M548 1472 L558 1478M568 1440 L576 1446M541 1465 L558 1473" stroke="#25a3d3" stroke-width="8.5" stroke-linecap="round" fill="none"/><path d="M567 1471 L583 1484M549 1460 L556 1465M573 1460 L581 1465M546 1467 L555 1474M523 1461 L531 1468M529 1481 L536 1486M553 1471 L567 1482M525 1470 L534 1477M545 1448 L552 1453M576 1464 L588 1471M506 1473 L518 1479M599 1438 L616 1448M553 1466 L563 1471M606 1436 L615 1444M585 1464 L593 1469M560 1470 L573 1481M508 1468 L521 1477M586 1434 L596 1440M556 1450 L568 1457M548 1470 L563 1480M575 1468 L585 1476M530 1475 L538 1481M537 1460 L545 1465M545 1436 L556 1444M583 1430 L591 1437M539 1457 L548 1463M532 1472 L544 1478M550 1433 L564 1444M562 1433 L577 1445M598 1444 L609 1454M554 1455 L572 1464M564 1441 L578 1452M543 1450 L555 1458M550 1435 L561 1445M564 1464 L576 1472M560 1449 L568 1455M504 1463 L511 1468M582 1455 L591 1459M595 1449 L613 1459M514 1456 L523 1460M514 1459 L522 1463M581 1442 L597 1450M537 1469 L551 1478M536 1458 L550 1465M512 1476 L522 1483M582 1450 L592 1457M519 1460 L528 1464M527 1465 L541 1471M523 1476 L532 1483M539 1482 L551 1489M574 1459 L586 1464M571 1459 L584 1469M515 1448 L532 1461M529 1475 L544 1486M583 1452 L599 1462M544 1473 L560 1482" stroke="#2a94c6" stroke-width="8.5" stroke-linecap="round" fill="none"/><path d="M559 1455 L571 1461M566 1482 L574 1486M605 1439 L613 1445M542 1436 L561 1445M592 1452 L606 1463M528 1476 L546 1486M550 1453 L559 1461M529 1440 L544 1449M560 1475 L575 1486M521 1476 L534 1483M584 1432 L591 1436M573 1432 L588 1444M534 1467 L552 1479M599 1431 L611 1437M550 1462 L557 1468M601 1449 L609 1454M518 1453 L525 1458M574 1442 L591 1452M554 1439 L564 1444M575 1457 L583 1464M498 1467 L513 1474" stroke="#2b9acd" stroke-width="8.5" stroke-linecap="round" fill="none"/><path d="M554 1473 L572 1485M588 1435 L604 1444M579 1442 L592 1450M562 1474 L576 1486M583 1453 L596 1463M575 1456 L586 1462M561 1480 L568 1486M579 1459 L595 1468M547 1437 L561 1443M547 1466 L558 1471M576 1449 L595 1457M596 1459 L606 1467M554 1440 L562 1445M524 1450 L531 1453M542 1457 L561 1467M554 1464 L561 1468M558 1467 L565 1473M568 1462 L576 1468M603 1436 L621 1446M547 1482 L566 1492M554 1458 L563 1465M584 1451 L591 1456M590 1448 L598 1454M530 1457 L538 1464M530 1474 L548 1485M523 1476 L535 1483M571 1476 L582 1482M563 1453 L571 1459M548 1461 L565 1471M590 1461 L600 1466M544 1455 L552 1460" stroke="#2f88bd" stroke-width="8.5" stroke-linecap="round" fill="none"/><path d="M499 1432 L506 1437M476 1423 L487 1429M468 1415 L483 1425M483 1419 L498 1429M485 1411 L504 1421M486 1422 L496 1430M472 1416 L480 1421M476 1415 L490 1423M478 1417 L489 1424M473 1401 L488 1408" stroke="#2f88bd" stroke-width="9" stroke-linecap="round" fill="none"/><path d="M484 1427 L503 1438M484 1426 L492 1431M469 1419 L486 1427M479 1410 L491 1417" stroke="#357bac" stroke-width="9" stroke-linecap="round" fill="none"/><path d="M483 1413 L492 1419M489 1414 L504 1425M464 1408 L477 1418M479 1403 L492 1409" stroke="#2a94c6" stroke-width="9" stroke-linecap="round" fill="none"/><path d="M481 1404 L489 1410M481 1400 L492 1410M504 1424 L512 1429M481 1417 L496 1423" stroke="#3180ba" stroke-width="9" stroke-linecap="round" fill="none"/><path d="M524 1411 L535 1420M516 1415 L528 1424M516 1420 L530 1430" stroke="#3180ba" stroke-width="9" stroke-linecap="round" fill="none"/><path d="M517 1421 L532 1431" stroke="#2a94c6" stroke-width="9" stroke-linecap="round" fill="none"/><path d="M529 1426 L540 1432" stroke="#2f88bd" stroke-width="9" stroke-linecap="round" fill="none"/><path d="M388 1482L423 1507M405 1515L418 1522M415 1542L463 1580M443 1520L481 1547M488 1492L498 1497M486 1527L498 1535M506 1517L516 1527M511 1537L526 1545M511 1565L541 1573M541 1580L556 1593M543 1532L566 1537M556 1552L571 1570M551 1512L566 1517M566 1502L581 1515M591 1512L604 1520M498 1462L521 1477M481 1457L493 1462M455 1417L460 1418M634 1497L647 1505M631 1384L633 1397M649 1379L667 1385M636 1417L639 1419M629 1397L629 1399M611 1477L626 1482M410 1208L414 1216M481 1155L491 1165M434 1195L435 1197M455 1291L464 1297M520 1302L527 1310M483 1320L484 1321M543 1321L546 1324M506 1339L511 1343M517 1348L523 1351M581 1253L585 1257M599 1266L599 1268M615 1150L616 1151M704 1212L705 1212M706 1344L706 1345" stroke="#2a94c6" stroke-width="8.5" stroke-linecap="round" fill="none"/><path d="M443 1524L469 1537M489 1527L493 1529M513 1524L515 1525M510 1557L543 1571M536 1571L570 1598M577 1601L582 1618M550 1551L563 1561M523 1537L530 1542M389 1482L419 1504M414 1544L466 1579M469 1544L496 1571M479 1557L500 1581" stroke="#2a94c6" stroke-width="10" stroke-linecap="round" fill="none"/><path d="M484 1550 L499 1557M476 1560 L485 1565M490 1560 L499 1567M479 1535 L489 1542M479 1551 L489 1556M463 1571 L480 1579M488 1554 L503 1564M497 1560 L504 1564M483 1532 L496 1537M464 1554 L478 1563M491 1542 L502 1549M472 1540 L485 1546M458 1557 L475 1566M483 1548 L495 1554M478 1540 L491 1547M497 1555 L508 1561M463 1548 L478 1560M478 1539 L487 1544M485 1567 L494 1573M495 1556 L505 1560M458 1545 L474 1552" stroke="#25a3d3" stroke-width="9" stroke-linecap="round" fill="none"/><path d="M468 1560 L481 1566M460 1547 L472 1555M469 1564 L484 1571M469 1546 L478 1553M475 1555 L493 1565M474 1542 L481 1547M482 1551 L492 1558M472 1573 L480 1578M466 1557 L483 1566M490 1551 L508 1560M473 1543 L482 1548M461 1554 L470 1561M494 1562 L509 1572M460 1559 L476 1569M469 1563 L476 1567M477 1561 L485 1565M482 1558 L494 1565M495 1542 L505 1551M466 1562 L478 1569" stroke="#2a94c6" stroke-width="9" stroke-linecap="round" fill="none"/><path d="M715 1332 L720 1335M742 1346 L752 1351M745 1332 L755 1338M724 1319 L732 1325M716 1338 L723 1343M743 1320 L748 1323M740 1334 L749 1339M748 1316 L757 1321M746 1336 L753 1340M723 1335 L730 1338M728 1336 L735 1340M736 1326 L744 1331M740 1329 L750 1334" stroke="#3a72a5" stroke-width="6" stroke-linecap="round" fill="none"/><path d="M756 1337 L762 1341M754 1342 L763 1349M739 1341 L747 1348M747 1352 L753 1357M741 1326 L746 1331M721 1319 L727 1323M739 1342 L749 1347M731 1325 L740 1331M727 1320 L735 1325M741 1332 L746 1334M757 1351 L762 1355M756 1348 L760 1351M707 1323 L716 1330M745 1320 L755 1326M748 1328 L752 1331" stroke="#2f88bd" stroke-width="6" stroke-linecap="round" fill="none"/><path d="M726 1330 L731 1334M740 1320 L747 1323M716 1337 L721 1341M712 1322 L719 1326M729 1330 L737 1334M712 1331 L720 1335M760 1352 L767 1356M757 1340 L763 1344M718 1335 L725 1340M708 1330 L716 1337M743 1342 L750 1345M736 1337 L743 1343" stroke="#357bac" stroke-width="6" stroke-linecap="round" fill="none"/><path d="M799 1364 L804 1363M821 1358 L826 1358M790 1362 L799 1362M805 1357 L816 1359M801 1355 L808 1356M817 1355 L823 1354M791 1361 L802 1360M794 1362 L799 1362M813 1357 L822 1357" stroke="#357bac" stroke-width="6" stroke-linecap="round" fill="none"/><path d="M791 1362 L799 1362M796 1366 L807 1364M786 1363 L791 1363M779 1364 L787 1363M780 1362 L786 1361M816 1356 L824 1355M791 1359 L796 1359M824 1353 L830 1353M801 1364 L810 1364M779 1363 L788 1362M789 1359 L796 1359M788 1362 L795 1362M789 1365 L800 1365" stroke="#3a72a5" stroke-width="6" stroke-linecap="round" fill="none"/><path d="M559.8 1334.2L573.6 1342.5" stroke="#4ce035" stroke-width="7.5" stroke-linecap="round"/><path d="M564.8 1337.5L568.6 1340.0" stroke="#e4e43a" stroke-width="6" stroke-linecap="round"/><path d="M510.7 1390.3L542.2 1409.2" stroke="#37ab2a" stroke-width="7.5" stroke-linecap="round"/><path d="M517.0 1394.1L528.3 1400.4" stroke="#d1ac20" stroke-width="7" stroke-linecap="round"/><path d="M532.1 1403.6L535.9 1405.9" stroke="#2b8420" stroke-width="7" stroke-linecap="round"/><path d="M479.3 1453.2L490.6 1459.4" stroke="#37ab2a" stroke-width="7.5" stroke-linecap="round"/><path d="M486.9 1456.9L490.6 1459.4" stroke="#2b8420" stroke-width="7" stroke-linecap="round"/><path d="M616.4 1473.3L617.6 1474.0" stroke="#4ce035" stroke-width="6" stroke-linecap="round"/><path d="M617.6 1294.0L618.4 1294.5" stroke="#4ce035" stroke-width="4" stroke-linecap="round"/><path d="M494.4 1503.4L505.7 1511.0" stroke="#4ce035" stroke-width="6" stroke-linecap="round"/><path d="M468.0 1546.2L471.8 1548.7" stroke="#4ce035" stroke-width="6" stroke-linecap="round"/><path d="M564.8 1578.9L569.8 1580.1" stroke="#4ce035" stroke-width="6" stroke-linecap="round"/><path d="M607.6 1367.7L610.1 1370.2" stroke="#4ce035" stroke-width="3" stroke-linecap="round"/><path d="M737.0 1280.9L738.3 1282.2" stroke="#4ce035" stroke-width="3" stroke-linecap="round"/><path d="M689.3 1147.7L690.8 1150.7" stroke="#4ce035" stroke-width="3" stroke-linecap="round"/><g fill="#2f88bd"><circle cx="746.6" cy="306.6" r="6"/><circle cx="770.7" cy="305.6" r="6"/><circle cx="782.5" cy="305.6" r="6"/><circle cx="679.6" cy="400.5" r="5"/><circle cx="686.0" cy="434.7" r="5"/><circle cx="650.0" cy="456.0" r="5"/><circle cx="660.0" cy="453.0" r="6"/><circle cx="668.5" cy="461.5" r="7"/><circle cx="672.0" cy="473.0" r="7"/><circle cx="673.5" cy="488.0" r="7"/><circle cx="678.5" cy="496.7" r="7"/><circle cx="700.0" cy="490.0" r="5"/><circle cx="673.5" cy="511.8" r="8"/><circle cx="663.5" cy="515.0" r="8"/><circle cx="650.0" cy="515.0" r="5"/><circle cx="683.6" cy="506.7" r="6"/><circle cx="661.8" cy="526.9" r="5"/><circle cx="759.0" cy="490.0" r="5"/><circle cx="776.4" cy="488.3" r="5"/><circle cx="749.0" cy="524.5" r="7"/><circle cx="690.3" cy="543.6" r="5"/><circle cx="695.0" cy="550.0" r="6"/><circle cx="682.0" cy="558.7" r="5"/><circle cx="1002.0" cy="502.4" r="5.5"/><circle cx="1193.0" cy="712.0" r="4.5"/><circle cx="288.3" cy="744.8" r="5.5"/><circle cx="333.6" cy="1037.9" r="5"/><circle cx="335.2" cy="1051.3" r="5.5"/><circle cx="395.6" cy="1118.4" r="4.5"/><circle cx="419.0" cy="1146.9" r="4"/><circle cx="472.7" cy="1101.6" r="5"/><circle cx="491.0" cy="1089.9" r="4"/><circle cx="482.7" cy="1156.9" r="4"/><circle cx="487.8" cy="1162.0" r="4"/><circle cx="434.0" cy="1195.5" r="4"/><circle cx="409.0" cy="1210.6" r="5"/><circle cx="412.4" cy="1217.3" r="5"/><circle cx="348.7" cy="1245.1" r="5"/><circle cx="457.6" cy="1292.7" r="5"/><circle cx="461.0" cy="1297.7" r="5"/><circle cx="521.3" cy="1304.4" r="5"/><circle cx="523.0" cy="1307.8" r="5"/><circle cx="484.4" cy="1319.5" r="4.5"/><circle cx="321.8" cy="1418.4" r="8"/><circle cx="325.2" cy="1423.4" r="8"/><circle cx="1245.0" cy="1029.5" r="5"/><circle cx="1243.4" cy="1050.0" r="4"/><circle cx="1243.4" cy="1058.0" r="4"/><circle cx="1131.0" cy="1049.0" r="3.5"/><circle cx="1174.7" cy="1069.8" r="3"/><circle cx="971.9" cy="1204.9" r="4"/><circle cx="1033.9" cy="1207.2" r="4"/><circle cx="1174.7" cy="1235.0" r="4"/><circle cx="1203.2" cy="1262.5" r="5"/><circle cx="1198.0" cy="1271.0" r="5"/><circle cx="1426.0" cy="1077.5" r="7"/><circle cx="1424.5" cy="1088.0" r="7"/><circle cx="1422.8" cy="1100.0" r="7"/><circle cx="1329.0" cy="1435.8" r="7"/><circle cx="621.9" cy="1674.6" r="7.5"/><circle cx="578.3" cy="1605.0" r="6"/><circle cx="578.3" cy="1613.0" r="6"/><circle cx="713.0" cy="1425.9" r="5"/><circle cx="740.6" cy="1453.4" r="7"/><circle cx="718.8" cy="1461.8" r="5"/><circle cx="735.5" cy="1470.0" r="6"/><circle cx="742.2" cy="1483.6" r="5"/><circle cx="735.0" cy="1460.0" r="6"/><circle cx="685.3" cy="1497.0" r="5.5"/><circle cx="695.3" cy="1492.0" r="5.5"/><circle cx="645.0" cy="1502.0" r="5.5"/><circle cx="823.0" cy="1513.0" r="6"/><circle cx="831.0" cy="1512.0" r="6"/><circle cx="826.0" cy="1547.0" r="6"/><circle cx="834.0" cy="1545.0" r="6"/><circle cx="814.3" cy="1566.7" r="6.5"/><circle cx="804.3" cy="1584.0" r="6"/><circle cx="678.6" cy="1580.8" r="7"/><circle cx="716.4" cy="1621.0" r="6.5"/><circle cx="737.2" cy="1637.8" r="6.5"/><circle cx="1030.5" cy="1397.4" r="4.5"/><circle cx="1097.6" cy="1445.2" r="5"/><circle cx="1102.6" cy="1440.2" r="5"/><circle cx="1091.0" cy="1428.0" r="5"/><circle cx="1099.0" cy="1425.0" r="5"/></g><g fill="#2caedb"><circle cx="708.7" cy="1683.0" r="8"/><circle cx="838.0" cy="1621.0" r="6.5"/><circle cx="850.0" cy="1621.0" r="6.5"/><circle cx="842.0" cy="1657.2" r="7"/><circle cx="853.0" cy="1657.2" r="7"/><circle cx="843.8" cy="1691.0" r="7.5"/><circle cx="843.8" cy="1699.0" r="7.5"/></g><g shape-rendering="crispEdges"><g fill="#357bac"><circle cx="1032.2" cy="1034.6" r="3.2"/><circle cx="1037.3" cy="1044.6" r="3.2"/><circle cx="1042.3" cy="1054.7" r="3.2"/><circle cx="1059.1" cy="1027.9" r="3.2"/><circle cx="1072.5" cy="1024.5" r="3.2"/><circle cx="1085.9" cy="1037.9" r="3.2"/><circle cx="1075.8" cy="1061.4" r="3.2"/><circle cx="1069.1" cy="1068.1" r="3.2"/><circle cx="1095.9" cy="1044.6" r="3.2"/><circle cx="1104.3" cy="1051.3" r="3.2"/><circle cx="1094.3" cy="967.5" r="3.2"/><circle cx="1062.4" cy="992.7" r="3.2"/><circle cx="1070.8" cy="1007.7" r="3.2"/><circle cx="970.2" cy="1116.7" r="3.2"/><circle cx="1049.0" cy="1135.1" r="3.2"/><circle cx="1070.8" cy="1141.8" r="3.2"/><circle cx="946.8" cy="1146.9" r="3.2"/><circle cx="1012.1" cy="1031.2" r="3.2"/><circle cx="978.6" cy="1007.7" r="3.2"/><circle cx="1022.2" cy="957.5" r="3.2"/><circle cx="707.1" cy="1210.6" r="3.2"/><circle cx="814.3" cy="1219.0" r="3.2"/><circle cx="811.0" cy="1227.3" r="3.2"/><circle cx="980.3" cy="1259.2" r="3.2"/></g></g><g fill="#2f88bd"><circle cx="973.6" cy="1304.4" r="5.5"/><circle cx="992.0" cy="1316.2" r="5.5"/><circle cx="988.7" cy="1322.9" r="5.5"/><circle cx="997.0" cy="1312.8" r="5.5"/><circle cx="1013.8" cy="1312.8" r="5.5"/><circle cx="1008.8" cy="1341.3" r="5.5"/><circle cx="1005.4" cy="1338.0" r="5.5"/><circle cx="1030.6" cy="1349.7" r="5.5"/><circle cx="1035.6" cy="1359.8" r="5.5"/><circle cx="1015.5" cy="1369.8" r="5.5"/><circle cx="1040.6" cy="1369.8" r="5.5"/><circle cx="1047.3" cy="1376.5" r="5.5"/><circle cx="1055.7" cy="1383.2" r="5.5"/><circle cx="1062.4" cy="1373.2" r="5.5"/><circle cx="1030.6" cy="1396.6" r="5.5"/><circle cx="1050.7" cy="1346.4" r="5.5"/><circle cx="1057.4" cy="1353.1" r="5.5"/><circle cx="1092.6" cy="1334.6" r="5.5"/><circle cx="1090.9" cy="1343.0" r="5.5"/><circle cx="1090.9" cy="1356.4" r="5.5"/><circle cx="1097.6" cy="1353.1" r="5.5"/><circle cx="1102.7" cy="1369.8" r="5.5"/><circle cx="1109.4" cy="1376.5" r="5.5"/><circle cx="1116.1" cy="1364.8" r="5.5"/><circle cx="1122.8" cy="1373.2" r="5.5"/><circle cx="1119.4" cy="1386.6" r="5.5"/><circle cx="1122.8" cy="1359.8" r="5.5"/></g><g fill="#357bac"><circle cx="780.8" cy="1359.8" r="4.2"/><circle cx="787.5" cy="1360.4" r="4.2"/><circle cx="795.9" cy="1360.4" r="4.2"/><circle cx="804.3" cy="1359.1" r="4.2"/><circle cx="812.7" cy="1357.7" r="4.2"/><circle cx="821.0" cy="1356.4" r="4.2"/><circle cx="827.7" cy="1355.7" r="4.2"/><circle cx="787.5" cy="1314.5" r="4.2"/><circle cx="821.0" cy="1321.2" r="4.2"/><circle cx="797.6" cy="1331.3" r="4.2"/><circle cx="800.9" cy="1331.3" r="4.2"/><circle cx="821.0" cy="1332.9" r="4.2"/><circle cx="817.7" cy="1332.9" r="4.2"/><circle cx="757.3" cy="1322.9" r="4.2"/><circle cx="750.6" cy="1341.3" r="4.2"/><circle cx="760.7" cy="1346.4" r="4.2"/><circle cx="765.7" cy="1359.8" r="4.2"/><circle cx="705.4" cy="1344.7" r="4.2"/><circle cx="720.5" cy="1339.6" r="4.2"/><circle cx="732.2" cy="1322.9" r="4.2"/><circle cx="655.1" cy="1381.6" r="4.2"/><circle cx="663.5" cy="1384.9" r="4.2"/><circle cx="712.1" cy="1423.5" r="4.2"/><circle cx="717.1" cy="1423.5" r="4.2"/><circle cx="740.6" cy="1453.6" r="4.2"/><circle cx="941.7" cy="1294.4" r="4.2"/><circle cx="750.6" cy="1272.6" r="4.2"/><circle cx="774.1" cy="1289.4" r="4.2"/><circle cx="743.9" cy="1219.0" r="4.2"/></g><path d="M920 691L948 703M848 669L863 673M828 666L836 668M772 674L788 673M709 674L722 673M855 688L875 695M898 683L907 686M975 720L982 728M990 721L991 721M957 709L957 709M886 701L893 705M715 639L716 639M647 693L663 686M643 700L653 696M657 723L665 733M724 689L724 690M1041 817L1042 818M860 829L861 830M922 830L922 831" stroke="#357bac" stroke-width="5" stroke-linecap="round" fill="none"/><path d="M618 578l2 2M605 620l2 3M662 690l-8 8M646 700l-6 5" stroke="#357bac" stroke-width="5" stroke-linecap="round"/><path d="M573.5 946v8" stroke="#25a3d3" stroke-width="4"/><path d="M573.5 954v12" stroke="#d1ac20" stroke-width="4"/><path d="M573.5 961v6" stroke="#4ce035" stroke-width="4"/><path d="M573.5 971v8" stroke="#2f88bd" stroke-width="4"/>
<g fill="none" stroke="#808080" stroke-width="3" stroke-linejoin="round" stroke-linecap="round">
<path d="M16.8 235.2 33.5 221.8 M192.8 221.8 246.4 257.0 M317.8 220.1 317.8 230.8 246.4 231.8 246.4 257.0 248.1 362.6 148.5 364.9 151.5 501.7 M248.1 296.2 366.4 296.2 366.4 287.8 375.5 292.2 385.5 287.2 395.6 291.2 412.4 296.6 424.1 302.3 425.1 317.3 430.8 329.1 445.9 339.1 462.7 345.8 479.4 347.5 491.1 352.5 M135.8 568.8 135.8 504.1 151.5 502.7 203.5 501.7 203.5 493.3 260.8 492.7 261.5 497.0 280.9 497.0 282.3 555.4 331.9 556.7 355.4 554.7 370.5 567.1 M226.3 647.6 163.3 711.3 157.6 706.2 145.8 709.6 144.8 738.1 80.5 739.8 80.5 749.8 M16.8 718.0 69.4 716.3 70.4 722.3 84.5 722.3 84.5 738.8 M78.8 840.0 124.7 792.7 80.5 749.8 40.2 790.0 40.2 780.0 25.1 779.3 24.1 795.1 16.8 795.1 M145.8 738.1 146.5 813.5 152.5 821.9 160.9 824.2 172.7 821.9 177.7 830.3 187.7 840.0 M375.5 625.8 388.9 639.2 378.8 650.9 M1469.8 495.0 1484.9 491.7 1498.3 488.3 1511.7 496.7 1526.8 488.3 1536.8 493.3 1540.2 484.3 1572.0 490.0 M1451.3 593.9 1464.7 605.7 1474.8 614.0 1484.9 602.3 1498.3 600.6 1511.7 607.3 1521.7 617.4 1541.9 619.1 1555.3 612.4 1572.0 612.4 M1421.2 667.7 1463.1 769.9 1476.5 763.2 1508.3 840.0 M1572.0 672.7 1545.2 686.1 1535.1 692.8 1526.8 702.9 1499.9 726.3 1505.0 733.1 1491.6 744.8 1488.2 753.2 1463.1 768.3 1451.3 773.3 1446.3 760.5 1434.6 764.9 1436.2 781.7 1441.3 796.8 1432.9 800.1 1421.2 786.7 1404.4 780.0 1392.7 776.6 1394.3 790.0 1387.6 803.5 1367.5 815.2 1355.8 801.8 1327.3 800.1 1312.2 800.1 1302.1 783.3 1293.8 769.9 M1327.3 800.1 1327.3 840.0 M1478.2 763.2 1491.6 800.1 1498.3 813.5 1511.7 816.9 1516.7 840.0 M16.8 903.8 33.5 880.3 46.9 863.6 50.3 868.6 82.1 838.4 100.6 820.0 M82.1 838.4 103.9 861.9 114.0 880.3 125.7 882.0 144.2 898.8 176.0 929.0 171.0 944.0 M16.8 939.0 70.4 937.3 82.1 925.6 100.6 941.4 144.2 898.8 M147.5 820.0 160.9 825.0 174.3 825.0 187.7 840.1 201.2 850.2 211.2 860.2 209.5 873.6 216.2 880.3 206.2 892.1 204.5 903.8 M331.9 880.3 348.7 902.1 340.3 903.8 345.3 917.2 295.0 920.6 295.0 937.3 278.3 950.7 264.9 957.5 246.4 955.8 234.7 987.6 214.6 997.7 194.4 1007.7 M234.7 917.2 234.7 940.7 246.4 942.4 246.4 955.8 M345.3 917.2 355.4 927.3 378.8 930.6 399.0 917.2 445.9 916.6 479.4 927.3 492.8 945.7 509.6 952.4 536.4 946.7 539.8 972.5 549.8 975.9 549.8 980.9 569.9 982.6 571.6 999.4 580.0 999.4 593.4 982.6 610.2 972.5 620.2 950.7 626.9 923.9 M479.4 927.3 496.2 917.2 518.0 913.9 519.6 898.8 502.9 897.8 M492.8 945.7 476.1 967.5 462.7 975.9 455.9 987.6 425.8 1002.7 412.4 1009.4 392.2 1017.8 372.1 1034.6 350.3 1051.3 368.8 1064.7 390.6 1063.1 410.7 1056.4 435.8 1059.7 415.7 1076.5 419.1 1088.2 430.8 1086.5 435.8 1103.3 444.2 1105.0 445.9 1108.3 461.0 1101.6 467.0 1123.4 M234.7 987.6 246.4 987.0 256.5 997.7 258.1 1024.5 274.9 1022.8 276.6 1027.9 288.3 1029.5 290.0 1037.9 298.4 1039.6 301.7 1048.0 323.5 1049.6 321.8 1071.4 342.0 1071.4 348.7 1105.0 368.8 1098.3 378.8 1086.5 393.9 1084.9 397.3 1071.4 390.6 1063.1 M640.0 977.6 620.2 994.3 596.8 1014.4 569.9 1034.6 549.8 1054.7 533.1 1081.5 509.6 1111.7 489.5 1118.4 467.0 1123.4 442.5 1130.1 422.4 1148.5 388.9 1168.7 347.0 1192.1 321.8 1213.9 313.5 1225.7 301.7 1239.1 278.3 1255.8 264.9 1272.6 241.4 1296.1 229.6 1319.5 194.4 1338.0 177.7 1356.4 160.9 1386.6 147.5 1410.0 M301.7 1111.7 342.0 1162.0 331.9 1170.3 347.0 1192.1 M348.7 1105.0 335.3 1108.3 315.1 1118.4 301.7 1111.7 278.3 1115.0 251.4 1128.4 228.0 1151.9 197.8 1165.3 187.7 1182.1 160.9 1187.1 134.1 1195.5 135.8 1213.9 155.9 1227.3 181.0 1213.9 196.1 1207.2 214.6 1245.8 216.2 1255.8 231.3 1265.9 228.0 1274.3 241.4 1296.1 M509.6 1111.7 556.5 1165.3 543.1 1175.4 563.2 1205.5 549.8 1229.0 553.2 1252.5 546.5 1259.2 551.5 1282.7 538.1 1291.0 549.8 1302.8 561.6 1322.9 M313.5 1225.7 350.3 1275.9 321.8 1292.7 295.0 1316.2 290.0 1329.6 296.7 1343.0 279.9 1363.1 281.6 1383.2 295.0 1391.6 316.8 1374.8 352.0 1406.7 M640.0 1317.9 596.8 1319.5 561.6 1322.9 533.1 1336.3 502.9 1349.7 466.0 1359.8 442.5 1364.8 412.4 1363.1 385.5 1376.5 358.7 1386.6 352.0 1406.7 331.9 1430.2 301.7 1436.9 288.3 1453.6 281.6 1460.0 M553.2 1252.5 586.7 1232.4 613.5 1208.9 620.2 1188.8 626.9 1155.3 640.0 1135.1 M560.0 1046.6 575.1 1026.5 595.2 1014.0 622.9 991.3 643.0 971.2 660.6 958.6 676.9 943.6 675.7 939.8 668.1 938.5 M627.9 923.4 624.1 936.0 620.3 956.1 610.3 973.7 597.7 983.8 587.7 988.8 578.9 998.9 568.8 996.4 567.5 983.8 560.0 982.5 M761.2 973.7 753.6 981.3 743.6 985.0 731.0 993.8 720.9 1001.4 710.9 1014.0 700.8 1026.5 690.7 1036.6 688.2 1051.7 678.2 1064.2 660.6 1079.3 645.5 1089.4 635.4 1102.0 627.9 1122.1 620.3 1142.2 622.9 1157.3 626.6 1167.3 620.3 1187.4 614.1 1207.6 605.3 1225.2 597.7 1240.0 M860.5 1066.8 856.7 1084.4 846.6 1104.5 834.1 1122.1 819.0 1137.2 808.9 1154.8 801.4 1172.4 791.3 1187.4 782.5 1200.0 766.2 1212.6 751.1 1227.7 738.5 1240.0 M860.5 1066.8 884.4 1084.4 908.2 1098.9 920.8 1078.1 946.0 1098.2 949.7 1086.9 959.8 1079.3 972.4 1074.3 972.4 1061.7 978.6 1054.2 981.2 1041.6 987.4 1045.4 1005.0 1051.7 1012.6 1061.7 1025.2 1064.2 1040.0 1070.5 M784.2 1198.8 750.6 1232.4 717.1 1262.5 683.6 1289.4 660.1 1306.1 640.0 1314.5 M683.6 1289.4 693.6 1306.1 698.7 1329.6 693.6 1356.4 695.3 1389.9 690.3 1416.8 673.5 1440.2 653.4 1460.0 M784.2 1198.8 814.3 1208.9 837.8 1210.6 841.2 1207.2 854.6 1208.9 856.2 1219.0 874.7 1222.3 888.1 1235.7 894.8 1255.8 886.4 1265.9 904.9 1264.2 918.3 1269.2 931.7 1282.7 936.7 1299.4 938.4 1329.6 911.6 1353.1 921.6 1359.8 925.0 1373.2 945.1 1386.6 956.8 1384.9 M886.4 1265.9 881.4 1282.7 871.3 1289.4 871.3 1302.8 854.6 1309.5 846.2 1322.9 849.5 1343.0 854.6 1353.1 841.2 1363.1 834.4 1373.2 837.8 1389.9 836.1 1410.0 841.2 1423.5 847.9 1440.2 854.6 1460.0 M980.3 1039.6 982.0 1044.6 1005.4 1051.3 1008.8 1059.7 1033.9 1068.1 1045.7 1074.8 1055.7 1084.9 1075.8 1083.2 1089.2 1105.0 1084.2 1126.8 1102.7 1108.3 M1107.7 932.3 1112.7 947.4 1119.4 954.1 1111.0 974.2 1122.8 979.2 1149.6 980.9 1158.0 992.7 1169.7 1002.7 1168.0 1016.1 1203.2 1021.2 1206.6 1037.9 1253.5 1046.3 1266.9 1029.5 1280.0 1032.9 M1158.0 992.7 1179.8 965.8 1203.2 962.5 1199.9 955.8 1270.3 920.6 1272.0 895.4 1280.0 893.8 M1270.3 920.6 1250.2 935.7 1280.0 952.4 M1206.6 1037.9 1193.2 1039.6 1161.3 1099.9 1179.8 1105.0 1186.5 1128.4 1181.4 1151.9 1169.7 1162.0 M1106.0 1034.6 1119.4 1027.9 1122.8 1014.4 1132.8 1022.8 1149.6 1032.9 1152.9 1019.5 1168.0 1016.1 M1253.5 1046.3 1258.5 1088.2 1270.3 1093.2 M1204.9 883.7 1206.6 900.5 1223.3 907.2 1240.1 907.2 1253.5 913.9 1270.3 920.6 M1277.0 897.1 1297.1 883.7 1313.9 878.7 1317.2 856.9 1318.9 820.0 M1337.3 851.8 1377.6 908.8 1411.1 913.9 1414.5 898.8 1407.7 870.3 1448.0 855.2 1444.6 838.4 1478.2 840.1 1484.9 875.3 1505.0 870.3 1555.3 861.9 1556.9 873.6 1565.3 893.8 1567.0 908.8 M1501.6 870.3 1505.0 850.2 1516.7 820.0 M1377.6 908.8 1387.6 930.6 1394.3 960.8 1397.7 980.9 1402.7 991.0 M1277.0 954.1 1287.1 957.5 1277.0 970.9 M1277.0 980.9 1297.1 987.6 1303.8 994.3 1305.5 1017.8 1297.1 1019.5 1297.1 1031.2 1277.0 1032.9 M1303.8 994.3 1334.0 991.0 1347.4 1011.1 1355.8 1037.9 1364.2 1044.6 M640.0 1542.2 707.1 1545.6 717.1 1548.9 737.2 1538.9 762.4 1529.8 787.5 1530.5 790.9 1560.7 789.2 1590.8 787.5 1617.7 794.2 1627.7 M857.2 1450.0 864.6 1466.8 873.0 1483.6 868.0 1497.0 M935.0 1295.8 938.4 1329.3 911.6 1356.2 923.3 1361.2 925.0 1374.6 945.1 1386.3 958.5 1384.7 M105.6 1391.4 132.4 1396.4 132.4 1404.8 147.5 1408.1 174.3 1411.5 201.2 1428.2 234.7 1456.7 264.9 1480.2 285.0 1483.6 291.7 1497.0 308.4 1513.7 321.8 1533.9 342.0 1547.3 358.7 1560.7 372.1 1567.4 382.2 1587.5 395.6 1604.3 415.7 1617.7 432.5 1624.4 449.2 1631.1 476.1 1647.8 486.1 1671.3 502.9 1694.8 523.0 1704.8 543.1 1701.5 566.6 1696.4 M640.0 1471.8 620.2 1488.6 603.5 1505.4 590.0 1523.8 583.3 1537.2 576.6 1560.7 573.3 1574.1 586.7 1587.5 590.0 1611.0 596.8 1616.0 593.4 1641.1 590.0 1657.9 583.3 1671.3 566.6 1696.4 563.2 1711.5 543.1 1724.9 539.8 1745.1 549.8 1745.1 544.8 1760.1 M285.0 1456.7 274.9 1473.5 264.9 1480.2 248.1 1493.6 234.7 1510.4 221.3 1533.9 207.9 1554.0 194.4 1570.7 187.7 1590.8 174.3 1624.4 157.6 1651.2 140.8 1664.6 127.4 1681.4 M78.8 1500.3 87.2 1490.3 100.6 1486.9 110.6 1493.6 140.8 1488.6 160.9 1491.9 187.7 1497.0 209.5 1505.4 197.8 1523.8 186.1 1540.6 191.1 1550.6 209.5 1552.3 M174.3 1626.0 191.1 1629.4 186.1 1654.5 M425.8 1760.1 442.5 1745.1 469.4 1743.4 482.8 1760.1 M20.1 1753.4 40.2 1745.1 67.1 1738.4 100.6 1731.7 M596.8 1523.8 613.5 1537.2 640.0 1540.6"/>
</g>
<g fill="none" stroke="#d2d2d2" stroke-width="3" stroke-linejoin="round" stroke-linecap="round">
<path d="M1499.9 220.8 1491.6 233.5 1486.5 253.6 1491.6 273.8 1493.2 290.5 1489.9 300.6"/>
</g>
<g fill="none" stroke="#cdcdcd" stroke-width="3.4" stroke-linejoin="round" stroke-linecap="round" transform="translate(1.8 2.2)">
<path d="M543.1 222.8C546.7 223.9 550.3 223.5 556.5 226.8C562.8 230.1 562.6 228.9 566.6 235.2C570.6 241.5 570.9 241.8 571.6 250.3C572.3 258.8 570.2 259.0 569.3 267.1C568.4 275.1 570.8 274.9 568.3 280.5C565.8 286.0 563.0 283.4 559.9 287.8C556.7 292.3 559.2 292.9 556.5 297.2C553.8 301.5 553.8 303.5 549.8 303.9C545.8 304.4 545.0 298.0 541.4 298.9C537.9 299.8 538.6 302.4 536.4 307.3C534.2 312.2 536.6 315.1 533.1 317.3C529.5 319.6 528.4 313.4 523.0 315.7C517.6 317.9 517.0 320.8 512.9 325.7C508.9 330.6 506.6 331.4 507.9 334.1C509.3 336.8 516.6 333.1 518.0 335.8C519.3 338.5 517.4 339.7 512.9 344.2C508.5 348.6 507.0 349.9 501.2 352.5C495.4 355.2 493.4 351.1 491.1 354.2C488.9 357.3 490.6 358.9 492.8 364.3C495.1 369.6 499.5 369.0 499.5 374.3C499.5 379.7 497.3 379.9 492.8 384.4C488.4 388.9 486.8 387.5 482.8 391.1C478.7 394.7 477.3 394.2 477.7 397.8C478.2 401.4 483.1 400.0 484.4 404.5C485.8 409.0 485.9 410.5 482.8 414.6C479.6 418.6 476.3 416.9 472.7 419.6C469.1 422.3 467.6 421.5 469.4 424.6C471.1 427.7 476.3 426.9 479.4 431.3C482.5 435.8 483.8 437.8 481.1 441.4C478.4 445.0 475.2 442.1 469.4 444.7C463.5 447.4 464.7 447.4 459.3 451.4C453.9 455.5 456.4 455.4 449.2 459.8C442.1 464.3 441.4 464.2 432.5 468.2C423.5 472.2 422.9 470.4 415.7 474.9C408.6 479.4 409.7 478.7 405.7 485.0C401.6 491.2 402.9 493.0 400.6 498.4C398.4 503.7 395.9 501.1 397.3 505.1C398.6 509.1 404.8 509.0 405.7 513.5C406.6 517.9 405.1 518.3 400.6 521.8C396.2 525.4 392.5 522.4 388.9 526.9C385.3 531.3 387.2 532.8 387.2 538.6C387.2 544.4 390.2 542.9 388.9 548.7C387.6 554.5 386.7 555.5 382.2 560.4C377.7 565.3 375.3 562.6 372.1 567.1C369.0 571.6 369.6 572.2 370.5 577.2C371.3 582.1 372.4 581.5 375.5 585.5C378.6 589.6 384.0 588.7 382.2 592.2C380.4 595.8 371.0 594.9 368.8 599.0C366.5 603.0 373.4 602.0 373.8 607.3C374.3 612.7 370.0 613.3 370.5 619.1C370.9 624.9 373.2 623.8 375.5 629.1C377.7 634.5 378.4 633.4 378.8 639.2C379.3 645.0 376.3 645.6 377.2 650.9C378.1 656.3 384.4 657.5 382.2 659.3C380.0 661.1 374.6 657.6 368.8 657.6C363.0 657.6 363.1 656.2 360.4 659.3C357.7 662.4 357.8 663.1 358.7 669.4C359.6 675.6 362.9 675.6 363.8 682.8C364.6 689.9 365.2 692.6 362.1 696.2C358.9 699.8 355.6 693.5 352.0 696.2C348.4 698.9 351.3 701.8 348.7 706.2C346.0 710.7 346.0 708.9 342.0 712.9C337.9 717.0 334.0 716.9 333.6 721.3C333.1 725.8 338.9 725.7 340.3 729.7C341.6 733.7 342.2 734.2 338.6 736.4C335.0 738.6 331.3 738.1 326.9 738.1C322.4 738.1 324.1 734.6 321.8 736.4C319.6 738.2 323.9 740.3 318.5 744.8C313.1 749.3 308.9 749.6 301.7 753.2C294.6 756.7 293.5 753.7 291.7 758.2C289.9 762.7 293.7 764.1 295.0 769.9C296.4 775.7 298.5 776.4 296.7 780.0C294.9 783.6 292.3 780.7 288.3 783.3C284.3 786.0 282.1 785.6 281.6 790.0C281.2 794.5 287.5 797.4 286.6 800.1C285.7 802.8 283.2 801.0 278.3 800.1C273.3 799.2 270.4 794.1 268.2 796.8C266.0 799.4 271.7 804.8 269.9 810.2C268.1 815.5 267.3 814.2 261.5 816.9C255.7 819.5 253.9 817.1 248.1 820.2C242.3 823.3 242.8 823.3 239.7 828.6C236.6 833.9 237.7 837.8 236.4 840.0C235.0 842.2 233.3 834.5 234.7 836.8C236.0 839.0 236.5 843.1 241.4 848.5C246.3 853.9 248.6 852.0 253.1 856.9C257.6 861.8 257.7 860.7 258.1 866.9C258.6 873.2 257.0 873.6 254.8 880.3C252.6 887.1 256.0 886.3 249.8 892.1C243.5 897.9 240.7 896.8 231.3 902.1C221.9 907.5 223.5 906.4 214.6 912.2C205.6 918.0 205.8 917.7 197.8 923.9C189.8 930.2 190.6 929.4 184.4 935.7C178.1 941.9 177.5 939.8 174.3 947.4C171.2 955.0 172.2 956.6 172.7 964.2C173.1 971.8 176.5 969.6 176.0 975.9C175.6 982.2 169.2 981.8 171.0 987.6C172.8 993.4 176.9 991.4 182.7 997.7C188.5 1003.9 189.6 1002.2 192.8 1011.1C195.9 1020.0 194.0 1020.5 194.4 1031.2C194.9 1041.9 196.2 1041.5 194.4 1051.3C192.7 1061.2 190.4 1059.1 187.7 1068.1C185.1 1077.0 184.8 1075.9 184.4 1084.9C183.9 1093.8 186.5 1093.6 186.1 1101.6C185.6 1109.7 184.5 1107.9 182.7 1115.0C180.9 1122.2 179.8 1121.3 179.4 1128.4C178.9 1135.6 183.7 1134.7 181.0 1141.8C178.4 1149.0 175.6 1147.7 169.3 1155.3C163.0 1162.9 165.2 1165.9 157.6 1170.3C150.0 1174.8 150.2 1172.5 140.8 1172.0C131.4 1171.6 129.1 1167.8 122.4 1168.7C115.7 1169.6 117.9 1170.0 115.7 1175.4C113.4 1180.7 116.2 1181.6 114.0 1188.8C111.8 1195.9 108.6 1194.1 107.3 1202.2C105.9 1210.2 107.6 1210.0 109.0 1219.0C110.3 1227.9 110.1 1227.7 112.3 1235.7C114.5 1243.8 116.4 1240.2 117.3 1249.1C118.2 1258.1 114.3 1261.3 115.7 1269.2C117.0 1277.2 119.2 1272.9 122.4 1279.1C125.5 1285.3 128.3 1285.3 127.4 1292.5C126.5 1299.6 123.0 1296.9 119.0 1305.9C115.0 1314.8 112.8 1315.3 112.3 1326.0C111.9 1336.7 118.7 1335.4 117.3 1346.1C116.0 1356.8 112.6 1355.5 107.3 1366.2C101.9 1377.0 100.4 1374.7 97.2 1386.3C94.1 1398.0 97.3 1398.2 95.5 1409.8C93.8 1421.4 94.1 1419.2 90.5 1429.9C86.9 1440.7 83.5 1439.3 82.1 1450.0C80.8 1460.8 85.9 1460.3 85.5 1470.2C85.0 1480.0 86.3 1478.9 80.5 1486.9C74.6 1495.0 73.5 1495.4 63.7 1500.3C53.9 1505.2 51.6 1500.9 43.6 1505.4C35.5 1509.8 37.5 1509.5 33.5 1517.1C29.5 1524.7 32.1 1524.9 28.5 1533.9C24.9 1542.8 22.4 1546.1 20.1 1550.6 M16.8 555.4C20.8 554.5 26.5 551.1 31.8 552.0C37.2 552.9 32.0 556.0 36.9 558.7C41.8 561.4 43.1 562.5 50.3 562.1C57.4 561.6 57.9 561.1 63.7 557.0C69.5 553.0 67.2 550.1 72.1 547.0C77.0 543.9 77.2 543.5 82.1 545.3C87.1 547.1 85.6 549.7 90.5 553.7C95.4 557.7 95.7 556.8 100.6 560.4C105.5 564.0 103.6 564.9 109.0 567.1C114.3 569.3 114.4 567.9 120.7 568.8C126.9 569.7 126.6 567.8 132.4 570.5C138.2 573.1 138.0 573.5 142.5 578.8C147.0 584.2 145.2 585.7 149.2 590.6C153.2 595.5 151.8 594.1 157.6 597.3C163.4 600.4 166.5 597.8 171.0 602.3C175.4 606.8 170.8 609.1 174.3 614.0C177.9 619.0 179.0 619.4 184.4 620.7C189.8 622.1 190.0 616.8 194.4 619.1C198.9 621.3 198.0 622.9 201.2 629.1C204.3 635.4 202.6 638.1 206.2 642.5C209.8 647.0 209.6 645.9 214.6 645.9C219.5 645.9 221.0 640.3 224.6 642.5C228.2 644.8 225.3 648.5 228.0 654.3C230.7 660.1 230.2 660.8 234.7 664.3C239.1 667.9 239.4 664.6 244.7 667.7C250.1 670.8 249.9 673.8 254.8 676.1C259.7 678.3 260.5 672.9 263.2 676.1C265.9 679.2 262.2 683.3 264.9 687.8C267.5 692.3 268.8 689.7 273.2 692.8C277.7 696.0 277.6 696.0 281.6 699.5C285.6 703.1 285.2 700.9 288.3 706.2C291.4 711.6 289.8 715.6 293.3 719.6C296.9 723.7 296.8 719.5 301.7 721.3C306.6 723.1 306.4 722.8 311.8 726.3C317.2 729.9 319.2 732.5 321.8 734.7 M249.8 892.1C254.7 889.4 258.8 886.9 268.2 882.0C277.6 877.1 275.1 875.9 285.0 873.6C294.8 871.4 295.2 872.7 305.1 873.6C314.9 874.5 310.2 878.3 321.8 877.0C333.5 875.7 336.1 871.3 348.7 868.6C361.2 865.9 358.1 866.0 368.8 866.9C379.5 867.8 377.3 871.1 388.9 872.0C400.5 872.9 400.7 871.6 412.4 870.3C424.0 868.9 422.6 866.9 432.5 866.9C442.3 866.9 440.3 868.1 449.2 870.3C458.2 872.5 457.1 873.1 466.0 875.3C474.9 877.6 474.7 874.6 482.8 878.7C490.8 882.7 489.0 886.4 496.2 890.4C503.3 894.4 501.5 893.3 509.6 893.8C517.6 894.2 518.3 890.7 526.3 892.1C534.4 893.4 532.6 894.3 539.8 898.8C546.9 903.3 545.1 904.4 553.2 908.8C561.2 913.3 564.8 914.3 569.9 915.5C575.1 916.8 568.5 911.9 572.6 913.4C576.6 914.8 578.4 917.9 585.1 920.9C591.8 923.9 591.0 924.4 597.7 924.7C604.4 925.0 602.9 923.9 610.3 922.2C617.7 920.5 616.7 919.7 625.4 918.4C634.1 917.1 634.9 915.8 643.0 917.2C651.0 918.5 648.8 919.1 655.5 923.4C662.3 927.8 661.4 929.1 668.1 933.5C674.8 937.9 674.0 936.8 680.7 939.8C687.4 942.8 685.9 943.1 693.3 944.8C700.6 946.5 701.0 946.7 708.3 946.1C715.7 945.4 713.5 944.6 720.9 942.3C728.3 939.9 728.6 940.3 736.0 937.3C743.4 934.2 742.5 934.3 748.6 931.0C754.6 927.6 753.3 927.4 758.6 924.7C764.0 922.0 763.3 921.9 768.7 920.9C774.1 919.9 774.1 919.6 778.8 920.9C783.4 922.3 781.9 922.6 786.3 926.0C790.7 929.3 790.4 929.8 795.1 933.5C799.8 937.2 798.9 936.4 803.9 939.8C808.9 943.1 808.6 943.4 814.0 946.1C819.3 948.7 819.3 949.5 824.0 949.8C828.7 950.2 829.9 950.7 831.6 947.3C833.2 944.0 829.6 941.3 830.3 937.3C831.0 933.2 830.4 933.9 834.1 932.2C837.8 930.6 838.8 931.7 844.1 931.0C849.5 930.3 848.5 931.4 854.2 929.7C859.9 928.0 860.1 925.0 865.5 924.7C870.9 924.4 869.9 925.4 874.3 928.5C878.7 931.5 877.8 931.3 881.8 936.0C885.9 940.7 885.7 940.0 889.4 946.1C893.1 952.1 892.7 952.6 895.7 958.6C898.7 964.7 897.0 964.0 900.7 968.7C904.4 973.4 904.5 972.6 909.5 976.2C914.5 979.9 913.5 980.5 919.6 982.5C925.6 984.5 926.4 984.8 932.1 983.8C937.8 982.8 937.6 982.8 940.9 978.8C944.3 974.7 944.0 973.4 944.7 968.7C945.4 964.0 945.5 963.2 943.4 961.2C941.4 959.1 932.1 966.2 937.2 961.2C942.2 956.1 955.9 952.4 962.3 942.3C968.7 932.2 960.4 931.1 961.0 923.4C961.7 915.7 960.5 917.4 964.8 913.4C969.2 909.4 970.7 911.7 977.4 908.3C984.1 905.0 983.9 905.5 990.0 900.8C996.0 896.1 994.0 895.1 1000.0 890.7C1006.1 886.4 1005.2 886.5 1012.6 884.5C1020.0 882.5 1025.1 883.9 1027.7 883.2C1030.2 882.6 1019.6 881.9 1022.2 882.0C1024.7 882.2 1030.6 881.0 1037.3 883.7C1044.0 886.4 1040.6 889.0 1047.3 892.1C1054.0 895.2 1054.8 895.0 1062.4 895.4C1070.0 895.9 1069.6 892.0 1075.8 893.8C1082.1 895.5 1080.1 898.1 1085.9 902.1C1091.7 906.2 1091.8 904.8 1097.6 908.8C1103.4 912.9 1101.9 913.2 1107.7 917.2C1113.5 921.2 1112.7 923.0 1119.4 923.9C1126.1 924.8 1126.6 924.2 1132.8 920.6C1139.1 917.0 1137.5 915.0 1142.9 910.5C1148.2 906.0 1146.7 906.9 1152.9 903.8C1159.2 900.7 1160.1 902.8 1166.3 898.8C1172.6 894.8 1171.9 895.0 1176.4 888.7C1180.9 882.5 1181.8 882.9 1183.1 875.3C1184.5 867.7 1184.1 867.8 1181.4 860.2C1178.8 852.6 1176.2 854.0 1173.1 846.8C1169.9 839.7 1168.8 839.2 1169.7 833.4C1170.6 827.6 1172.8 828.6 1176.4 825.0C1180.0 821.5 1179.5 821.3 1183.1 820.0C1186.7 818.7 1183.6 821.1 1189.8 820.2C1196.1 819.4 1198.1 821.3 1206.6 816.9C1215.1 812.4 1216.7 810.6 1221.7 803.5C1226.6 796.3 1220.1 797.2 1225.0 790.0C1229.9 782.9 1230.7 782.0 1240.1 776.6C1249.5 771.3 1249.6 772.6 1260.2 769.9C1270.9 767.2 1273.7 769.3 1280.0 766.6C1286.3 763.9 1279.6 759.4 1283.7 759.9C1287.8 760.3 1288.7 766.9 1295.4 768.3C1302.1 769.6 1303.0 768.9 1308.8 764.9C1314.7 760.9 1315.4 759.9 1317.2 753.2C1319.0 746.5 1312.0 747.4 1315.6 739.8C1319.1 732.2 1321.7 732.3 1330.6 724.7C1339.6 717.1 1339.2 716.2 1349.1 711.3C1358.9 706.3 1360.4 711.2 1367.5 706.2C1374.7 701.3 1373.2 700.4 1375.9 692.8C1378.6 685.2 1374.4 684.4 1377.6 677.7C1380.7 671.0 1380.5 671.3 1387.6 667.7C1394.8 664.1 1397.2 664.3 1404.4 664.3C1411.5 664.3 1409.1 669.9 1414.5 667.7C1419.8 665.4 1421.4 662.7 1424.5 655.9C1427.6 649.2 1427.1 649.7 1426.2 642.5C1425.3 635.4 1420.3 636.7 1421.2 629.1C1422.1 621.5 1424.2 621.6 1429.5 614.0C1434.9 606.4 1435.0 608.2 1441.3 600.6C1447.5 593.0 1449.0 594.0 1453.0 585.5C1457.0 577.0 1453.2 577.3 1456.4 568.8C1459.5 560.3 1461.2 560.8 1464.7 553.7C1468.3 546.5 1470.7 547.8 1469.8 542.0C1468.9 536.1 1461.8 537.3 1461.4 531.9C1460.9 526.5 1463.6 526.3 1468.1 521.8C1472.6 517.4 1476.4 519.2 1478.2 515.1C1479.9 511.1 1478.4 512.1 1474.8 506.8C1471.2 501.4 1467.0 500.8 1464.7 495.0C1462.5 489.2 1464.6 492.1 1466.4 485.0C1468.2 477.8 1471.4 476.7 1471.4 468.2C1471.4 459.7 1468.7 460.7 1466.4 453.1C1464.2 445.5 1461.3 445.1 1463.1 439.7C1464.9 434.3 1467.8 435.7 1473.1 433.0C1478.5 430.3 1480.9 434.6 1483.2 429.6C1485.4 424.7 1480.6 423.1 1481.5 414.6C1482.4 406.1 1483.9 406.3 1486.5 397.8C1489.2 389.3 1491.6 389.9 1491.6 382.7C1491.6 375.6 1489.7 377.7 1486.5 371.0C1483.4 364.3 1482.5 364.7 1479.8 357.6C1477.1 350.4 1478.7 350.9 1476.5 344.2C1474.2 337.5 1471.0 337.8 1471.4 332.4C1471.9 327.1 1472.8 326.3 1478.2 324.0C1483.5 321.8 1488.0 326.7 1491.6 324.0C1495.1 321.4 1489.8 318.5 1491.6 314.0C1493.4 309.5 1493.8 310.0 1498.3 307.3C1502.7 304.6 1503.0 302.6 1508.3 303.9C1513.7 305.3 1513.0 309.6 1518.4 312.3C1523.7 315.0 1524.0 310.0 1528.4 314.0C1532.9 318.0 1531.6 321.6 1535.1 327.4C1538.7 333.2 1539.2 338.0 1541.9 335.8C1544.5 333.5 1542.1 325.7 1545.2 319.0C1548.3 312.3 1549.1 314.7 1553.6 310.6C1558.1 306.6 1557.0 304.8 1562.0 303.9C1566.9 303.0 1569.3 306.4 1572.0 307.3 M748.6 933.5C750.6 936.8 752.8 939.4 756.1 946.1C759.5 952.8 757.8 952.6 761.2 958.6C764.5 964.7 764.0 964.0 768.7 968.7C773.4 973.4 774.1 972.9 778.8 976.2C783.4 979.6 781.6 979.3 786.3 981.3C791.0 983.3 791.3 984.1 796.4 983.8C801.4 983.4 800.5 982.0 805.2 980.0C809.8 978.0 808.9 975.9 814.0 976.2C819.0 976.6 818.6 980.3 824.0 981.3C829.4 982.3 829.0 981.7 834.1 980.0C839.1 978.3 839.9 978.3 842.9 975.0C845.9 971.6 846.1 971.8 845.4 967.4C844.7 963.1 843.4 962.3 840.4 958.6C837.3 955.0 836.4 956.6 834.1 953.6C831.7 950.6 832.2 949.0 831.6 947.3 M753.6 944.8C755.6 949.2 756.5 953.8 761.2 961.2C765.8 968.5 765.5 967.6 771.2 972.5C776.9 977.3 776.2 976.9 782.5 979.3C788.9 981.6 788.4 981.9 795.1 981.3C801.8 980.6 802.3 978.8 807.7 976.7C813.0 974.7 810.9 973.3 815.2 973.7C819.6 974.1 819.3 977.6 824.0 978.3C828.7 978.9 828.8 978.1 832.8 976.2C836.8 974.4 836.9 974.2 839.1 971.2C841.3 968.2 842.1 968.6 841.1 964.9C840.1 961.2 836.9 959.4 835.3 957.4 M1039.0 892.1C1039.4 895.2 1041.1 897.1 1040.6 903.8C1040.2 910.5 1039.1 911.0 1037.3 917.2C1035.5 923.5 1033.5 921.0 1033.9 927.3C1034.4 933.5 1035.4 934.0 1039.0 940.7C1042.5 947.4 1042.4 946.2 1047.3 952.4C1052.3 958.7 1042.4 938.7 1057.4 964.2C1072.4 989.6 1091.3 1025.6 1103.7 1048.0C1116.0 1070.3 1104.8 1044.4 1103.7 1048.0C1102.5 1051.5 1099.6 1054.2 1099.3 1061.4C1099.0 1068.5 1101.3 1066.7 1102.7 1074.8C1104.0 1082.8 1103.0 1083.5 1104.3 1091.6C1105.7 1099.6 1104.6 1097.8 1107.7 1105.0C1110.8 1112.1 1112.0 1111.2 1116.1 1118.4C1120.1 1125.5 1120.1 1126.0 1122.8 1131.8C1125.4 1137.6 1122.5 1136.6 1126.1 1140.2C1129.7 1143.7 1131.7 1141.2 1136.2 1145.2C1140.6 1149.2 1138.4 1150.3 1142.9 1155.3C1147.4 1160.2 1147.6 1159.6 1152.9 1163.6C1158.3 1167.7 1158.5 1170.8 1163.0 1170.3C1167.5 1169.9 1167.9 1164.2 1169.7 1162.0 M1569.6 922.8C1568.1 925.4 1567.7 927.0 1563.9 932.7C1560.2 938.3 1560.0 943.9 1555.5 943.9C1551.0 943.9 1552.3 937.9 1547.0 932.7C1541.8 927.4 1542.5 925.7 1535.8 924.2C1529.0 922.7 1523.9 924.8 1521.7 927.0C1519.4 929.3 1528.1 927.4 1527.3 932.7C1526.6 937.9 1525.6 940.8 1518.9 946.8C1512.1 952.8 1508.7 956.0 1502.0 955.2C1495.2 954.5 1498.0 948.5 1493.5 943.9C1489.0 939.4 1488.8 933.8 1485.1 938.3C1481.3 942.8 1483.9 952.6 1479.4 960.8C1474.9 969.1 1472.7 970.8 1468.2 969.3C1463.7 967.8 1465.5 958.2 1462.5 955.2C1459.5 952.2 1459.9 952.8 1456.9 958.0C1453.9 963.3 1457.3 968.5 1451.3 974.9C1445.3 981.3 1441.5 981.2 1434.4 982.0C1427.2 982.7 1428.3 983.4 1424.5 977.7C1420.8 972.1 1422.9 964.6 1420.3 960.8C1417.7 957.1 1418.4 958.4 1414.6 963.7C1410.9 968.9 1412.2 973.1 1406.2 980.6C1400.2 988.1 1397.4 986.6 1392.1 991.8C1386.9 997.1 1388.4 996.5 1386.5 1000.3C1384.6 1004.0 1386.2 998.4 1385.1 1005.9C1383.9 1013.4 1385.6 1018.7 1382.3 1028.5C1378.9 1038.2 1378.8 1037.3 1372.4 1042.5C1366.0 1047.8 1365.4 1041.4 1358.3 1048.2C1351.2 1054.9 1350.9 1069.4 1345.6 1067.9C1340.4 1066.4 1342.7 1048.5 1338.6 1042.5C1334.5 1036.5 1334.6 1037.8 1330.1 1045.4C1325.6 1052.9 1326.9 1060.2 1321.7 1070.7C1316.4 1081.2 1317.9 1083.7 1310.4 1084.8C1302.9 1085.9 1301.8 1073.4 1293.5 1074.9C1285.3 1076.4 1286.9 1083.7 1279.4 1090.4C1271.9 1097.2 1272.1 1098.0 1265.4 1100.3C1258.6 1102.5 1260.1 1097.0 1254.1 1098.9C1248.1 1100.8 1247.3 1102.8 1242.8 1107.3C1238.3 1111.8 1237.6 1110.5 1237.2 1115.8C1236.8 1121.0 1242.2 1121.0 1241.4 1127.0C1240.7 1133.1 1240.0 1133.1 1234.4 1138.3C1228.7 1143.6 1225.5 1142.3 1220.3 1146.8C1215.0 1151.3 1219.2 1155.2 1214.6 1155.2C1210.1 1155.2 1208.6 1146.0 1203.4 1146.8C1198.1 1147.5 1200.2 1149.8 1194.9 1158.0C1189.7 1166.3 1188.9 1174.7 1183.7 1177.7C1178.4 1180.8 1178.6 1173.8 1175.2 1169.3C1171.8 1164.8 1174.0 1161.2 1171.0 1160.8C1168.0 1160.5 1165.6 1165.4 1163.9 1167.9C1162.3 1170.4 1166.7 1167.0 1164.7 1170.3C1162.6 1173.7 1162.1 1175.9 1156.3 1180.4C1150.5 1184.9 1150.9 1183.1 1142.9 1187.1C1134.8 1191.1 1133.3 1190.6 1126.1 1195.5C1119.0 1200.4 1117.8 1200.2 1116.1 1205.5C1114.3 1210.9 1114.9 1211.6 1119.4 1215.6C1123.9 1219.6 1126.6 1217.5 1132.8 1220.6C1139.1 1223.8 1138.4 1222.9 1142.9 1227.3C1147.4 1231.8 1148.7 1230.7 1149.6 1237.4C1150.5 1244.1 1148.5 1245.3 1146.2 1252.5C1144.0 1259.6 1143.9 1260.6 1141.2 1264.2C1138.5 1267.8 1138.4 1269.0 1136.2 1265.9C1133.9 1262.8 1136.4 1257.8 1132.8 1252.5C1129.2 1247.1 1129.9 1248.9 1122.8 1245.8C1115.6 1242.6 1114.9 1241.6 1106.0 1240.7C1097.1 1239.8 1096.4 1239.3 1089.2 1242.4C1082.1 1245.5 1081.4 1245.3 1079.2 1252.5C1076.9 1259.6 1081.8 1261.2 1080.9 1269.2C1080.0 1277.3 1082.5 1277.3 1075.8 1282.7C1069.1 1288.0 1063.8 1284.9 1055.7 1289.4C1047.7 1293.8 1050.1 1294.5 1045.7 1299.4C1041.2 1304.3 1038.5 1303.3 1039.0 1307.8C1039.4 1312.3 1044.7 1313.1 1047.3 1316.2C1050.0 1319.2 1051.2 1315.8 1049.0 1319.3C1046.8 1322.8 1045.2 1323.5 1039.0 1329.3C1032.7 1335.2 1032.7 1333.9 1025.5 1341.1C1018.4 1348.2 1018.4 1348.6 1012.1 1356.2C1005.9 1363.8 1008.3 1362.9 1002.1 1369.6C995.8 1376.3 996.7 1377.3 988.7 1381.3C980.6 1385.3 979.5 1382.0 971.9 1384.7C964.3 1387.3 964.2 1386.5 960.2 1391.4C956.1 1396.3 957.7 1395.5 956.8 1403.1C955.9 1410.7 958.2 1411.8 956.8 1419.9C955.5 1427.9 957.6 1427.0 951.8 1433.3C946.0 1439.5 942.2 1438.4 935.0 1443.3C927.9 1448.2 928.1 1446.3 925.0 1451.7C921.8 1457.1 922.8 1457.6 923.3 1463.4C923.7 1469.3 927.1 1467.2 926.6 1473.5C926.2 1479.8 927.4 1482.0 921.6 1486.9C915.8 1491.8 913.8 1489.3 904.9 1491.9C895.9 1494.6 897.0 1494.3 888.1 1497.0C879.1 1499.7 878.5 1496.6 871.3 1502.0C864.2 1507.4 866.6 1508.6 861.3 1517.1C855.9 1525.6 853.9 1524.9 851.2 1533.9C848.5 1542.8 853.0 1541.7 851.2 1550.6C849.4 1559.6 849.0 1559.3 844.5 1567.4C840.0 1575.4 841.6 1574.5 834.4 1580.8C827.3 1587.0 823.5 1584.6 817.7 1590.8C811.9 1597.1 816.2 1597.1 812.7 1604.3C809.1 1611.4 810.1 1610.5 804.3 1617.7C798.5 1624.8 798.9 1623.9 790.9 1631.1C782.8 1638.2 782.1 1637.3 774.1 1644.5C766.1 1651.6 765.6 1650.7 760.7 1657.9C755.8 1665.0 757.5 1665.0 755.7 1671.3C753.9 1677.6 757.1 1676.9 754.0 1681.4C750.9 1685.8 750.2 1682.7 743.9 1688.1C737.7 1693.4 738.6 1693.4 730.5 1701.5C722.5 1709.5 721.8 1711.5 713.8 1718.2C705.7 1724.9 708.4 1723.9 700.3 1726.6C692.3 1729.3 692.5 1725.6 683.6 1728.3C674.6 1731.0 674.0 1731.3 666.8 1736.7C659.7 1742.0 662.1 1741.3 656.8 1748.4C651.4 1755.6 649.4 1759.5 646.7 1763.5 M16.8 1126.8 176.0 1124.1 176.0 1136.8 181.0 1141.8"/>
</g>
<path d="M264.9 882.0C270.2 879.8 274.2 876.1 285.0 873.6C295.7 871.2 295.2 872.3 305.1 873.0C314.9 873.7 310.2 877.7 321.8 876.3C333.5 875.0 336.1 870.6 348.7 867.9C361.2 865.3 358.1 865.5 368.8 866.3C379.5 867.0 377.3 869.8 388.9 870.6C400.5 871.4 400.7 870.4 412.4 869.3C424.0 868.1 422.6 866.3 432.5 866.3C442.3 866.3 440.3 867.0 449.2 869.3C458.2 871.5 457.1 872.1 466.0 874.6C474.9 877.2 474.7 875.1 482.8 879.0C490.8 882.9 489.0 885.4 496.2 889.4C503.3 893.4 501.5 893.1 509.6 894.1C517.6 895.1 518.3 891.7 526.3 893.1C534.4 894.5 532.6 895.1 539.8 899.5C546.9 903.8 545.1 905.0 553.2 909.5C561.2 914.0 560.1 913.4 569.9 916.2C579.8 919.1 578.4 919.4 590.0 920.2C601.7 921.0 602.8 919.8 613.5 919.2C624.2 918.7 625.8 918.5 630.3 918.2 M751.1 938.5C753.1 942.2 755.0 945.3 758.6 952.4C762.3 959.4 760.9 959.2 764.9 964.9C768.9 970.6 768.7 969.7 773.7 973.7C778.8 977.7 777.7 977.6 783.8 980.0C789.8 982.4 790.3 983.2 796.4 982.8C802.4 982.3 801.6 980.3 806.4 978.3C811.2 976.2 809.8 974.6 814.5 975.0C819.2 975.4 818.9 978.9 824.0 979.8C829.1 980.6 829.0 980.0 833.6 978.3C838.1 976.5 838.6 976.3 841.1 973.2C843.7 970.1 844.0 970.6 843.1 966.7C842.3 962.8 840.4 962.3 837.8 958.6C835.3 955.0 834.7 954.6 833.6 953.1" fill="none" stroke="#fff" stroke-width="10.5" stroke-linejoin="round" stroke-linecap="round"/>
<g fill="none" stroke="#fff" stroke-width="6.2" stroke-linejoin="round" stroke-linecap="round">
<path d="M543.1 222.8C546.7 223.9 550.3 223.5 556.5 226.8C562.8 230.1 562.6 228.9 566.6 235.2C570.6 241.5 570.9 241.8 571.6 250.3C572.3 258.8 570.2 259.0 569.3 267.1C568.4 275.1 570.8 274.9 568.3 280.5C565.8 286.0 563.0 283.4 559.9 287.8C556.7 292.3 559.2 292.9 556.5 297.2C553.8 301.5 553.8 303.5 549.8 303.9C545.8 304.4 545.0 298.0 541.4 298.9C537.9 299.8 538.6 302.4 536.4 307.3C534.2 312.2 536.6 315.1 533.1 317.3C529.5 319.6 528.4 313.4 523.0 315.7C517.6 317.9 517.0 320.8 512.9 325.7C508.9 330.6 506.6 331.4 507.9 334.1C509.3 336.8 516.6 333.1 518.0 335.8C519.3 338.5 517.4 339.7 512.9 344.2C508.5 348.6 507.0 349.9 501.2 352.5C495.4 355.2 493.4 351.1 491.1 354.2C488.9 357.3 490.6 358.9 492.8 364.3C495.1 369.6 499.5 369.0 499.5 374.3C499.5 379.7 497.3 379.9 492.8 384.4C488.4 388.9 486.8 387.5 482.8 391.1C478.7 394.7 477.3 394.2 477.7 397.8C478.2 401.4 483.1 400.0 484.4 404.5C485.8 409.0 485.9 410.5 482.8 414.6C479.6 418.6 476.3 416.9 472.7 419.6C469.1 422.3 467.6 421.5 469.4 424.6C471.1 427.7 476.3 426.9 479.4 431.3C482.5 435.8 483.8 437.8 481.1 441.4C478.4 445.0 475.2 442.1 469.4 444.7C463.5 447.4 464.7 447.4 459.3 451.4C453.9 455.5 456.4 455.4 449.2 459.8C442.1 464.3 441.4 464.2 432.5 468.2C423.5 472.2 422.9 470.4 415.7 474.9C408.6 479.4 409.7 478.7 405.7 485.0C401.6 491.2 402.9 493.0 400.6 498.4C398.4 503.7 395.9 501.1 397.3 505.1C398.6 509.1 404.8 509.0 405.7 513.5C406.6 517.9 405.1 518.3 400.6 521.8C396.2 525.4 392.5 522.4 388.9 526.9C385.3 531.3 387.2 532.8 387.2 538.6C387.2 544.4 390.2 542.9 388.9 548.7C387.6 554.5 386.7 555.5 382.2 560.4C377.7 565.3 375.3 562.6 372.1 567.1C369.0 571.6 369.6 572.2 370.5 577.2C371.3 582.1 372.4 581.5 375.5 585.5C378.6 589.6 384.0 588.7 382.2 592.2C380.4 595.8 371.0 594.9 368.8 599.0C366.5 603.0 373.4 602.0 373.8 607.3C374.3 612.7 370.0 613.3 370.5 619.1C370.9 624.9 373.2 623.8 375.5 629.1C377.7 634.5 378.4 633.4 378.8 639.2C379.3 645.0 376.3 645.6 377.2 650.9C378.1 656.3 384.4 657.5 382.2 659.3C380.0 661.1 374.6 657.6 368.8 657.6C363.0 657.6 363.1 656.2 360.4 659.3C357.7 662.4 357.8 663.1 358.7 669.4C359.6 675.6 362.9 675.6 363.8 682.8C364.6 689.9 365.2 692.6 362.1 696.2C358.9 699.8 355.6 693.5 352.0 696.2C348.4 698.9 351.3 701.8 348.7 706.2C346.0 710.7 346.0 708.9 342.0 712.9C337.9 717.0 334.0 716.9 333.6 721.3C333.1 725.8 338.9 725.7 340.3 729.7C341.6 733.7 342.2 734.2 338.6 736.4C335.0 738.6 331.3 738.1 326.9 738.1C322.4 738.1 324.1 734.6 321.8 736.4C319.6 738.2 323.9 740.3 318.5 744.8C313.1 749.3 308.9 749.6 301.7 753.2C294.6 756.7 293.5 753.7 291.7 758.2C289.9 762.7 293.7 764.1 295.0 769.9C296.4 775.7 298.5 776.4 296.7 780.0C294.9 783.6 292.3 780.7 288.3 783.3C284.3 786.0 282.1 785.6 281.6 790.0C281.2 794.5 287.5 797.4 286.6 800.1C285.7 802.8 283.2 801.0 278.3 800.1C273.3 799.2 270.4 794.1 268.2 796.8C266.0 799.4 271.7 804.8 269.9 810.2C268.1 815.5 267.3 814.2 261.5 816.9C255.7 819.5 253.9 817.1 248.1 820.2C242.3 823.3 242.8 823.3 239.7 828.6C236.6 833.9 237.7 837.8 236.4 840.0C235.0 842.2 233.3 834.5 234.7 836.8C236.0 839.0 236.5 843.1 241.4 848.5C246.3 853.9 248.6 852.0 253.1 856.9C257.6 861.8 257.7 860.7 258.1 866.9C258.6 873.2 257.0 873.6 254.8 880.3C252.6 887.1 256.0 886.3 249.8 892.1C243.5 897.9 240.7 896.8 231.3 902.1C221.9 907.5 223.5 906.4 214.6 912.2C205.6 918.0 205.8 917.7 197.8 923.9C189.8 930.2 190.6 929.4 184.4 935.7C178.1 941.9 177.5 939.8 174.3 947.4C171.2 955.0 172.2 956.6 172.7 964.2C173.1 971.8 176.5 969.6 176.0 975.9C175.6 982.2 169.2 981.8 171.0 987.6C172.8 993.4 176.9 991.4 182.7 997.7C188.5 1003.9 189.6 1002.2 192.8 1011.1C195.9 1020.0 194.0 1020.5 194.4 1031.2C194.9 1041.9 196.2 1041.5 194.4 1051.3C192.7 1061.2 190.4 1059.1 187.7 1068.1C185.1 1077.0 184.8 1075.9 184.4 1084.9C183.9 1093.8 186.5 1093.6 186.1 1101.6C185.6 1109.7 184.5 1107.9 182.7 1115.0C180.9 1122.2 179.8 1121.3 179.4 1128.4C178.9 1135.6 183.7 1134.7 181.0 1141.8C178.4 1149.0 175.6 1147.7 169.3 1155.3C163.0 1162.9 165.2 1165.9 157.6 1170.3C150.0 1174.8 150.2 1172.5 140.8 1172.0C131.4 1171.6 129.1 1167.8 122.4 1168.7C115.7 1169.6 117.9 1170.0 115.7 1175.4C113.4 1180.7 116.2 1181.6 114.0 1188.8C111.8 1195.9 108.6 1194.1 107.3 1202.2C105.9 1210.2 107.6 1210.0 109.0 1219.0C110.3 1227.9 110.1 1227.7 112.3 1235.7C114.5 1243.8 116.4 1240.2 117.3 1249.1C118.2 1258.1 114.3 1261.3 115.7 1269.2C117.0 1277.2 119.2 1272.9 122.4 1279.1C125.5 1285.3 128.3 1285.3 127.4 1292.5C126.5 1299.6 123.0 1296.9 119.0 1305.9C115.0 1314.8 112.8 1315.3 112.3 1326.0C111.9 1336.7 118.7 1335.4 117.3 1346.1C116.0 1356.8 112.6 1355.5 107.3 1366.2C101.9 1377.0 100.4 1374.7 97.2 1386.3C94.1 1398.0 97.3 1398.2 95.5 1409.8C93.8 1421.4 94.1 1419.2 90.5 1429.9C86.9 1440.7 83.5 1439.3 82.1 1450.0C80.8 1460.8 85.9 1460.3 85.5 1470.2C85.0 1480.0 86.3 1478.9 80.5 1486.9C74.6 1495.0 73.5 1495.4 63.7 1500.3C53.9 1505.2 51.6 1500.9 43.6 1505.4C35.5 1509.8 37.5 1509.5 33.5 1517.1C29.5 1524.7 32.1 1524.9 28.5 1533.9C24.9 1542.8 22.4 1546.1 20.1 1550.6 M16.8 555.4C20.8 554.5 26.5 551.1 31.8 552.0C37.2 552.9 32.0 556.0 36.9 558.7C41.8 561.4 43.1 562.5 50.3 562.1C57.4 561.6 57.9 561.1 63.7 557.0C69.5 553.0 67.2 550.1 72.1 547.0C77.0 543.9 77.2 543.5 82.1 545.3C87.1 547.1 85.6 549.7 90.5 553.7C95.4 557.7 95.7 556.8 100.6 560.4C105.5 564.0 103.6 564.9 109.0 567.1C114.3 569.3 114.4 567.9 120.7 568.8C126.9 569.7 126.6 567.8 132.4 570.5C138.2 573.1 138.0 573.5 142.5 578.8C147.0 584.2 145.2 585.7 149.2 590.6C153.2 595.5 151.8 594.1 157.6 597.3C163.4 600.4 166.5 597.8 171.0 602.3C175.4 606.8 170.8 609.1 174.3 614.0C177.9 619.0 179.0 619.4 184.4 620.7C189.8 622.1 190.0 616.8 194.4 619.1C198.9 621.3 198.0 622.9 201.2 629.1C204.3 635.4 202.6 638.1 206.2 642.5C209.8 647.0 209.6 645.9 214.6 645.9C219.5 645.9 221.0 640.3 224.6 642.5C228.2 644.8 225.3 648.5 228.0 654.3C230.7 660.1 230.2 660.8 234.7 664.3C239.1 667.9 239.4 664.6 244.7 667.7C250.1 670.8 249.9 673.8 254.8 676.1C259.7 678.3 260.5 672.9 263.2 676.1C265.9 679.2 262.2 683.3 264.9 687.8C267.5 692.3 268.8 689.7 273.2 692.8C277.7 696.0 277.6 696.0 281.6 699.5C285.6 703.1 285.2 700.9 288.3 706.2C291.4 711.6 289.8 715.6 293.3 719.6C296.9 723.7 296.8 719.5 301.7 721.3C306.6 723.1 306.4 722.8 311.8 726.3C317.2 729.9 319.2 732.5 321.8 734.7 M249.8 892.1C254.7 889.4 258.8 886.9 268.2 882.0C277.6 877.1 275.1 875.9 285.0 873.6C294.8 871.4 295.2 872.7 305.1 873.6C314.9 874.5 310.2 878.3 321.8 877.0C333.5 875.7 336.1 871.3 348.7 868.6C361.2 865.9 358.1 866.0 368.8 866.9C379.5 867.8 377.3 871.1 388.9 872.0C400.5 872.9 400.7 871.6 412.4 870.3C424.0 868.9 422.6 866.9 432.5 866.9C442.3 866.9 440.3 868.1 449.2 870.3C458.2 872.5 457.1 873.1 466.0 875.3C474.9 877.6 474.7 874.6 482.8 878.7C490.8 882.7 489.0 886.4 496.2 890.4C503.3 894.4 501.5 893.3 509.6 893.8C517.6 894.2 518.3 890.7 526.3 892.1C534.4 893.4 532.6 894.3 539.8 898.8C546.9 903.3 545.1 904.4 553.2 908.8C561.2 913.3 564.8 914.3 569.9 915.5C575.1 916.8 568.5 911.9 572.6 913.4C576.6 914.8 578.4 917.9 585.1 920.9C591.8 923.9 591.0 924.4 597.7 924.7C604.4 925.0 602.9 923.9 610.3 922.2C617.7 920.5 616.7 919.7 625.4 918.4C634.1 917.1 634.9 915.8 643.0 917.2C651.0 918.5 648.8 919.1 655.5 923.4C662.3 927.8 661.4 929.1 668.1 933.5C674.8 937.9 674.0 936.8 680.7 939.8C687.4 942.8 685.9 943.1 693.3 944.8C700.6 946.5 701.0 946.7 708.3 946.1C715.7 945.4 713.5 944.6 720.9 942.3C728.3 939.9 728.6 940.3 736.0 937.3C743.4 934.2 742.5 934.3 748.6 931.0C754.6 927.6 753.3 927.4 758.6 924.7C764.0 922.0 763.3 921.9 768.7 920.9C774.1 919.9 774.1 919.6 778.8 920.9C783.4 922.3 781.9 922.6 786.3 926.0C790.7 929.3 790.4 929.8 795.1 933.5C799.8 937.2 798.9 936.4 803.9 939.8C808.9 943.1 808.6 943.4 814.0 946.1C819.3 948.7 819.3 949.5 824.0 949.8C828.7 950.2 829.9 950.7 831.6 947.3C833.2 944.0 829.6 941.3 830.3 937.3C831.0 933.2 830.4 933.9 834.1 932.2C837.8 930.6 838.8 931.7 844.1 931.0C849.5 930.3 848.5 931.4 854.2 929.7C859.9 928.0 860.1 925.0 865.5 924.7C870.9 924.4 869.9 925.4 874.3 928.5C878.7 931.5 877.8 931.3 881.8 936.0C885.9 940.7 885.7 940.0 889.4 946.1C893.1 952.1 892.7 952.6 895.7 958.6C898.7 964.7 897.0 964.0 900.7 968.7C904.4 973.4 904.5 972.6 909.5 976.2C914.5 979.9 913.5 980.5 919.6 982.5C925.6 984.5 926.4 984.8 932.1 983.8C937.8 982.8 937.6 982.8 940.9 978.8C944.3 974.7 944.0 973.4 944.7 968.7C945.4 964.0 945.5 963.2 943.4 961.2C941.4 959.1 932.1 966.2 937.2 961.2C942.2 956.1 955.9 952.4 962.3 942.3C968.7 932.2 960.4 931.1 961.0 923.4C961.7 915.7 960.5 917.4 964.8 913.4C969.2 909.4 970.7 911.7 977.4 908.3C984.1 905.0 983.9 905.5 990.0 900.8C996.0 896.1 994.0 895.1 1000.0 890.7C1006.1 886.4 1005.2 886.5 1012.6 884.5C1020.0 882.5 1025.1 883.9 1027.7 883.2C1030.2 882.6 1019.6 881.9 1022.2 882.0C1024.7 882.2 1030.6 881.0 1037.3 883.7C1044.0 886.4 1040.6 889.0 1047.3 892.1C1054.0 895.2 1054.8 895.0 1062.4 895.4C1070.0 895.9 1069.6 892.0 1075.8 893.8C1082.1 895.5 1080.1 898.1 1085.9 902.1C1091.7 906.2 1091.8 904.8 1097.6 908.8C1103.4 912.9 1101.9 913.2 1107.7 917.2C1113.5 921.2 1112.7 923.0 1119.4 923.9C1126.1 924.8 1126.6 924.2 1132.8 920.6C1139.1 917.0 1137.5 915.0 1142.9 910.5C1148.2 906.0 1146.7 906.9 1152.9 903.8C1159.2 900.7 1160.1 902.8 1166.3 898.8C1172.6 894.8 1171.9 895.0 1176.4 888.7C1180.9 882.5 1181.8 882.9 1183.1 875.3C1184.5 867.7 1184.1 867.8 1181.4 860.2C1178.8 852.6 1176.2 854.0 1173.1 846.8C1169.9 839.7 1168.8 839.2 1169.7 833.4C1170.6 827.6 1172.8 828.6 1176.4 825.0C1180.0 821.5 1179.5 821.3 1183.1 820.0C1186.7 818.7 1183.6 821.1 1189.8 820.2C1196.1 819.4 1198.1 821.3 1206.6 816.9C1215.1 812.4 1216.7 810.6 1221.7 803.5C1226.6 796.3 1220.1 797.2 1225.0 790.0C1229.9 782.9 1230.7 782.0 1240.1 776.6C1249.5 771.3 1249.6 772.6 1260.2 769.9C1270.9 767.2 1273.7 769.3 1280.0 766.6C1286.3 763.9 1279.6 759.4 1283.7 759.9C1287.8 760.3 1288.7 766.9 1295.4 768.3C1302.1 769.6 1303.0 768.9 1308.8 764.9C1314.7 760.9 1315.4 759.9 1317.2 753.2C1319.0 746.5 1312.0 747.4 1315.6 739.8C1319.1 732.2 1321.7 732.3 1330.6 724.7C1339.6 717.1 1339.2 716.2 1349.1 711.3C1358.9 706.3 1360.4 711.2 1367.5 706.2C1374.7 701.3 1373.2 700.4 1375.9 692.8C1378.6 685.2 1374.4 684.4 1377.6 677.7C1380.7 671.0 1380.5 671.3 1387.6 667.7C1394.8 664.1 1397.2 664.3 1404.4 664.3C1411.5 664.3 1409.1 669.9 1414.5 667.7C1419.8 665.4 1421.4 662.7 1424.5 655.9C1427.6 649.2 1427.1 649.7 1426.2 642.5C1425.3 635.4 1420.3 636.7 1421.2 629.1C1422.1 621.5 1424.2 621.6 1429.5 614.0C1434.9 606.4 1435.0 608.2 1441.3 600.6C1447.5 593.0 1449.0 594.0 1453.0 585.5C1457.0 577.0 1453.2 577.3 1456.4 568.8C1459.5 560.3 1461.2 560.8 1464.7 553.7C1468.3 546.5 1470.7 547.8 1469.8 542.0C1468.9 536.1 1461.8 537.3 1461.4 531.9C1460.9 526.5 1463.6 526.3 1468.1 521.8C1472.6 517.4 1476.4 519.2 1478.2 515.1C1479.9 511.1 1478.4 512.1 1474.8 506.8C1471.2 501.4 1467.0 500.8 1464.7 495.0C1462.5 489.2 1464.6 492.1 1466.4 485.0C1468.2 477.8 1471.4 476.7 1471.4 468.2C1471.4 459.7 1468.7 460.7 1466.4 453.1C1464.2 445.5 1461.3 445.1 1463.1 439.7C1464.9 434.3 1467.8 435.7 1473.1 433.0C1478.5 430.3 1480.9 434.6 1483.2 429.6C1485.4 424.7 1480.6 423.1 1481.5 414.6C1482.4 406.1 1483.9 406.3 1486.5 397.8C1489.2 389.3 1491.6 389.9 1491.6 382.7C1491.6 375.6 1489.7 377.7 1486.5 371.0C1483.4 364.3 1482.5 364.7 1479.8 357.6C1477.1 350.4 1478.7 350.9 1476.5 344.2C1474.2 337.5 1471.0 337.8 1471.4 332.4C1471.9 327.1 1472.8 326.3 1478.2 324.0C1483.5 321.8 1488.0 326.7 1491.6 324.0C1495.1 321.4 1489.8 318.5 1491.6 314.0C1493.4 309.5 1493.8 310.0 1498.3 307.3C1502.7 304.6 1503.0 302.6 1508.3 303.9C1513.7 305.3 1513.0 309.6 1518.4 312.3C1523.7 315.0 1524.0 310.0 1528.4 314.0C1532.9 318.0 1531.6 321.6 1535.1 327.4C1538.7 333.2 1539.2 338.0 1541.9 335.8C1544.5 333.5 1542.1 325.7 1545.2 319.0C1548.3 312.3 1549.1 314.7 1553.6 310.6C1558.1 306.6 1557.0 304.8 1562.0 303.9C1566.9 303.0 1569.3 306.4 1572.0 307.3 M748.6 933.5C750.6 936.8 752.8 939.4 756.1 946.1C759.5 952.8 757.8 952.6 761.2 958.6C764.5 964.7 764.0 964.0 768.7 968.7C773.4 973.4 774.1 972.9 778.8 976.2C783.4 979.6 781.6 979.3 786.3 981.3C791.0 983.3 791.3 984.1 796.4 983.8C801.4 983.4 800.5 982.0 805.2 980.0C809.8 978.0 808.9 975.9 814.0 976.2C819.0 976.6 818.6 980.3 824.0 981.3C829.4 982.3 829.0 981.7 834.1 980.0C839.1 978.3 839.9 978.3 842.9 975.0C845.9 971.6 846.1 971.8 845.4 967.4C844.7 963.1 843.4 962.3 840.4 958.6C837.3 955.0 836.4 956.6 834.1 953.6C831.7 950.6 832.2 949.0 831.6 947.3 M753.6 944.8C755.6 949.2 756.5 953.8 761.2 961.2C765.8 968.5 765.5 967.6 771.2 972.5C776.9 977.3 776.2 976.9 782.5 979.3C788.9 981.6 788.4 981.9 795.1 981.3C801.8 980.6 802.3 978.8 807.7 976.7C813.0 974.7 810.9 973.3 815.2 973.7C819.6 974.1 819.3 977.6 824.0 978.3C828.7 978.9 828.8 978.1 832.8 976.2C836.8 974.4 836.9 974.2 839.1 971.2C841.3 968.2 842.1 968.6 841.1 964.9C840.1 961.2 836.9 959.4 835.3 957.4 M1039.0 892.1C1039.4 895.2 1041.1 897.1 1040.6 903.8C1040.2 910.5 1039.1 911.0 1037.3 917.2C1035.5 923.5 1033.5 921.0 1033.9 927.3C1034.4 933.5 1035.4 934.0 1039.0 940.7C1042.5 947.4 1042.4 946.2 1047.3 952.4C1052.3 958.7 1042.4 938.7 1057.4 964.2C1072.4 989.6 1091.3 1025.6 1103.7 1048.0C1116.0 1070.3 1104.8 1044.4 1103.7 1048.0C1102.5 1051.5 1099.6 1054.2 1099.3 1061.4C1099.0 1068.5 1101.3 1066.7 1102.7 1074.8C1104.0 1082.8 1103.0 1083.5 1104.3 1091.6C1105.7 1099.6 1104.6 1097.8 1107.7 1105.0C1110.8 1112.1 1112.0 1111.2 1116.1 1118.4C1120.1 1125.5 1120.1 1126.0 1122.8 1131.8C1125.4 1137.6 1122.5 1136.6 1126.1 1140.2C1129.7 1143.7 1131.7 1141.2 1136.2 1145.2C1140.6 1149.2 1138.4 1150.3 1142.9 1155.3C1147.4 1160.2 1147.6 1159.6 1152.9 1163.6C1158.3 1167.7 1158.5 1170.8 1163.0 1170.3C1167.5 1169.9 1167.9 1164.2 1169.7 1162.0 M1569.6 922.8C1568.1 925.4 1567.7 927.0 1563.9 932.7C1560.2 938.3 1560.0 943.9 1555.5 943.9C1551.0 943.9 1552.3 937.9 1547.0 932.7C1541.8 927.4 1542.5 925.7 1535.8 924.2C1529.0 922.7 1523.9 924.8 1521.7 927.0C1519.4 929.3 1528.1 927.4 1527.3 932.7C1526.6 937.9 1525.6 940.8 1518.9 946.8C1512.1 952.8 1508.7 956.0 1502.0 955.2C1495.2 954.5 1498.0 948.5 1493.5 943.9C1489.0 939.4 1488.8 933.8 1485.1 938.3C1481.3 942.8 1483.9 952.6 1479.4 960.8C1474.9 969.1 1472.7 970.8 1468.2 969.3C1463.7 967.8 1465.5 958.2 1462.5 955.2C1459.5 952.2 1459.9 952.8 1456.9 958.0C1453.9 963.3 1457.3 968.5 1451.3 974.9C1445.3 981.3 1441.5 981.2 1434.4 982.0C1427.2 982.7 1428.3 983.4 1424.5 977.7C1420.8 972.1 1422.9 964.6 1420.3 960.8C1417.7 957.1 1418.4 958.4 1414.6 963.7C1410.9 968.9 1412.2 973.1 1406.2 980.6C1400.2 988.1 1397.4 986.6 1392.1 991.8C1386.9 997.1 1388.4 996.5 1386.5 1000.3C1384.6 1004.0 1386.2 998.4 1385.1 1005.9C1383.9 1013.4 1385.6 1018.7 1382.3 1028.5C1378.9 1038.2 1378.8 1037.3 1372.4 1042.5C1366.0 1047.8 1365.4 1041.4 1358.3 1048.2C1351.2 1054.9 1350.9 1069.4 1345.6 1067.9C1340.4 1066.4 1342.7 1048.5 1338.6 1042.5C1334.5 1036.5 1334.6 1037.8 1330.1 1045.4C1325.6 1052.9 1326.9 1060.2 1321.7 1070.7C1316.4 1081.2 1317.9 1083.7 1310.4 1084.8C1302.9 1085.9 1301.8 1073.4 1293.5 1074.9C1285.3 1076.4 1286.9 1083.7 1279.4 1090.4C1271.9 1097.2 1272.1 1098.0 1265.4 1100.3C1258.6 1102.5 1260.1 1097.0 1254.1 1098.9C1248.1 1100.8 1247.3 1102.8 1242.8 1107.3C1238.3 1111.8 1237.6 1110.5 1237.2 1115.8C1236.8 1121.0 1242.2 1121.0 1241.4 1127.0C1240.7 1133.1 1240.0 1133.1 1234.4 1138.3C1228.7 1143.6 1225.5 1142.3 1220.3 1146.8C1215.0 1151.3 1219.2 1155.2 1214.6 1155.2C1210.1 1155.2 1208.6 1146.0 1203.4 1146.8C1198.1 1147.5 1200.2 1149.8 1194.9 1158.0C1189.7 1166.3 1188.9 1174.7 1183.7 1177.7C1178.4 1180.8 1178.6 1173.8 1175.2 1169.3C1171.8 1164.8 1174.0 1161.2 1171.0 1160.8C1168.0 1160.5 1165.6 1165.4 1163.9 1167.9C1162.3 1170.4 1166.7 1167.0 1164.7 1170.3C1162.6 1173.7 1162.1 1175.9 1156.3 1180.4C1150.5 1184.9 1150.9 1183.1 1142.9 1187.1C1134.8 1191.1 1133.3 1190.6 1126.1 1195.5C1119.0 1200.4 1117.8 1200.2 1116.1 1205.5C1114.3 1210.9 1114.9 1211.6 1119.4 1215.6C1123.9 1219.6 1126.6 1217.5 1132.8 1220.6C1139.1 1223.8 1138.4 1222.9 1142.9 1227.3C1147.4 1231.8 1148.7 1230.7 1149.6 1237.4C1150.5 1244.1 1148.5 1245.3 1146.2 1252.5C1144.0 1259.6 1143.9 1260.6 1141.2 1264.2C1138.5 1267.8 1138.4 1269.0 1136.2 1265.9C1133.9 1262.8 1136.4 1257.8 1132.8 1252.5C1129.2 1247.1 1129.9 1248.9 1122.8 1245.8C1115.6 1242.6 1114.9 1241.6 1106.0 1240.7C1097.1 1239.8 1096.4 1239.3 1089.2 1242.4C1082.1 1245.5 1081.4 1245.3 1079.2 1252.5C1076.9 1259.6 1081.8 1261.2 1080.9 1269.2C1080.0 1277.3 1082.5 1277.3 1075.8 1282.7C1069.1 1288.0 1063.8 1284.9 1055.7 1289.4C1047.7 1293.8 1050.1 1294.5 1045.7 1299.4C1041.2 1304.3 1038.5 1303.3 1039.0 1307.8C1039.4 1312.3 1044.7 1313.1 1047.3 1316.2C1050.0 1319.2 1051.2 1315.8 1049.0 1319.3C1046.8 1322.8 1045.2 1323.5 1039.0 1329.3C1032.7 1335.2 1032.7 1333.9 1025.5 1341.1C1018.4 1348.2 1018.4 1348.6 1012.1 1356.2C1005.9 1363.8 1008.3 1362.9 1002.1 1369.6C995.8 1376.3 996.7 1377.3 988.7 1381.3C980.6 1385.3 979.5 1382.0 971.9 1384.7C964.3 1387.3 964.2 1386.5 960.2 1391.4C956.1 1396.3 957.7 1395.5 956.8 1403.1C955.9 1410.7 958.2 1411.8 956.8 1419.9C955.5 1427.9 957.6 1427.0 951.8 1433.3C946.0 1439.5 942.2 1438.4 935.0 1443.3C927.9 1448.2 928.1 1446.3 925.0 1451.7C921.8 1457.1 922.8 1457.6 923.3 1463.4C923.7 1469.3 927.1 1467.2 926.6 1473.5C926.2 1479.8 927.4 1482.0 921.6 1486.9C915.8 1491.8 913.8 1489.3 904.9 1491.9C895.9 1494.6 897.0 1494.3 888.1 1497.0C879.1 1499.7 878.5 1496.6 871.3 1502.0C864.2 1507.4 866.6 1508.6 861.3 1517.1C855.9 1525.6 853.9 1524.9 851.2 1533.9C848.5 1542.8 853.0 1541.7 851.2 1550.6C849.4 1559.6 849.0 1559.3 844.5 1567.4C840.0 1575.4 841.6 1574.5 834.4 1580.8C827.3 1587.0 823.5 1584.6 817.7 1590.8C811.9 1597.1 816.2 1597.1 812.7 1604.3C809.1 1611.4 810.1 1610.5 804.3 1617.7C798.5 1624.8 798.9 1623.9 790.9 1631.1C782.8 1638.2 782.1 1637.3 774.1 1644.5C766.1 1651.6 765.6 1650.7 760.7 1657.9C755.8 1665.0 757.5 1665.0 755.7 1671.3C753.9 1677.6 757.1 1676.9 754.0 1681.4C750.9 1685.8 750.2 1682.7 743.9 1688.1C737.7 1693.4 738.6 1693.4 730.5 1701.5C722.5 1709.5 721.8 1711.5 713.8 1718.2C705.7 1724.9 708.4 1723.9 700.3 1726.6C692.3 1729.3 692.5 1725.6 683.6 1728.3C674.6 1731.0 674.0 1731.3 666.8 1736.7C659.7 1742.0 662.1 1741.3 656.8 1748.4C651.4 1755.6 649.4 1759.5 646.7 1763.5 M16.8 1126.8 176.0 1124.1 176.0 1136.8 181.0 1141.8"/>
</g>
<circle cx="793.6" cy="989.3" r="743.5" fill="none" stroke="#fff" stroke-width="3"/>
<circle cx="95.4" cy="349.7" r="7" fill="#fff"/>
<circle cx="699.4" cy="305.7" r="7" fill="#fff"/>
<circle cx="914.4" cy="357.7" r="7" fill="#fff"/>
<circle cx="674.4" cy="425.7" r="7" fill="#fff"/>
<circle cx="481.4" cy="442.7" r="7" fill="#fff"/>
<circle cx="1305.4" cy="429.7" r="7" fill="#fff"/>
<circle cx="388.4" cy="499.7" r="7" fill="#fff"/>
<circle cx="709.4" cy="575.7" r="7" fill="#fff"/>
<circle cx="1483.4" cy="578.7" r="7" fill="#fff"/>
<circle cx="1281.4" cy="618.7" r="7" fill="#fff"/>
<circle cx="702.4" cy="665.7" r="7" fill="#fff"/>
<circle cx="738.4" cy="739.7" r="7" fill="#fff"/>
<circle cx="356.4" cy="773.7" r="7" fill="#fff"/>
<circle cx="461.4" cy="826.7" r="7" fill="#fff"/>
<circle cx="1195.4" cy="865.7" r="7" fill="#fff"/>
<circle cx="1083.4" cy="903.7" r="7" fill="#fff"/>
<circle cx="185.4" cy="940.7" r="7" fill="#fff"/>
<circle cx="1326.4" cy="945.7" r="7" fill="#fff"/>
<circle cx="841.4" cy="968.7" r="7" fill="#fff"/>
<circle cx="203.4" cy="1107.7" r="7" fill="#fff"/>
<circle cx="1125.4" cy="1091.7" r="7" fill="#fff"/>
<circle cx="1313.4" cy="1081.7" r="7" fill="#fff"/>
<circle cx="1518.4" cy="1080.7" r="7" fill="#fff"/>
<circle cx="477.4" cy="1254.7" r="7" fill="#fff"/>
<circle cx="694.4" cy="1304.7" r="7" fill="#fff"/>
<circle cx="1035.4" cy="1309.7" r="7" fill="#fff"/>
<circle cx="230.4" cy="1320.7" r="7" fill="#fff"/>
<circle cx="423.4" cy="1526.7" r="7" fill="#fff"/>
<circle cx="1498.4" cy="307.7" r="7" fill="#fff"/>
<text class="m" x="104.7" y="339.2" font-size="32.34" textLength="108.4" lengthAdjust="spacingAndGlyphs" fill="#fff" stroke="#fff" stroke-width="0.5" >PIRANE</text>
<text class="m" x="708.7" y="295.2" font-size="32.34" textLength="162.5" lengthAdjust="spacingAndGlyphs" fill="#fff" stroke="#fff" stroke-width="0.5" >PARAGUARÍ</text>
<text class="m" x="923.7" y="347.2" font-size="32.34" textLength="180.6" lengthAdjust="spacingAndGlyphs" fill="#fff" stroke="#fff" stroke-width="0.5" >VILLARRICA</text>
<text class="m" x="683.7" y="415.2" font-size="32.34" textLength="126.4" lengthAdjust="spacingAndGlyphs" fill="#fff" stroke="#fff" stroke-width="0.5" >QUIINDY</text>
<text class="m" x="490.7" y="432.2" font-size="32.34" textLength="162.5" lengthAdjust="spacingAndGlyphs" fill="#fff" stroke="#fff" stroke-width="0.5" >VA. OLIVA</text>
<text class="m" x="1314.7" y="419.2" font-size="32.34" textLength="144.5" lengthAdjust="spacingAndGlyphs" fill="#fff" stroke="#fff" stroke-width="0.5" >NARANJAL</text>
<text class="m" x="397.7" y="489.2" font-size="32.34" textLength="126.4" lengthAdjust="spacingAndGlyphs" fill="#fff" stroke="#fff" stroke-width="0.5" >FORMOSA</text>
<text class="m" x="718.7" y="565.2" font-size="32.34" textLength="198.7" lengthAdjust="spacingAndGlyphs" fill="#fff" stroke="#fff" stroke-width="0.5" >VA. FLORIDA</text>
<text class="m" x="1492.7" y="568.2" font-size="32.34" textLength="144.5" lengthAdjust="spacingAndGlyphs" fill="#fff" stroke="#fff" stroke-width="0.5" >ELDORADO</text>
<text class="m" x="1290.7" y="608.2" font-size="32.34" textLength="307.0" lengthAdjust="spacingAndGlyphs" fill="#fff" stroke="#fff" stroke-width="0.5" >MARÍA AUXILIADORA</text>
<text class="m" x="711.7" y="655.2" font-size="32.34" textLength="307.0" lengthAdjust="spacingAndGlyphs" fill="#fff" stroke="#fff" stroke-width="0.5" >SAN JUAN BAUTISTA</text>
<text class="m" x="747.7" y="729.2" font-size="32.34" textLength="198.7" lengthAdjust="spacingAndGlyphs" fill="#fff" stroke="#fff" stroke-width="0.5" >SAN IGNACIO</text>
<text class="m" x="365.7" y="763.2" font-size="32.34" textLength="162.5" lengthAdjust="spacingAndGlyphs" fill="#fff" stroke="#fff" stroke-width="0.5" >ISLA UMBÚ</text>
<text class="m" x="470.7" y="816.2" font-size="32.34" textLength="162.5" lengthAdjust="spacingAndGlyphs" fill="#fff" stroke="#fff" stroke-width="0.5" >VILLALBÍN</text>
<text class="m" x="1204.7" y="855.2" font-size="32.34" textLength="198.7" lengthAdjust="spacingAndGlyphs" fill="#fff" stroke="#fff" stroke-width="0.5" >SAN IGNACIO</text>
<text class="m" x="1092.7" y="893.2" font-size="32.34" textLength="126.4" lengthAdjust="spacingAndGlyphs" fill="#fff" stroke="#fff" stroke-width="0.5" >POSADAS</text>
<text class="m" x="194.7" y="930.2" font-size="32.34" textLength="180.6" lengthAdjust="spacingAndGlyphs" fill="#fff" stroke="#fff" stroke-width="0.5" >CORRIENTES</text>
<text class="m" x="1335.7" y="935.2" font-size="32.34" textLength="90.3" lengthAdjust="spacingAndGlyphs" fill="#fff" stroke="#fff" stroke-width="0.5" >OBERÁ</text>
<text class="m" x="850.7" y="958.2" font-size="32.34" textLength="162.5" lengthAdjust="spacingAndGlyphs" fill="#fff" stroke="#fff" stroke-width="0.5" >ITUZAINGÓ</text>
<text class="m" x="212.7" y="1097.2" font-size="32.34" textLength="162.5" lengthAdjust="spacingAndGlyphs" fill="#fff" stroke="#fff" stroke-width="0.5" >EMPEDRADO</text>
<text class="m" x="1134.7" y="1081.2" font-size="32.34" textLength="162.5" lengthAdjust="spacingAndGlyphs" fill="#fff" stroke="#fff" stroke-width="0.5" >APÓSTOLES</text>
<text class="m" x="1322.7" y="1071.2" font-size="32.34" textLength="180.6" lengthAdjust="spacingAndGlyphs" fill="#fff" stroke="#fff" stroke-width="0.5" >SAN JAVIER</text>
<text class="m" x="1527.7" y="1070.2" font-size="32.34" textLength="162.5" lengthAdjust="spacingAndGlyphs" fill="#fff" stroke="#fff" stroke-width="0.5" >SAN PEDRO</text>
<text class="m" x="486.7" y="1244.2" font-size="32.34" textLength="180.6" lengthAdjust="spacingAndGlyphs" fill="#fff" stroke="#fff" stroke-width="0.5" >CONCEPCIÓN</text>
<text class="m" x="703.7" y="1294.2" font-size="32.34" textLength="325.1" lengthAdjust="spacingAndGlyphs" fill="#fff" stroke="#fff" stroke-width="0.5" >COL. C. PELLEGRINI</text>
<text class="m" x="1044.7" y="1299.2" font-size="32.34" textLength="180.6" lengthAdjust="spacingAndGlyphs" fill="#fff" stroke="#fff" stroke-width="0.5" >SANTO TOMÉ</text>
<text class="m" x="239.7" y="1310.2" font-size="32.34" textLength="162.5" lengthAdjust="spacingAndGlyphs" fill="#fff" stroke="#fff" stroke-width="0.5" >SAN ROQUE</text>
<text class="m" x="432.7" y="1516.2" font-size="32.34" textLength="144.5" lengthAdjust="spacingAndGlyphs" fill="#fff" stroke="#fff" stroke-width="0.5" >MERCEDES</text>
<text class="m" x="1507.7" y="297.2" font-size="32.34" textLength="234.8" lengthAdjust="spacingAndGlyphs" fill="#fff" stroke="#fff" stroke-width="0.5" >PUERTO IGUAZÚ</text>
<rect x="27" y="1653.5" width="331.5" height="100.5" fill="#606060" fill-opacity="0.93"/>
<rect x="39.6" y="1667.6" width="303.8" height="72.6" fill="none" stroke="#ffa500" stroke-width="5.2"/>
<text class="m" x="51.3" y="1697.5" font-size="23.72" textLength="278.7" lengthAdjust="spacingAndGlyphs" fill="#fff" stroke="#fff" stroke-width="0.3" >Avisos Meteorológicos</text>
<text class="m" x="51.3" y="1724.2" font-size="23.72" textLength="225.6" lengthAdjust="spacingAndGlyphs" fill="#fff" stroke="#fff" stroke-width="0.3" >a Muy Corto Plazo</text>
</g>
<rect x="19.6" y="219.85" width="1549.8" height="1540.1" fill="none" stroke="#000" stroke-width="2.3"/>
<rect x="1570.5" y="219.5" width="150" height="1540" fill="#1a1a1a"/>
<g clip-path="url(#cr)">
<ellipse cx="1619.0" cy="305.6" rx="22.0" ry="8.0" fill="#2f88bd"/><ellipse cx="1609.5" cy="400.5" rx="20.0" ry="6.0" fill="#2f88bd"/><ellipse cx="1606.0" cy="434.7" rx="18.0" ry="7.0" fill="#2f88bd"/><ellipse cx="1618.5" cy="458.0" rx="30.5" ry="8.0" fill="#25a3d3"/><ellipse cx="1616.0" cy="470.0" rx="30.0" ry="8.0" fill="#2a94c6"/><ellipse cx="1606.5" cy="482.0" rx="21.5" ry="8.0" fill="#2f88bd"/><ellipse cx="1621.5" cy="488.0" rx="21.5" ry="8.0" fill="#2a94c6"/><ellipse cx="1607.0" cy="500.0" rx="23.0" ry="8.0" fill="#2f88bd"/><ellipse cx="1611.0" cy="512.0" rx="27.0" ry="8.0" fill="#2a94c6"/><ellipse cx="1619.0" cy="520.0" rx="19.0" ry="8.0" fill="#2a94c6"/><ellipse cx="1601.5" cy="530.0" rx="18.5" ry="8.0" fill="#2f88bd"/><ellipse cx="1609.0" cy="543.0" rx="25.0" ry="8.0" fill="#2a94c6"/><ellipse cx="1600.0" cy="552.0" rx="20.0" ry="8.0" fill="#2a94c6"/><ellipse cx="1596.0" cy="560.0" rx="14.0" ry="8.0" fill="#25a3d3"/><ellipse cx="1598.0" cy="578.0" rx="18.0" ry="5.0" fill="#2f88bd"/><ellipse cx="1615.0" cy="580.0" rx="12.0" ry="4.0" fill="#2f88bd"/><ellipse cx="1600.0" cy="587.0" rx="14.0" ry="4.0" fill="#2f88bd"/><ellipse cx="1612.0" cy="620.0" rx="13.0" ry="4.0" fill="#357bac"/><ellipse cx="1597.0" cy="639.0" rx="20.0" ry="4.0" fill="#2f88bd"/><ellipse cx="1587.0" cy="673.0" rx="9.0" ry="4.0" fill="#2f88bd"/><ellipse cx="1695.0" cy="668.0" rx="12.5" ry="6.0" fill="#2a94c6"/><ellipse cx="1695.0" cy="676.0" rx="12.5" ry="6.0" fill="#2a94c6"/><ellipse cx="1695.0" cy="684.0" rx="12.5" ry="6.0" fill="#2a94c6"/><ellipse cx="1695.0" cy="692.0" rx="12.5" ry="6.0" fill="#2f88bd"/><ellipse cx="1695.0" cy="700.0" rx="12.5" ry="6.0" fill="#2f88bd"/><ellipse cx="1695.0" cy="708.0" rx="12.5" ry="6.0" fill="#2f88bd"/><ellipse cx="1695.0" cy="716.0" rx="12.5" ry="6.0" fill="#2a94c6"/><ellipse cx="1695.0" cy="724.0" rx="12.5" ry="6.0" fill="#2a94c6"/><ellipse cx="1695.0" cy="722.0" rx="12.0" ry="6.0" fill="#2f88bd"/><ellipse cx="1646.0" cy="711.0" rx="17.0" ry="5.0" fill="#2f88bd"/><rect x="1572.0" y="685.0" width="36.2" height="5.4" fill="#3a72a5"/><rect x="1572.0" y="685.0" width="18.8" height="5.4" fill="#357bac"/><rect x="1572.0" y="689.4" width="32.7" height="7.3" fill="#357bac"/><rect x="1572.0" y="689.4" width="11.3" height="7.3" fill="#357bac"/><rect x="1572.0" y="695.7" width="20.9" height="5.7" fill="#3a72a5"/><rect x="1572.0" y="695.7" width="11.1" height="5.7" fill="#2f88bd"/><rect x="1572.0" y="700.3" width="34.2" height="9.4" fill="#2f88bd"/><rect x="1572.0" y="700.3" width="12.4" height="9.4" fill="#357bac"/><rect x="1572.0" y="708.8" width="33.1" height="7.1" fill="#3a72a5"/><rect x="1572.0" y="708.8" width="17.6" height="7.1" fill="#357bac"/><rect x="1572.0" y="714.9" width="27.1" height="6.7" fill="#3a72a5"/><rect x="1572.0" y="714.9" width="9.8" height="6.7" fill="#357bac"/><rect x="1572.0" y="720.6" width="35.8" height="5.3" fill="#357bac"/><rect x="1572.0" y="720.6" width="19.8" height="5.3" fill="#357bac"/><rect x="1572.0" y="724.9" width="20.4" height="7.1" fill="#3a72a5"/><rect x="1572.0" y="724.9" width="12.0" height="7.1" fill="#357bac"/><rect x="1572.0" y="731.0" width="22.2" height="7.9" fill="#357bac"/><rect x="1572.0" y="731.0" width="8.9" height="7.9" fill="#357bac"/><rect x="1572.0" y="737.9" width="22.4" height="9.6" fill="#3a72a5"/><rect x="1572.0" y="737.9" width="10.6" height="9.6" fill="#357bac"/><rect x="1572.0" y="746.5" width="36.6" height="7.1" fill="#357bac"/><rect x="1572.0" y="746.5" width="13.1" height="7.1" fill="#357bac"/><rect x="1572.0" y="752.6" width="32.6" height="5.7" fill="#3a72a5"/><rect x="1572.0" y="752.6" width="10.3" height="5.7" fill="#357bac"/><rect x="1572.0" y="757.3" width="32.3" height="9.3" fill="#2f88bd"/><rect x="1572.0" y="757.3" width="16.8" height="9.3" fill="#357bac"/><rect x="1572.0" y="765.5" width="42.0" height="5.6" fill="#357bac"/><rect x="1572.0" y="765.5" width="24.6" height="5.6" fill="#357bac"/><rect x="1572.0" y="770.2" width="30.3" height="7.5" fill="#2f88bd"/><rect x="1572.0" y="770.2" width="16.8" height="7.5" fill="#357bac"/><rect x="1572.0" y="776.7" width="36.3" height="8.9" fill="#3a72a5"/><rect x="1572.0" y="776.7" width="20.3" height="8.9" fill="#357bac"/><rect x="1572.0" y="784.6" width="40.1" height="7.9" fill="#357bac"/><rect x="1572.0" y="784.6" width="14.6" height="7.9" fill="#357bac"/><rect x="1572.0" y="791.5" width="41.8" height="7.9" fill="#3a72a5"/><rect x="1572.0" y="791.5" width="17.3" height="7.9" fill="#357bac"/><rect x="1572.0" y="798.3" width="32.6" height="7.2" fill="#357bac"/><rect x="1572.0" y="798.3" width="11.9" height="7.2" fill="#2f88bd"/><rect x="1572.0" y="804.5" width="32.5" height="5.4" fill="#2f88bd"/><rect x="1572.0" y="804.5" width="10.8" height="5.4" fill="#357bac"/><rect x="1572.0" y="809.0" width="28.4" height="8.9" fill="#357bac"/><rect x="1572.0" y="809.0" width="12.7" height="8.9" fill="#357bac"/><rect x="1572.0" y="816.9" width="38.9" height="7.8" fill="#3a72a5"/><rect x="1572.0" y="816.9" width="16.6" height="7.8" fill="#357bac"/><rect x="1572.0" y="823.7" width="29.3" height="8.8" fill="#2f88bd"/><rect x="1572.0" y="823.7" width="17.2" height="8.8" fill="#357bac"/><rect x="1572.0" y="831.5" width="33.2" height="8.3" fill="#357bac"/><rect x="1572.0" y="831.5" width="16.8" height="8.3" fill="#2f88bd"/><rect x="1572.0" y="838.8" width="28.4" height="9.7" fill="#357bac"/><rect x="1572.0" y="838.8" width="10.8" height="9.7" fill="#357bac"/><rect x="1572.0" y="847.5" width="41.8" height="8.0" fill="#3a72a5"/><rect x="1572.0" y="847.5" width="13.2" height="8.0" fill="#2f88bd"/><rect x="1572.0" y="854.6" width="30.9" height="6.9" fill="#3a72a5"/><rect x="1572.0" y="854.6" width="18.2" height="6.9" fill="#2f88bd"/><rect x="1572.0" y="860.5" width="32.0" height="7.4" fill="#2f88bd"/><rect x="1572.0" y="860.5" width="10.9" height="7.4" fill="#357bac"/><rect x="1572.0" y="866.9" width="38.5" height="6.5" fill="#3a72a5"/><rect x="1572.0" y="866.9" width="12.3" height="6.5" fill="#2f88bd"/><rect x="1572.0" y="872.4" width="30.0" height="7.8" fill="#357bac"/><rect x="1572.0" y="872.4" width="14.3" height="7.8" fill="#357bac"/><rect x="1572.0" y="879.2" width="37.3" height="6.4" fill="#357bac"/><rect x="1572.0" y="879.2" width="15.1" height="6.4" fill="#357bac"/><rect x="1572.0" y="884.6" width="31.9" height="5.6" fill="#3a72a5"/><rect x="1572.0" y="884.6" width="11.1" height="5.6" fill="#357bac"/><rect x="1572.0" y="889.2" width="40.0" height="6.0" fill="#357bac"/><rect x="1572.0" y="889.2" width="17.5" height="6.0" fill="#357bac"/><rect x="1572.0" y="894.2" width="35.6" height="5.4" fill="#357bac"/><rect x="1572.0" y="894.2" width="17.0" height="5.4" fill="#2f88bd"/><rect x="1572.0" y="898.6" width="35.5" height="9.7" fill="#3a72a5"/><rect x="1572.0" y="898.6" width="16.8" height="9.7" fill="#357bac"/><rect x="1572.0" y="907.3" width="40.4" height="7.7" fill="#3a72a5"/><rect x="1572.0" y="907.3" width="22.8" height="7.7" fill="#2f88bd"/><rect x="1572.0" y="914.1" width="35.6" height="6.5" fill="#357bac"/><rect x="1572.0" y="914.1" width="18.4" height="6.5" fill="#357bac"/><rect x="1572.0" y="919.6" width="29.4" height="7.5" fill="#3a72a5"/><rect x="1572.0" y="919.6" width="13.1" height="7.5" fill="#2f88bd"/><rect x="1572.0" y="926.0" width="38.2" height="8.4" fill="#3a72a5"/><rect x="1572.0" y="926.0" width="15.7" height="8.4" fill="#3a72a5"/><rect x="1572.0" y="933.4" width="31.2" height="9.1" fill="#2f88bd"/><rect x="1572.0" y="933.4" width="17.6" height="9.1" fill="#357bac"/><rect x="1572.0" y="941.5" width="36.7" height="5.4" fill="#3a72a5"/><rect x="1572.0" y="941.5" width="18.5" height="5.4" fill="#3a72a5"/><rect x="1572.0" y="946.0" width="36.2" height="5.4" fill="#3a72a5"/><rect x="1572.0" y="946.0" width="17.5" height="5.4" fill="#357bac"/><rect x="1572.0" y="950.4" width="29.2" height="5.1" fill="#2f88bd"/><rect x="1572.0" y="950.4" width="13.5" height="5.1" fill="#3a72a5"/><rect x="1572.0" y="954.5" width="28.4" height="8.9" fill="#3a72a5"/><rect x="1572.0" y="954.5" width="9.2" height="8.9" fill="#3a72a5"/><rect x="1572.0" y="962.4" width="28.1" height="9.8" fill="#357bac"/><rect x="1572.0" y="962.4" width="16.7" height="9.8" fill="#3a72a5"/><rect x="1572.0" y="971.2" width="39.7" height="5.5" fill="#3a72a5"/><rect x="1572.0" y="971.2" width="19.9" height="5.5" fill="#3a72a5"/><rect x="1572.0" y="975.7" width="38.9" height="6.0" fill="#357bac"/><rect x="1572.0" y="975.7" width="12.9" height="6.0" fill="#357bac"/><rect x="1572.0" y="980.7" width="29.7" height="9.7" fill="#3a72a5"/><rect x="1572.0" y="980.7" width="12.2" height="9.7" fill="#2f88bd"/><rect x="1572.0" y="989.3" width="28.3" height="8.1" fill="#357bac"/><rect x="1572.0" y="989.3" width="11.6" height="8.1" fill="#2f88bd"/><rect x="1572.0" y="996.5" width="29.1" height="5.0" fill="#357bac"/><rect x="1572.0" y="996.5" width="8.9" height="5.0" fill="#3a72a5"/><rect x="1572.0" y="1000.5" width="41.2" height="5.1" fill="#3a72a5"/><rect x="1572.0" y="1000.5" width="18.8" height="5.1" fill="#3a72a5"/><rect x="1572.0" y="1004.6" width="28.8" height="6.3" fill="#3a72a5"/><rect x="1572.0" y="1004.6" width="13.9" height="6.3" fill="#357bac"/><rect x="1572.0" y="1009.9" width="36.9" height="8.4" fill="#357bac"/><rect x="1572.0" y="1009.9" width="14.4" height="8.4" fill="#357bac"/><rect x="1572.0" y="1017.3" width="41.7" height="8.9" fill="#2f88bd"/><rect x="1572.0" y="1017.3" width="24.1" height="8.9" fill="#3a72a5"/><rect x="1572.0" y="1025.2" width="41.5" height="5.5" fill="#3a72a5"/><rect x="1572.0" y="1025.2" width="17.9" height="5.5" fill="#3a72a5"/><rect x="1572.0" y="1029.7" width="36.5" height="7.5" fill="#3a72a5"/><rect x="1572.0" y="1029.7" width="20.6" height="7.5" fill="#3a72a5"/><rect x="1572.0" y="1036.1" width="34.0" height="5.4" fill="#3a72a5"/><rect x="1572.0" y="1036.1" width="14.9" height="5.4" fill="#2f88bd"/><rect x="1572.0" y="1040.5" width="40.9" height="7.3" fill="#2f88bd"/><rect x="1572.0" y="1040.5" width="14.6" height="7.3" fill="#3a72a5"/><rect x="1572.0" y="1046.8" width="28.8" height="5.5" fill="#3a72a5"/><rect x="1572.0" y="1046.8" width="13.4" height="5.5" fill="#357bac"/><rect x="1572.0" y="1051.3" width="31.0" height="6.8" fill="#357bac"/><rect x="1572.0" y="1051.3" width="18.1" height="6.8" fill="#357bac"/><rect x="1572.0" y="1057.1" width="32.7" height="7.2" fill="#2f88bd"/><rect x="1572.0" y="1057.1" width="11.9" height="7.2" fill="#2f88bd"/><rect x="1572.0" y="1063.3" width="38.8" height="5.4" fill="#2f88bd"/><rect x="1572.0" y="1063.3" width="17.1" height="5.4" fill="#2f88bd"/><rect x="1572.0" y="1067.7" width="32.5" height="9.2" fill="#3a72a5"/><rect x="1572.0" y="1067.7" width="14.3" height="9.2" fill="#357bac"/><rect x="1572.0" y="1075.9" width="32.0" height="7.7" fill="#3a72a5"/><rect x="1572.0" y="1075.9" width="11.7" height="7.7" fill="#3a72a5"/><rect x="1572.0" y="1082.5" width="28.6" height="5.7" fill="#357bac"/><rect x="1572.0" y="1082.5" width="14.5" height="5.7" fill="#2f88bd"/><rect x="1572.0" y="1087.3" width="39.5" height="10.0" fill="#2f88bd"/><rect x="1572.0" y="1087.3" width="16.5" height="10.0" fill="#2f88bd"/><rect x="1572.0" y="1096.3" width="35.1" height="5.7" fill="#3a72a5"/><rect x="1572.0" y="1096.3" width="14.3" height="5.7" fill="#3a72a5"/><rect x="1572.0" y="1100.9" width="30.8" height="9.6" fill="#357bac"/><rect x="1572.0" y="1100.9" width="16.6" height="9.6" fill="#357bac"/><rect x="1572.0" y="1109.5" width="36.0" height="5.0" fill="#3a72a5"/><rect x="1572.0" y="1109.5" width="13.8" height="5.0" fill="#2f88bd"/><rect x="1572.0" y="1113.6" width="40.1" height="8.4" fill="#3a72a5"/><rect x="1572.0" y="1113.6" width="15.3" height="8.4" fill="#357bac"/><rect x="1572.0" y="1121.0" width="35.3" height="7.4" fill="#357bac"/><rect x="1572.0" y="1121.0" width="12.5" height="7.4" fill="#357bac"/><rect x="1572.0" y="1127.3" width="40.0" height="6.7" fill="#3a72a5"/><rect x="1572.0" y="1127.3" width="18.5" height="6.7" fill="#3a72a5"/><rect x="1572.0" y="1133.1" width="25.5" height="5.9" fill="#3a72a5"/><rect x="1572.0" y="1133.1" width="11.1" height="5.9" fill="#3a72a5"/><rect x="1572.0" y="1138.0" width="29.2" height="7.7" fill="#2f88bd"/><rect x="1572.0" y="1138.0" width="10.7" height="7.7" fill="#357bac"/><rect x="1572.0" y="1144.7" width="41.8" height="7.8" fill="#3a72a5"/><rect x="1572.0" y="1144.7" width="23.1" height="7.8" fill="#357bac"/><rect x="1572.0" y="1151.6" width="43.7" height="8.6" fill="#2a94c6"/><rect x="1572.0" y="1151.6" width="18.0" height="8.6" fill="#2f88bd"/><rect x="1572.0" y="1159.2" width="41.2" height="7.0" fill="#2a94c6"/><rect x="1572.0" y="1159.2" width="17.7" height="7.0" fill="#2a94c6"/><rect x="1572.0" y="1165.1" width="44.3" height="7.8" fill="#2f88bd"/><rect x="1572.0" y="1165.1" width="26.1" height="7.8" fill="#2f88bd"/><rect x="1572.0" y="1171.9" width="42.8" height="6.3" fill="#2f88bd"/><rect x="1572.0" y="1171.9" width="22.7" height="6.3" fill="#2a94c6"/><rect x="1572.0" y="1177.2" width="28.7" height="7.7" fill="#2f88bd"/><rect x="1572.0" y="1177.2" width="14.4" height="7.7" fill="#2f88bd"/><rect x="1572.0" y="1183.9" width="25.6" height="8.6" fill="#2f88bd"/><rect x="1572.0" y="1183.9" width="12.7" height="8.6" fill="#2f88bd"/><rect x="1572.0" y="1191.5" width="30.7" height="5.6" fill="#2f88bd"/><rect x="1572.0" y="1191.5" width="12.8" height="5.6" fill="#2f88bd"/><rect x="1572.0" y="1196.1" width="33.1" height="8.9" fill="#2a94c6"/><rect x="1572.0" y="1196.1" width="14.5" height="8.9" fill="#2a94c6"/><rect x="1572.0" y="1204.0" width="25.8" height="5.9" fill="#2f88bd"/><rect x="1572.0" y="1204.0" width="14.6" height="5.9" fill="#2a94c6"/><rect x="1572.0" y="1208.9" width="29.0" height="8.3" fill="#2a94c6"/><rect x="1572.0" y="1208.9" width="16.0" height="8.3" fill="#2a94c6"/><rect x="1572.0" y="1216.2" width="28.0" height="6.9" fill="#2a94c6"/><rect x="1572.0" y="1216.2" width="9.6" height="6.9" fill="#2f88bd"/><rect x="1572.0" y="1222.1" width="34.6" height="5.9" fill="#357bac"/><rect x="1572.0" y="1222.1" width="15.7" height="5.9" fill="#2f88bd"/><rect x="1572.0" y="1227.0" width="35.4" height="6.3" fill="#2f88bd"/><rect x="1572.0" y="1227.0" width="16.3" height="6.3" fill="#2f88bd"/><rect x="1572.0" y="1232.3" width="39.8" height="8.2" fill="#2a94c6"/><rect x="1572.0" y="1232.3" width="15.6" height="8.2" fill="#2f88bd"/><rect x="1572.0" y="1239.5" width="29.1" height="5.1" fill="#2a94c6"/><rect x="1572.0" y="1239.5" width="15.0" height="5.1" fill="#2f88bd"/><rect x="1572.0" y="1243.6" width="31.2" height="6.1" fill="#2f88bd"/><rect x="1572.0" y="1243.6" width="15.6" height="6.1" fill="#2f88bd"/><rect x="1572.0" y="1248.7" width="43.7" height="6.9" fill="#2f88bd"/><rect x="1572.0" y="1248.7" width="17.4" height="6.9" fill="#2f88bd"/><rect x="1572.0" y="1254.6" width="36.1" height="5.1" fill="#2f88bd"/><rect x="1572.0" y="1254.6" width="11.8" height="5.1" fill="#2f88bd"/><rect x="1572.0" y="1258.7" width="25.4" height="9.2" fill="#2a94c6"/><rect x="1572.0" y="1258.7" width="10.3" height="9.2" fill="#2a94c6"/><rect x="1572.0" y="1266.9" width="40.5" height="9.5" fill="#357bac"/><rect x="1572.0" y="1266.9" width="20.7" height="9.5" fill="#2a94c6"/><rect x="1573.4" y="1275.4" width="33.5" height="5.9" fill="#2f88bd"/><rect x="1573.4" y="1275.4" width="15.8" height="5.9" fill="#2a94c6"/><rect x="1573.6" y="1280.3" width="36.5" height="7.1" fill="#2f88bd"/><rect x="1573.6" y="1280.3" width="20.8" height="7.1" fill="#2f88bd"/><rect x="1574.0" y="1286.4" width="39.5" height="7.6" fill="#2a94c6"/><rect x="1574.0" y="1286.4" width="12.2" height="7.6" fill="#2a94c6"/><rect x="1574.3" y="1293.0" width="31.3" height="7.3" fill="#2f88bd"/><rect x="1574.3" y="1293.0" width="13.5" height="7.3" fill="#2a94c6"/><rect x="1574.7" y="1299.3" width="33.5" height="8.8" fill="#357bac"/><rect x="1574.7" y="1299.3" width="18.9" height="8.8" fill="#2a94c6"/><rect x="1575.1" y="1307.1" width="38.6" height="6.1" fill="#2f88bd"/><rect x="1575.1" y="1307.1" width="15.8" height="6.1" fill="#2f88bd"/><rect x="1575.4" y="1312.2" width="26.3" height="9.8" fill="#2a94c6"/><rect x="1575.4" y="1312.2" width="11.9" height="9.8" fill="#2a94c6"/><rect x="1575.9" y="1321.0" width="28.7" height="8.2" fill="#2f88bd"/><rect x="1575.9" y="1321.0" width="12.2" height="8.2" fill="#2f88bd"/><rect x="1576.3" y="1328.2" width="31.2" height="5.4" fill="#2f88bd"/><rect x="1576.3" y="1328.2" width="18.2" height="5.4" fill="#2a94c6"/><rect x="1576.5" y="1332.6" width="59.1" height="9.9" fill="#2a94c6"/><rect x="1576.5" y="1332.6" width="28.5" height="9.9" fill="#2a94c6"/><rect x="1577.0" y="1341.5" width="45.8" height="5.0" fill="#2f88bd"/><rect x="1577.0" y="1341.5" width="21.9" height="5.0" fill="#2a94c6"/><rect x="1577.2" y="1345.6" width="44.0" height="8.1" fill="#25a3d3"/><rect x="1577.2" y="1345.6" width="19.9" height="8.1" fill="#25a3d3"/><rect x="1577.6" y="1352.6" width="59.4" height="5.9" fill="#2f88bd"/><rect x="1577.6" y="1352.6" width="27.2" height="5.9" fill="#25a3d3"/><rect x="1577.9" y="1357.5" width="46.2" height="9.3" fill="#25a3d3"/><rect x="1577.9" y="1357.5" width="26.2" height="9.3" fill="#2a94c6"/><rect x="1578.3" y="1365.8" width="46.1" height="6.4" fill="#25a3d3"/><rect x="1578.3" y="1365.8" width="25.0" height="6.4" fill="#25a3d3"/><rect x="1578.6" y="1371.3" width="52.9" height="6.6" fill="#25a3d3"/><rect x="1578.6" y="1371.3" width="16.8" height="6.6" fill="#25a3d3"/><rect x="1578.9" y="1376.8" width="52.7" height="7.4" fill="#2f88bd"/><rect x="1578.9" y="1376.8" width="17.1" height="7.4" fill="#25a3d3"/><rect x="1579.3" y="1383.2" width="46.7" height="9.0" fill="#2a94c6"/><rect x="1579.3" y="1383.2" width="22.3" height="9.0" fill="#25a3d3"/><rect x="1579.7" y="1391.2" width="52.2" height="10.0" fill="#25a3d3"/><rect x="1579.7" y="1391.2" width="26.6" height="10.0" fill="#25a3d3"/><rect x="1580.2" y="1400.2" width="49.9" height="5.6" fill="#2f88bd"/><rect x="1580.2" y="1400.2" width="25.5" height="5.6" fill="#2a94c6"/><rect x="1580.5" y="1404.7" width="54.0" height="5.4" fill="#2a94c6"/><rect x="1580.5" y="1404.7" width="28.6" height="5.4" fill="#2a94c6"/><rect x="1580.7" y="1409.1" width="45.5" height="9.2" fill="#2a94c6"/><rect x="1580.7" y="1409.1" width="20.6" height="9.2" fill="#2a94c6"/><rect x="1581.2" y="1417.4" width="57.7" height="9.8" fill="#2a94c6"/><rect x="1581.2" y="1417.4" width="22.9" height="9.8" fill="#2a94c6"/><rect x="1581.6" y="1426.1" width="43.2" height="9.9" fill="#2a94c6"/><rect x="1581.6" y="1426.1" width="17.3" height="9.9" fill="#2a94c6"/><rect x="1582.1" y="1435.0" width="57.6" height="6.6" fill="#2a94c6"/><rect x="1582.1" y="1435.0" width="33.0" height="6.6" fill="#25a3d3"/><rect x="1582.4" y="1440.7" width="45.1" height="9.0" fill="#25a3d3"/><rect x="1582.4" y="1440.7" width="24.5" height="9.0" fill="#2a94c6"/><rect x="1582.9" y="1448.6" width="46.1" height="6.2" fill="#2a94c6"/><rect x="1582.9" y="1448.6" width="25.1" height="6.2" fill="#2a94c6"/><rect x="1583.2" y="1453.8" width="50.2" height="9.9" fill="#2a94c6"/><rect x="1583.2" y="1453.8" width="27.6" height="9.9" fill="#2a94c6"/><rect x="1583.7" y="1462.7" width="51.5" height="5.4" fill="#2a94c6"/><rect x="1583.7" y="1462.7" width="15.6" height="5.4" fill="#2a94c6"/><rect x="1583.9" y="1467.1" width="55.5" height="7.2" fill="#2a94c6"/><rect x="1583.9" y="1467.1" width="19.3" height="7.2" fill="#2a94c6"/><rect x="1584.2" y="1473.4" width="45.3" height="9.9" fill="#2f88bd"/><rect x="1584.2" y="1473.4" width="23.9" height="9.9" fill="#2a94c6"/><rect x="1584.7" y="1482.3" width="45.0" height="6.9" fill="#2a94c6"/><rect x="1584.7" y="1482.3" width="16.2" height="6.9" fill="#25a3d3"/><rect x="1585.1" y="1488.2" width="59.5" height="8.7" fill="#25a3d3"/><rect x="1585.1" y="1488.2" width="27.9" height="8.7" fill="#2a94c6"/><rect x="1585.5" y="1495.9" width="48.2" height="8.6" fill="#2a94c6"/><rect x="1585.5" y="1495.9" width="21.2" height="8.6" fill="#2a94c6"/><rect x="1585.9" y="1503.4" width="65.9" height="6.3" fill="#2a94c6"/><rect x="1585.9" y="1503.4" width="34.1" height="6.3" fill="#2a94c6"/><rect x="1586.2" y="1508.7" width="67.6" height="8.0" fill="#25a3d3"/><rect x="1586.2" y="1508.7" width="23.0" height="8.0" fill="#2a94c6"/><rect x="1586.6" y="1515.8" width="48.7" height="5.5" fill="#25a3d3"/><rect x="1586.6" y="1515.8" width="20.4" height="5.5" fill="#2a94c6"/><rect x="1586.8" y="1520.3" width="49.0" height="6.7" fill="#2a94c6"/><rect x="1586.8" y="1520.3" width="20.0" height="6.7" fill="#25a3d3"/><rect x="1587.1" y="1526.0" width="47.5" height="5.4" fill="#2a94c6"/><rect x="1587.1" y="1526.0" width="22.3" height="5.4" fill="#2a94c6"/><rect x="1587.4" y="1530.4" width="64.4" height="8.4" fill="#2f88bd"/><rect x="1587.4" y="1530.4" width="31.4" height="8.4" fill="#2a94c6"/><rect x="1587.8" y="1537.8" width="65.5" height="6.7" fill="#2a94c6"/><rect x="1587.8" y="1537.8" width="20.9" height="6.7" fill="#2a94c6"/><rect x="1588.1" y="1543.5" width="53.0" height="5.8" fill="#2f88bd"/><rect x="1588.1" y="1543.5" width="16.3" height="5.8" fill="#25a3d3"/><rect x="1588.4" y="1548.3" width="49.6" height="9.5" fill="#2a94c6"/><rect x="1588.4" y="1548.3" width="23.9" height="9.5" fill="#25a3d3"/><rect x="1588.8" y="1556.7" width="72.2" height="5.6" fill="#2a94c6"/><rect x="1588.8" y="1556.7" width="34.4" height="5.6" fill="#2a94c6"/><rect x="1589.1" y="1561.4" width="47.2" height="5.7" fill="#2f88bd"/><rect x="1589.1" y="1561.4" width="23.3" height="5.7" fill="#2a94c6"/><rect x="1589.3" y="1566.1" width="49.3" height="7.7" fill="#2f88bd"/><rect x="1589.3" y="1566.1" width="20.2" height="7.7" fill="#2a94c6"/><rect x="1589.7" y="1572.8" width="62.0" height="8.2" fill="#2f88bd"/><rect x="1589.7" y="1572.8" width="18.6" height="8.2" fill="#2a94c6"/><rect x="1590.1" y="1580.0" width="71.2" height="8.7" fill="#2a94c6"/><rect x="1590.1" y="1580.0" width="41.6" height="8.7" fill="#2a94c6"/><rect x="1590.5" y="1587.7" width="51.0" height="8.4" fill="#2f88bd"/><rect x="1590.5" y="1587.7" width="26.6" height="8.4" fill="#2a94c6"/><rect x="1590.9" y="1595.1" width="50.7" height="8.8" fill="#2f88bd"/><rect x="1590.9" y="1595.1" width="26.3" height="8.8" fill="#2a94c6"/><rect x="1591.4" y="1602.9" width="70.5" height="8.6" fill="#2f88bd"/><rect x="1591.4" y="1602.9" width="36.9" height="8.6" fill="#2a94c6"/><ellipse cx="1624.0" cy="857.0" rx="6.0" ry="11.0" fill="#357bac"/><ellipse cx="1662.0" cy="1029.0" rx="17.0" ry="7.0" fill="#357bac"/><ellipse cx="1662.0" cy="1060.5" rx="17.0" ry="11.5" fill="#2f88bd"/><ellipse cx="1714.0" cy="1089.0" rx="32.0" ry="19.0" fill="#2a94c6"/><ellipse cx="1714.0" cy="1149.0" rx="15.0" ry="4.0" fill="#2f88bd"/><ellipse cx="1714.0" cy="1186.0" rx="15.0" ry="4.0" fill="#2f88bd"/><ellipse cx="1714.0" cy="1211.0" rx="15.0" ry="4.0" fill="#2f88bd"/><ellipse cx="1667.0" cy="1232.5" rx="22.0" ry="7.5" fill="#357bac"/><ellipse cx="1675.0" cy="1259.0" rx="14.0" ry="21.0" fill="#2f88bd"/><ellipse cx="1666.0" cy="1289.5" rx="23.0" ry="14.5" fill="#357bac"/><ellipse cx="1662.0" cy="1320.5" rx="17.0" ry="5.5" fill="#357bac"/><ellipse cx="1714.0" cy="1336.0" rx="32.0" ry="8.0" fill="#2f88bd"/><ellipse cx="1661.0" cy="1346.0" rx="18.0" ry="11.0" fill="#2f88bd"/><ellipse cx="1661.0" cy="1376.0" rx="18.0" ry="17.0" fill="#2f88bd"/><ellipse cx="1653.0" cy="1400.0" rx="24.0" ry="11.0" fill="#2f88bd"/><ellipse cx="1714.0" cy="1423.0" rx="31.0" ry="18.0" fill="#2a94c6"/><ellipse cx="1642.0" cy="1420.5" rx="21.0" ry="8.5" fill="#2f88bd"/><ellipse cx="1714.0" cy="1452.5" rx="27.0" ry="6.5" fill="#2f88bd"/><ellipse cx="1714.0" cy="1494.0" rx="32.0" ry="17.0" fill="#2a94c6"/><ellipse cx="1714.0" cy="1544.5" rx="32.0" ry="28.5" fill="#2a94c6"/><ellipse cx="1714.0" cy="1553.0" rx="54.0" ry="17.0" fill="#2a94c6"/><ellipse cx="1645.0" cy="1514.5" rx="14.0" ry="7.5" fill="#357bac"/><ellipse cx="1616.0" cy="1221.0" rx="17.0" ry="12.0" fill="#2f88bd"/><ellipse cx="1621.0" cy="1199.0" rx="10.0" ry="5.0" fill="#2f88bd"/><ellipse cx="1617.0" cy="1130.0" rx="6.0" ry="11.0" fill="#357bac"/><ellipse cx="1620.0" cy="1612.0" rx="27.0" ry="15.0" fill="#2a94c6"/><ellipse cx="1615.6" cy="1638.0" rx="22.0" ry="7.0" fill="#2a94c6"/><ellipse cx="1624.0" cy="1658.0" rx="28.0" ry="7.0" fill="#2a94c6"/><ellipse cx="1621.0" cy="1675.0" rx="23.0" ry="7.0" fill="#2a94c6"/><ellipse cx="1621.0" cy="1695.0" rx="23.0" ry="9.0" fill="#2a94c6"/><ellipse cx="1689.0" cy="1683.0" rx="23.0" ry="7.0" fill="#2caedb"/><ellipse cx="1611.0" cy="1338.0" rx="13.0" ry="8.0" fill="#4ce035"/><ellipse cx="1612.0" cy="1338.0" rx="11.0" ry="5.0" fill="#e4e43a"/><ellipse cx="1600.0" cy="1404.0" rx="16.0" ry="8.0" fill="#37ab2a"/><ellipse cx="1600.0" cy="1398.0" rx="16.0" ry="8.0" fill="#d1ac20"/><ellipse cx="1616.0" cy="1455.0" rx="18.0" ry="8.0" fill="#37ab2a"/><ellipse cx="1616.0" cy="1456.0" rx="12.0" ry="4.0" fill="#2b8420"/><ellipse cx="1608.0" cy="1508.0" rx="19.0" ry="8.0" fill="#4ce035"/><ellipse cx="1614.0" cy="1547.0" rx="20.0" ry="4.0" fill="#4ce035"/><ellipse cx="1607.0" cy="1579.0" rx="13.0" ry="4.0" fill="#4ce035"/><ellipse cx="1596.0" cy="1524.0" rx="13.0" ry="2.5" fill="#4ce035"/><ellipse cx="1602.0" cy="958.0" rx="4.0" ry="4.0" fill="#d1ac20"/><ellipse cx="1596.0" cy="964.0" rx="7.0" ry="3.0" fill="#4ce035"/><ellipse cx="1613.0" cy="951.0" rx="5.0" ry="2.0" fill="#4ce035"/><ellipse cx="1583.0" cy="1150.0" rx="5.0" ry="2.5" fill="#4ce035"/><ellipse cx="1587.0" cy="1281.0" rx="7.0" ry="3.0" fill="#4ce035"/><ellipse cx="1585.0" cy="1295.0" rx="8.0" ry="3.0" fill="#4ce035"/><ellipse cx="1586.0" cy="1369.0" rx="6.0" ry="3.0" fill="#4ce035"/><ellipse cx="1581.0" cy="765.0" rx="7.0" ry="3.0" fill="#37ab2a"/><rect x="1573.0" y="781.0" width="10.0" height="2.0" fill="#4ce035"/><rect x="1573.0" y="790.0" width="10.0" height="2.0" fill="#4ce035"/><rect x="1573.0" y="800.0" width="10.0" height="2.0" fill="#4ce035"/><rect x="1573.0" y="806.0" width="10.0" height="2.0" fill="#4ce035"/><rect x="1573.0" y="812.0" width="10.0" height="2.0" fill="#4ce035"/>
<path d="M1620.4 219.5V1759.5 M1670.6 219.5V1759.5" stroke="#fff" stroke-width="1.2" fill="none"/>
<text class="s" x="0.0" y="0.0" font-size="25.00" textLength="55.0" lengthAdjust="spacingAndGlyphs" fill="#fff" transform="translate(1597.5 223) rotate(90)">5 km</text>
<text class="s" x="0.0" y="0.0" font-size="25.00" textLength="68.5" lengthAdjust="spacingAndGlyphs" fill="#fff" transform="translate(1647.5 223) rotate(90)">10 km</text>
<text class="s" x="0.0" y="0.0" font-size="25.00" textLength="68.5" lengthAdjust="spacingAndGlyphs" fill="#fff" transform="translate(1697.5 223) rotate(90)">15 km</text>
</g>
<rect x="1569.5" y="219.85" width="151.5" height="1540.1" fill="none" stroke="#000" stroke-width="2.3"/>
<rect x="1721" y="1638.89" width="36.5" height="120.91" fill="#3f406d"/>
<rect x="1721" y="1566.70" width="36.5" height="72.79" fill="#3f4e7a"/>
<rect x="1721" y="1494.51" width="36.5" height="72.79" fill="#3e598a"/>
<rect x="1721" y="1422.33" width="36.5" height="72.79" fill="#3d6599"/>
<rect x="1721" y="1350.14" width="36.5" height="72.79" fill="#3a72a5"/>
<rect x="1721" y="1302.01" width="36.5" height="48.73" fill="#357bac"/>
<rect x="1721" y="1253.89" width="36.5" height="48.73" fill="#2f88bd"/>
<rect x="1721" y="1205.76" width="36.5" height="48.73" fill="#2a94c6"/>
<rect x="1721" y="1181.70" width="36.5" height="24.66" fill="#25a3d3"/>
<rect x="1721" y="1157.64" width="36.5" height="24.66" fill="#2caedb"/>
<rect x="1721" y="1133.58" width="36.5" height="24.66" fill="#55f23a"/>
<rect x="1721" y="1109.51" width="36.5" height="24.66" fill="#4ce035"/>
<rect x="1721" y="1085.45" width="36.5" height="24.66" fill="#46cf32"/>
<rect x="1721" y="1061.39" width="36.5" height="24.66" fill="#3ebc2e"/>
<rect x="1721" y="1037.33" width="36.5" height="24.66" fill="#37ab2a"/>
<rect x="1721" y="1013.26" width="36.5" height="24.66" fill="#309a24"/>
<rect x="1721" y="989.20" width="36.5" height="24.66" fill="#2b8420"/>
<rect x="1721" y="965.14" width="36.5" height="24.66" fill="#23701a"/>
<rect x="1721" y="941.08" width="36.5" height="24.66" fill="#f0ee3e"/>
<rect x="1721" y="917.01" width="36.5" height="24.66" fill="#e4e43a"/>
<rect x="1721" y="892.95" width="36.5" height="24.66" fill="#d8da36"/>
<rect x="1721" y="868.89" width="36.5" height="24.66" fill="#cfd232"/>
<rect x="1721" y="844.83" width="36.5" height="24.66" fill="#c3c42d"/>
<rect x="1721" y="820.76" width="36.5" height="24.66" fill="#d1ac20"/>
<rect x="1721" y="796.70" width="36.5" height="24.66" fill="#d8931a"/>
<rect x="1721" y="772.64" width="36.5" height="24.66" fill="#de7f16"/>
<rect x="1721" y="748.58" width="36.5" height="24.66" fill="#ea0a2e"/>
<rect x="1721" y="724.51" width="36.5" height="24.66" fill="#cc001c"/>
<rect x="1721" y="700.45" width="36.5" height="24.66" fill="#c00016"/>
<rect x="1721" y="676.39" width="36.5" height="24.66" fill="#b0000a"/>
<rect x="1721" y="652.33" width="36.5" height="24.66" fill="#9a0000"/>
<rect x="1721" y="628.26" width="36.5" height="24.66" fill="#c20060"/>
<rect x="1721" y="604.20" width="36.5" height="24.66" fill="#d8009c"/>
<rect x="1721" y="580.14" width="36.5" height="24.66" fill="#e800e8"/>
<rect x="1721" y="556.08" width="36.5" height="24.66" fill="#cc00cc"/>
<rect x="1721" y="532.01" width="36.5" height="24.66" fill="#b200b2"/>
<rect x="1721" y="507.95" width="36.5" height="24.66" fill="#990099"/>
<rect x="1721" y="483.89" width="36.5" height="24.66" fill="#ffffff"/>
<rect x="1721" y="459.82" width="36.5" height="24.66" fill="#e0f6ec"/>
<rect x="1721" y="435.76" width="36.5" height="24.66" fill="#c6f2e1"/>
<rect x="1721" y="411.70" width="36.5" height="24.66" fill="#b4eed8"/>
<rect x="1721" y="387.64" width="36.5" height="24.66" fill="#a6ebd1"/>
<rect x="1721" y="339.51" width="36.5" height="48.73" fill="#93e3c6"/>
<rect x="1721" y="219.20" width="36.5" height="120.91" fill="#88dfbe"/>
<rect x="1720.5" y="219.95" width="37.6" height="1540" fill="none" stroke="#000" stroke-width="2.1"/>
<path d="M1758.5 1687.3H1768.5" stroke="#000" stroke-width="2.2"/>
<text class="s" x="1780.8" y="1697.6" font-size="28.20" textLength="53.5" lengthAdjust="spacingAndGlyphs" fill="#000" >−15</text>
<path d="M1758.5 1607.1H1768.5" stroke="#000" stroke-width="2.2"/>
<text class="s" x="1780.8" y="1617.4" font-size="28.20" textLength="53.5" lengthAdjust="spacingAndGlyphs" fill="#000" >−10</text>
<path d="M1758.5 1526.9H1768.5" stroke="#000" stroke-width="2.2"/>
<text class="s" x="1780.8" y="1537.2" font-size="28.20" textLength="36.5" lengthAdjust="spacingAndGlyphs" fill="#000" >−5</text>
<path d="M1758.5 1446.7H1768.5" stroke="#000" stroke-width="2.2"/>
<text class="s" x="1779.8" y="1457.0" font-size="28.20" textLength="15.8" lengthAdjust="spacingAndGlyphs" fill="#000" >0</text>
<path d="M1758.5 1366.5H1768.5" stroke="#000" stroke-width="2.2"/>
<text class="s" x="1779.8" y="1376.8" font-size="28.20" textLength="15.8" lengthAdjust="spacingAndGlyphs" fill="#000" >5</text>
<path d="M1758.5 1286.3H1768.5" stroke="#000" stroke-width="2.2"/>
<text class="s" x="1779.8" y="1296.6" font-size="28.20" textLength="30.6" lengthAdjust="spacingAndGlyphs" fill="#000" >10</text>
<path d="M1758.5 1206.1H1768.5" stroke="#000" stroke-width="2.2"/>
<text class="s" x="1779.8" y="1216.4" font-size="28.20" textLength="30.6" lengthAdjust="spacingAndGlyphs" fill="#000" >15</text>
<path d="M1758.5 1125.9H1768.5" stroke="#000" stroke-width="2.2"/>
<text class="s" x="1779.8" y="1136.2" font-size="28.20" textLength="30.6" lengthAdjust="spacingAndGlyphs" fill="#000" >20</text>
<path d="M1758.5 1045.6H1768.5" stroke="#000" stroke-width="2.2"/>
<text class="s" x="1779.8" y="1055.9" font-size="28.20" textLength="30.6" lengthAdjust="spacingAndGlyphs" fill="#000" >25</text>
<path d="M1758.5 965.4H1768.5" stroke="#000" stroke-width="2.2"/>
<text class="s" x="1779.8" y="975.7" font-size="28.20" textLength="30.6" lengthAdjust="spacingAndGlyphs" fill="#000" >30</text>
<path d="M1758.5 885.2H1768.5" stroke="#000" stroke-width="2.2"/>
<text class="s" x="1779.8" y="895.5" font-size="28.20" textLength="30.6" lengthAdjust="spacingAndGlyphs" fill="#000" >35</text>
<path d="M1758.5 805.0H1768.5" stroke="#000" stroke-width="2.2"/>
<text class="s" x="1779.8" y="815.3" font-size="28.20" textLength="30.6" lengthAdjust="spacingAndGlyphs" fill="#000" >40</text>
<path d="M1758.5 724.8H1768.5" stroke="#000" stroke-width="2.2"/>
<text class="s" x="1779.8" y="735.1" font-size="28.20" textLength="30.6" lengthAdjust="spacingAndGlyphs" fill="#000" >45</text>
<path d="M1758.5 644.6H1768.5" stroke="#000" stroke-width="2.2"/>
<text class="s" x="1779.8" y="654.9" font-size="28.20" textLength="30.6" lengthAdjust="spacingAndGlyphs" fill="#000" >50</text>
<path d="M1758.5 564.4H1768.5" stroke="#000" stroke-width="2.2"/>
<text class="s" x="1779.8" y="574.7" font-size="28.20" textLength="30.6" lengthAdjust="spacingAndGlyphs" fill="#000" >55</text>
<path d="M1758.5 484.2H1768.5" stroke="#000" stroke-width="2.2"/>
<text class="s" x="1779.8" y="494.5" font-size="28.20" textLength="30.6" lengthAdjust="spacingAndGlyphs" fill="#000" >60</text>
<path d="M1758.5 404.0H1768.5" stroke="#000" stroke-width="2.2"/>
<text class="s" x="1779.8" y="414.3" font-size="28.20" textLength="30.6" lengthAdjust="spacingAndGlyphs" fill="#000" >65</text>
<path d="M1758.5 323.8H1768.5" stroke="#000" stroke-width="2.2"/>
<text class="s" x="1779.8" y="334.1" font-size="28.20" textLength="30.6" lengthAdjust="spacingAndGlyphs" fill="#000" >70</text>
<path d="M1758.5 243.6H1768.5" stroke="#000" stroke-width="2.2"/>
<text class="s" x="1779.8" y="253.9" font-size="28.20" textLength="30.6" lengthAdjust="spacingAndGlyphs" fill="#000" >75</text>
<path d="M149.0 1810.0A48.3 48.3 0 1 0 149.0 1856.8L132.9 1847.8A29.8 29.8 0 1 1 132.9 1819.0Z" fill="#ffb300"/><path d="M99.5 1817.5C112.9 1811.0 122.9 1812.8 136.2 1817.0S156.3 1818.5 166.3 1813.5L166.3 1829.5C156.3 1834.5 142.9 1835.0 132.9 1832.5S109.5 1826.5 99.5 1833.5Z" fill="#0090d4"/><path d="M99.5 1838.5C112.9 1832.0 122.9 1833.8 136.2 1838.0S156.3 1839.5 166.3 1834.5L166.3 1849.5C156.3 1854.5 142.9 1855.0 132.9 1852.5S109.5 1846.5 99.5 1853.5Z" fill="#0090d4"/><text class="s" x="178.2" y="1807.6" font-size="29.5" font-weight="normal" textLength="112.5" lengthAdjust="spacingAndGlyphs" fill="#1e1e1e" stroke="#1e1e1e" stroke-width="0.45">Servicio</text><text class="s" x="178.8" y="1834.0" font-size="29.5" font-weight="normal" textLength="201.5" lengthAdjust="spacingAndGlyphs" fill="#1e1e1e" stroke="#1e1e1e" stroke-width="0.45">Meteorológico</text><text class="s" x="178.8" y="1860.2" font-size="29.5" font-weight="normal" textLength="119.0" lengthAdjust="spacingAndGlyphs" fill="#1e1e1e" stroke="#1e1e1e" stroke-width="0.45">Nacional</text><text class="s" x="180.0" y="1880.6" font-size="18" font-weight="normal" textLength="93.5" lengthAdjust="spacingAndGlyphs" fill="#1e1e1e" stroke="#1e1e1e" stroke-width="0.5">Argentina</text><g fill="none" stroke="#2a3457" stroke-width="1" stroke-linecap="round"><path d="M523.3 1799.0L511.9 1799.9M523.4 1797.3L507.9 1795.7M523.7 1795.6L512.7 1792.3M524.3 1794.0L510.5 1787.0M525.3 1792.5L516.1 1785.5M526.4 1791.2L516.1 1779.7M527.8 1790.2L521.8 1780.4M529.4 1789.4L523.8 1775.0M531.1 1789.0L529.0 1777.7M532.8 1788.8L532.8 1773.3M534.5 1789.0L536.6 1777.7M536.2 1789.4L541.8 1775.0M537.8 1790.2L543.8 1780.4M539.2 1791.2L549.5 1779.7M540.3 1792.5L549.5 1785.5M541.3 1794.0L555.1 1787.0M541.9 1795.6L552.9 1792.3M542.2 1797.3L557.7 1795.7M542.3 1799.0L553.7 1799.9" stroke-width="1.1"/><path d="M523.8 1799.3a9 9 0 0 1 18 0" /><path d="M527.8 1795.3h3M534.8 1795.3h3M532.8 1797.3v3" stroke-width="1.6"/><ellipse cx="532.8" cy="1841.3" rx="36" ry="43.5" stroke-width="2.6" stroke-dasharray="3.2 1.7" stroke-opacity="0.8" stroke-linecap="butt"/><ellipse cx="532.8" cy="1840.8" rx="32.6" ry="41.5" stroke-width="2.4" stroke-dasharray="3.2 1.7" stroke-dashoffset="2.4" stroke-opacity="0.8" stroke-linecap="butt"/><ellipse cx="532.8" cy="1840.3" rx="27.5" ry="40" stroke-width="1.2"/><path d="M515.4 1809.3H550.2M512.8 1812.9H552.8M510.7 1816.5H554.9M509.1 1820.1H556.5M507.8 1823.7H557.8M506.8 1827.3H558.8M506.1 1830.9H559.5M505.6 1834.5H560.0M505.3 1838.1H560.3" stroke-width="0.8"/><path d="M532.8 1829.3c-4 0 -7 0 -7.5 -3c-0.5 -2 0.5 -3 0 -5c-1 -6 5 -10 10 -9c5 1 9 6 7 11c0 2 1 4 0 5.5c-2 1.5 -6 0.5 -9.500 0.5z" fill="#e6e6e6" stroke-width="1.2"/><path d="M532.8 1829.3V1870.3" stroke-width="2"/><path d="M506.3 1854.3q12 -8 26 -9q14 1 27 8" stroke-width="1"/><path d="M507.8 1864.3q10 -8 20 -10q8 -1 12 2q10 3 20 10" stroke-width="1"/><path d="M523.8 1854.8q4 -4 9 -2q5 -2 9 2q-4 4 -9 3q-5 1 -9 -3z" fill="#e6e6e6" stroke-width="1.2"/><path d="M526.8 1884.3h12v5h-12zM529.8 1889.3l-9 8l5 0M535.8 1889.3l9 8l-5 0" stroke-width="1.8" fill="#2a3457"/></g><text class="f" x="583.5" y="1827.2" font-size="27.5" font-weight="bold" textLength="131.8" lengthAdjust="spacingAndGlyphs" fill="#2a3457" >Ministerio</text><text class="f" x="583.5" y="1852.9" font-size="27.5" font-weight="bold" textLength="133.0" lengthAdjust="spacingAndGlyphs" fill="#2a3457" >de Defensa</text><text class="f" x="583.5" y="1873.7" font-size="16" font-weight="normal" textLength="150.0" lengthAdjust="spacingAndGlyphs" fill="#2a3457" >República Argentina</text><g fill="none" stroke="#222b50" stroke-width="1.1" stroke-linecap="round"><path d="M884.3 1799.0L872.9 1799.9M884.4 1797.3L868.9 1795.7M884.7 1795.6L873.7 1792.3M885.3 1794.0L871.5 1787.0M886.3 1792.5L877.1 1785.5M887.4 1791.2L877.1 1779.7M888.8 1790.2L882.8 1780.4M890.4 1789.4L884.8 1775.0M892.1 1789.0L890.0 1777.7M893.8 1788.8L893.8 1773.3M895.5 1789.0L897.6 1777.7M897.2 1789.4L902.8 1775.0M898.8 1790.2L904.8 1780.4M900.2 1791.2L910.5 1779.7M901.3 1792.5L910.5 1785.5M902.3 1794.0L916.1 1787.0M902.9 1795.6L913.9 1792.3M903.2 1797.3L918.7 1795.7M903.3 1799.0L914.7 1799.9" stroke-width="1.21"/><path d="M884.8 1799.3a9 9 0 0 1 18 0" /><path d="M888.8 1795.3h3M895.8 1795.3h3M893.8 1797.3v3" stroke-width="1.6"/><ellipse cx="893.8" cy="1841.3" rx="36" ry="43.5" stroke-width="2.6" stroke-dasharray="3.2 1.7" stroke-opacity="0.8" stroke-linecap="butt"/><ellipse cx="893.8" cy="1840.8" rx="32.6" ry="41.5" stroke-width="2.4" stroke-dasharray="3.2 1.7" stroke-dashoffset="2.4" stroke-opacity="0.8" stroke-linecap="butt"/><ellipse cx="893.8" cy="1840.3" rx="27.5" ry="40" stroke-width="1.32"/><path d="M876.4 1809.3H911.2M873.8 1812.9H913.8M871.7 1816.5H915.9M870.1 1820.1H917.5M868.8 1823.7H918.8M867.8 1827.3H919.8M867.1 1830.9H920.5M866.6 1834.5H921.0M866.3 1838.1H921.3" stroke-width="0.8"/><path d="M893.8 1829.3c-4 0 -7 0 -7.5 -3c-0.5 -2 0.5 -3 0 -5c-1 -6 5 -10 10 -9c5 1 9 6 7 11c0 2 1 4 0 5.5c-2 1.5 -6 0.5 -9.500 0.5z" fill="#e6e6e6" stroke-width="1.32"/><path d="M893.8 1829.3V1870.3" stroke-width="2"/><path d="M867.3 1854.3q12 -8 26 -9q14 1 27 8" stroke-width="1.1"/><path d="M868.8 1864.3q10 -8 20 -10q8 -1 12 2q10 3 20 10" stroke-width="1.1"/><path d="M884.8 1854.8q4 -4 9 -2q5 -2 9 2q-4 4 -9 3q-5 1 -9 -3z" fill="#e6e6e6" stroke-width="1.32"/><path d="M887.8 1884.3h12v5h-12zM890.8 1889.3l-9 8l5 0M896.8 1889.3l9 8l-5 0" stroke-width="1.8" fill="#222b50"/></g><text class="f" x="946.6" y="1827.2" font-size="27.5" font-weight="bold" textLength="135.0" lengthAdjust="spacingAndGlyphs" fill="#222b50" >Ministerio</text><text class="f" x="946.6" y="1852.9" font-size="27.5" font-weight="bold" textLength="161.5" lengthAdjust="spacingAndGlyphs" fill="#222b50" >de Economía</text><text class="f" x="946.2" y="1873.7" font-size="16" font-weight="normal" textLength="153.3" lengthAdjust="spacingAndGlyphs" fill="#222b50" >República Argentina</text>
</svg></body></html>
